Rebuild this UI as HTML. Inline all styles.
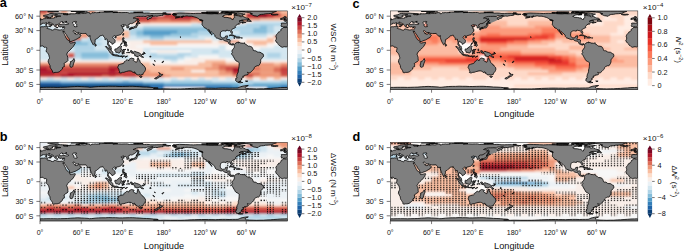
<!DOCTYPE html><html><head><meta charset="utf-8"><style>html,body{margin:0;padding:0;background:#fff;width:685px;height:251px;overflow:hidden}svg{display:block;font-family:"Liberation Sans", sans-serif;}text{fill:#111}</style></head><body>
<svg width="685" height="251" viewBox="0 0 685 251">
<defs>
<path id="land" d="M3.4 76.5L6.9 76.4L10.3 76.4L13.8 76.4L17.2 76.5L20.6 76.4L24.1 76.3L27.5 76.2L30.9 75.9L34.4 75.7L37.8 75.5L41.2 75.7L44.7 75.9L48.1 76.1L49.5 76.4L51.6 76.3L55.0 75.9L58.4 75.6L61.9 75.5L65.3 75.5L68.8 75.3L72.2 75.4L75.6 75.4L79.1 75.6L82.5 75.6L85.9 75.5L89.4 75.4L92.8 75.4L96.2 75.6L99.7 75.8L103.1 76.1L106.6 76.2L110.0 76.4L113.4 76.7L116.9 76.9L118.2 77.2L115.5 77.5L113.4 77.8L114.1 77.9L116.9 78.0L120.3 78.0L123.8 77.9L130.6 78.0L137.5 78.0L140.9 78.0L144.4 77.9L147.8 77.7L151.2 77.5L154.7 77.4L158.1 77.3L161.6 77.2L165.0 77.2L168.4 77.3L171.9 77.3L175.3 77.4L178.8 77.2L182.2 77.1L185.6 77.1L189.1 77.2L192.5 77.1L195.2 77.1L198.0 77.0L199.4 76.4L200.8 75.8L202.1 75.4L204.2 75.0L206.9 74.6L208.3 74.6L207.6 75.1L206.2 75.5L205.6 76.1L204.9 76.5L205.6 77.1L206.2 77.5L209.7 77.8L213.1 77.9L216.6 78.0L220.0 77.9L223.4 77.9L226.9 77.6L230.3 77.5L233.8 77.2L237.2 77.0L240.6 76.7L244.1 76.6L247.5 76.5L247.5 78.8L123.8 78.8L0.0 78.8L0.0 76.5ZM85.9 49.6L86.6 49.1L87.3 48.8L88.1 49.6L89.0 49.6L89.2 48.6L89.7 47.9L90.4 47.7L91.1 47.2L91.8 47.3L93.2 47.7L93.8 47.6L94.0 48.5L93.2 49.4L93.8 49.9L94.7 50.5L95.9 51.2L96.6 51.3L96.9 50.8L97.3 49.9L97.3 48.6L97.6 47.6L98.0 46.7L98.7 48.0L98.7 48.9L99.3 49.1L99.9 49.6L100.0 50.6L100.5 51.8L101.1 52.4L102.3 53.1L102.8 54.3L103.7 54.5L104.0 55.3L105.0 56.2L105.3 56.7L105.6 58.3L105.2 59.7L104.8 60.5L104.0 61.4L103.3 62.4L103.1 63.4L101.4 63.7L100.7 64.2L100.4 64.1L99.6 63.6L98.7 64.1L97.6 63.9L96.6 63.6L95.9 62.4L94.9 62.3L95.2 61.9L94.7 62.0L94.5 60.9L93.5 61.4L93.2 61.9L92.3 60.7L91.4 60.3L90.1 60.0L88.7 60.0L86.6 60.5L85.2 60.9L83.9 61.4L82.5 61.4L81.1 62.0L80.1 62.0L79.1 61.6L79.5 61.1L79.5 60.3L79.1 59.7L79.0 58.8L78.4 57.6L77.8 56.7L78.0 55.7L78.5 54.8L78.4 54.0L79.4 53.6L80.4 53.3L81.8 52.9L83.2 52.6L84.1 51.9L84.0 51.2L84.6 50.6L85.2 50.5ZM30.2 52.9L30.5 51.6L30.2 50.9L32.0 50.1L32.9 49.3L33.5 48.3L33.9 47.6L34.7 49.9L34.2 50.9L33.5 52.9L32.7 55.7L32.3 56.1L31.1 56.4L30.2 56.0L29.8 54.2ZM83.0 46.2L82.5 46.4L81.7 46.0L81.8 45.8ZM85.2 46.3L85.0 46.4L86.0 45.6L87.5 45.2L85.9 46.0ZM80.2 45.1L80.1 45.5L79.8 45.4L79.8 45.1ZM80.4 45.6L80.3 45.2L81.1 45.0L82.0 45.2L81.5 45.4ZM82.8 45.4L82.4 45.2L83.5 45.2L84.6 45.0L84.4 45.4ZM79.5 45.2L79.2 45.4L78.7 45.2L78.8 45.0ZM75.6 45.0L74.2 44.7L73.2 44.5L72.3 44.1L72.9 43.5L74.5 43.7L75.9 44.1L76.7 43.9L77.4 44.1L78.6 44.7L78.7 45.4L77.0 45.1ZM101.4 43.5L101.1 44.1L101.8 44.9L102.8 45.9L103.7 46.4L102.4 46.4L101.4 46.2L100.4 45.0L99.0 44.7L98.3 45.6L96.9 45.6L95.6 45.0L94.9 45.2L94.7 43.2L93.2 42.4L91.4 42.1L90.8 41.3L91.4 41.1L90.3 40.4L90.1 40.1L91.1 39.7L92.1 40.0L92.8 41.7L94.5 40.4L96.2 41.0L98.0 41.6L99.3 42.1L100.2 42.8ZM87.5 41.5L87.3 42.0L86.6 41.9L86.6 41.6ZM89.4 41.4L89.9 41.8L88.3 41.8L88.0 41.4ZM83.2 39.1L82.7 39.8L83.5 40.0L84.8 40.0L84.2 40.6L83.4 40.7L84.4 42.4L83.7 42.8L83.2 41.3L82.8 41.5L82.8 43.2L82.1 43.2L82.2 41.8L81.7 41.3L82.0 40.1L82.4 39.1L83.0 38.5L84.2 38.7L85.9 38.4L84.6 39.1ZM72.7 43.4L71.9 43.5L70.3 42.1L69.4 40.8L68.6 39.7L67.9 38.3L67.0 37.5L66.2 36.7L65.4 35.8L65.5 35.6L67.0 35.8L67.9 36.9L69.1 38.0L69.8 38.2L71.3 39.4L71.8 40.1L72.8 41.3L72.9 42.5ZM88.5 38.7L88.0 39.1L88.5 39.6L87.8 40.0L87.7 39.1L87.7 38.2L88.0 37.9ZM81.0 35.3L82.0 35.8L81.3 36.3L80.9 36.6L81.1 38.2L81.8 38.7L80.8 39.4L80.8 40.0L80.1 41.1L79.8 41.9L78.7 42.1L77.7 41.6L76.8 41.5L75.8 41.4L75.6 40.5L74.9 39.7L74.9 38.7L74.9 38.1L75.3 38.0L76.3 38.3L76.6 37.7L77.7 37.2L78.4 36.2L79.3 35.9L79.8 35.3L80.4 34.6ZM84.9 34.1L83.8 34.6L84.2 34.1L84.9 33.4L85.7 33.3L86.3 32.7L87.0 34.4L86.8 35.1L86.2 35.6L85.4 35.1ZM56.3 34.4L55.9 35.1L55.1 35.3L54.9 33.9L54.9 32.8L55.5 33.0ZM82.0 31.6L82.4 31.9L81.1 33.8L80.6 33.6ZM83.9 32.2L83.9 31.3L84.6 31.5L84.5 32.0L84.8 32.0L84.8 31.7L85.3 31.9L84.8 32.9L84.8 32.7L84.8 33.2L84.5 33.2L84.3 32.2ZM85.5 31.9L85.4 30.9L86.4 31.1L86.3 32.4L85.8 32.6ZM83.5 30.4L83.3 31.1L82.8 30.9L82.7 30.2ZM84.2 30.3L83.5 30.1L82.9 29.7L82.5 29.4L82.4 28.5L82.9 26.9L84.0 26.9L84.0 27.9L83.6 28.7L83.9 29.9L85.2 30.5L85.3 30.9L84.8 30.5ZM76.3 26.1L76.0 26.8L75.3 27.1L74.7 26.4L75.1 25.9L75.8 25.9ZM7.6 15.6L7.3 16.0L7.6 16.5L7.4 16.9L6.9 17.4L7.9 17.8L9.1 18.0L10.5 18.3L11.0 18.9L12.4 19.2L13.1 19.5L13.6 19.1L13.8 18.5L14.8 18.0L15.8 18.2L16.5 18.5L17.3 18.8L19.2 19.1L20.6 19.0L21.3 18.8L22.2 18.9L22.7 19.0L23.2 19.0L23.6 18.8L23.9 18.5L24.1 18.1L24.2 17.9L24.4 17.4L24.7 16.9L24.6 16.5L24.6 16.1L24.9 15.9L24.4 15.9L23.8 15.8L23.1 16.1L22.3 16.2L21.7 15.9L21.1 15.7L21.0 16.0L20.1 16.1L19.6 15.9L19.2 15.8L18.8 15.7L18.7 15.2L18.1 15.0L18.6 14.9L18.4 14.8L18.4 14.4L18.1 14.2L18.0 13.9L17.9 13.7L17.2 13.6L16.5 13.7L16.3 14.0L15.7 13.8L15.8 14.1L15.7 14.5L15.9 14.7L16.6 15.0L16.3 15.2L15.9 15.5L15.8 16.0L15.4 16.0L14.9 15.8L14.7 15.4L14.5 14.9L14.2 14.6L13.8 14.2L13.3 13.8L13.4 13.6L13.3 13.1L12.9 12.9L12.4 12.7L12.0 12.5L11.3 12.3L10.7 12.0L10.3 11.7L10.0 11.4L9.6 11.6L9.3 11.5L9.5 11.2L8.9 11.2L8.5 11.3L8.6 11.9L9.3 12.2L9.5 12.4L10.0 12.8L10.5 13.0L11.0 13.3L11.7 13.6L12.4 13.7L12.7 14.0L12.4 13.8L11.8 13.8L11.3 14.2L11.8 14.3L11.8 14.6L11.4 14.9L11.1 15.2L10.8 15.1L10.9 14.6L10.7 14.0L10.2 13.8L9.6 13.7L8.9 13.4L8.5 13.2L7.7 12.8L7.3 12.6L7.1 12.3L6.7 12.0L6.1 11.8L5.6 12.1L5.0 12.2L4.3 12.5L3.7 12.4L3.1 12.3L2.4 12.4L2.1 12.5L2.2 12.8L2.2 13.1L1.5 13.3L1.0 13.4L0.6 13.7L0.0 14.1L0.0 9.5L0.1 9.5L0.1 9.4L0.7 9.3L1.1 9.1L1.1 8.8L1.7 8.7L2.3 8.6L2.8 8.4L3.0 8.3L3.2 8.0L3.4 7.9L4.1 7.8L4.8 7.7L5.5 7.7L5.9 7.6L6.1 7.4L6.0 7.2L5.9 7.0L5.6 6.7L5.6 6.5L6.2 6.3L6.7 6.2L7.3 6.1L7.3 6.2L7.1 6.6L6.9 6.9L6.9 7.0L7.1 6.9L7.4 7.0L7.2 7.1L7.1 7.1L6.9 7.3L7.5 7.4L7.6 7.5L8.5 7.4L9.3 7.4L10.0 7.6L11.0 7.4L11.7 7.2L12.6 7.2L12.9 7.4L13.5 7.3L14.1 7.2L14.6 7.0L14.5 6.7L14.4 6.4L14.9 6.2L15.5 6.1L16.1 6.4L16.6 6.4L16.8 6.3L16.7 5.9L16.2 5.8L16.2 5.6L16.8 5.5L18.2 5.5L19.2 5.5L19.9 5.3L20.8 5.3L20.3 5.2L19.6 5.1L18.2 5.1L17.2 5.2L16.2 5.3L15.3 5.2L14.8 5.1L14.7 4.9L14.7 4.6L14.9 4.3L15.8 4.1L16.8 4.0L17.5 3.8L17.4 3.7L16.6 3.5L15.5 3.5L14.8 3.6L14.6 3.9L13.8 4.1L12.7 4.3L12.0 4.5L11.9 4.8L12.2 5.1L13.0 5.3L12.4 5.6L11.4 5.8L11.3 6.3L11.0 6.6L10.0 6.7L9.8 7.0L8.9 6.9L8.6 6.5L8.2 6.1L7.9 5.8L7.6 5.6L7.4 5.3L7.2 5.5L6.5 5.6L5.7 5.9L4.8 6.0L4.5 6.0L3.9 5.7L3.6 5.5L3.4 5.1L3.4 4.9L3.6 4.5L4.8 4.4L5.8 4.1L6.9 4.0L7.7 3.7L8.6 3.4L8.9 3.1L9.6 2.8L11.0 2.6L13.1 2.4L14.8 2.3L16.2 2.2L17.7 2.1L19.2 2.2L20.6 2.4L22.7 2.5L24.8 2.6L26.8 2.8L28.3 3.0L28.2 3.2L25.4 3.4L23.9 3.3L23.0 3.3L23.7 3.5L24.1 3.8L25.1 3.7L26.1 3.9L27.8 3.8L26.8 3.6L27.5 3.4L28.9 3.3L30.2 3.4L29.8 2.7L30.4 2.8L32.0 2.9L34.4 2.9L36.8 2.6L37.8 2.8L40.6 2.7L41.6 2.4L44.3 2.6L45.9 2.5L46.1 2.3L47.1 1.8L48.1 1.6L49.2 1.8L50.0 2.0L49.8 2.6L50.5 2.9L51.2 2.7L51.9 1.8L53.6 1.9L55.3 1.6L56.4 1.8L59.8 1.6L59.1 1.4L61.2 1.3L64.6 1.2L67.4 1.2L68.8 1.1L71.7 0.9L76.3 1.1L77.7 1.3L74.9 1.4L72.9 1.7L75.6 1.6L77.0 1.6L78.4 1.6L81.8 1.7L85.2 1.6L87.3 1.6L88.0 1.8L89.4 2.2L90.8 2.0L93.5 2.0L96.2 1.8L99.0 1.8L101.8 1.9L104.5 2.2L106.6 2.1L109.3 2.2L110.7 2.5L114.1 2.5L116.9 2.4L121.0 2.4L123.8 2.6L125.8 2.7L127.9 3.1L130.8 3.4L129.2 3.5L128.9 3.8L127.2 3.8L125.1 3.5L124.4 3.7L122.7 3.8L122.7 4.1L123.1 4.4L121.7 4.5L120.0 4.7L118.6 4.9L117.1 5.3L115.5 5.1L113.8 5.3L112.4 5.6L112.3 6.1L111.4 6.7L111.2 7.3L110.0 7.5L109.0 7.9L108.3 8.6L107.7 8.8L107.4 8.1L107.0 7.5L107.1 6.9L107.6 6.4L108.6 6.0L110.3 5.5L111.4 5.1L112.1 4.9L113.1 4.5L112.1 4.5L110.3 4.7L109.3 4.7L107.6 4.8L106.6 5.1L106.2 5.5L104.8 5.6L103.7 5.4L101.8 5.5L100.4 5.5L98.4 5.5L96.2 6.0L94.5 6.5L93.2 7.2L94.2 7.3L95.2 7.5L96.6 7.7L97.1 8.1L96.9 8.6L96.6 9.2L96.2 9.9L95.2 10.6L94.5 11.3L93.8 11.6L92.8 12.3L91.5 12.7L90.7 12.5L89.9 12.8L89.2 13.1L89.2 13.7L88.2 14.1L87.7 14.5L88.3 14.9L88.8 15.3L89.0 16.0L88.9 16.6L88.3 16.8L87.7 17.0L86.8 17.0L86.9 16.5L87.0 15.7L86.7 15.3L86.1 14.9L85.9 14.3L85.5 14.1L84.9 14.2L84.2 14.4L83.6 14.7L84.0 13.8L83.2 13.7L82.2 14.1L81.5 14.5L80.9 14.6L81.1 14.9L81.7 15.1L81.8 15.6L82.8 15.4L83.5 15.3L84.3 15.5L83.5 15.8L82.8 16.2L82.5 16.5L82.0 17.0L82.7 17.2L83.0 18.2L83.7 18.7L83.8 19.1L83.2 19.5L83.8 19.8L83.5 20.3L82.8 20.9L82.4 21.5L82.2 22.1L81.7 22.7L81.2 23.1L80.8 23.6L80.1 24.0L79.4 24.1L78.5 24.4L77.7 24.5L76.8 24.9L76.0 25.2L75.8 25.7L75.6 25.1L75.0 25.0L74.6 24.8L73.9 25.0L73.4 25.4L72.7 26.1L72.7 26.7L73.2 27.4L73.8 28.0L74.4 28.5L74.8 28.9L75.1 29.5L75.1 30.5L75.1 31.4L74.6 31.9L73.6 32.3L73.3 32.9L72.5 33.2L72.0 33.5L72.0 32.6L71.5 32.2L70.8 31.9L70.5 31.2L69.4 30.7L69.4 30.3L68.9 30.3L68.7 30.7L68.5 31.4L68.2 32.2L68.3 32.9L68.8 33.5L69.0 34.3L69.7 34.7L70.3 35.1L70.9 35.7L71.1 36.7L71.4 37.6L71.6 38.4L71.4 38.5L71.1 38.5L70.3 37.9L69.8 37.6L69.4 37.3L69.2 36.5L69.0 35.7L68.4 34.7L67.9 34.1L67.6 33.7L67.6 32.6L67.7 31.9L67.8 31.1L67.5 30.2L67.2 29.2L67.1 28.2L66.7 27.9L66.2 28.2L65.9 28.6L65.3 28.7L64.8 28.5L65.0 27.9L64.8 27.2L64.4 26.4L63.9 25.9L63.5 25.5L63.2 25.1L63.1 24.4L62.9 24.2L62.2 24.4L61.7 24.6L61.0 24.8L60.5 24.8L59.8 25.0L59.7 25.5L59.0 26.1L58.1 26.8L57.3 27.4L56.6 28.1L55.8 28.4L55.2 28.7L55.1 29.2L55.2 30.3L55.1 30.9L54.9 31.7L54.5 32.4L54.3 33.0L53.8 33.4L53.3 33.8L52.7 33.4L52.5 32.6L52.2 32.2L51.8 31.3L51.4 30.6L51.2 30.0L50.7 28.9L50.4 27.9L50.0 26.6L50.1 25.9L50.0 25.3L49.9 24.6L49.8 25.2L48.8 25.5L47.9 24.9L47.3 24.3L46.9 23.7L46.4 23.4L46.1 22.9L45.9 22.5L44.7 22.6L43.7 22.6L42.3 22.7L40.9 22.5L39.7 22.4L39.4 22.1L38.7 21.4L37.7 21.8L36.4 21.5L35.4 21.0L34.9 20.3L34.0 19.7L33.3 19.7L33.0 20.1L33.3 20.7L34.0 21.4L34.4 21.9L34.5 22.4L34.9 22.9L35.2 22.1L35.5 22.3L35.5 23.2L36.4 23.3L37.5 23.2L38.2 22.4L38.7 21.9L38.7 22.4L39.0 23.1L39.5 23.5L40.3 23.6L41.1 24.3L40.2 25.6L39.7 26.6L38.8 26.9L37.8 27.6L36.8 28.1L35.9 28.7L35.1 29.1L33.8 29.5L32.3 30.1L30.9 30.7L29.9 30.7L29.6 29.9L29.4 28.7L29.1 27.9L28.3 26.9L27.5 25.9L27.0 25.0L26.5 24.0L25.8 23.2L25.2 22.3L24.5 21.4L24.1 20.9L24.0 20.0L23.6 21.1L22.8 20.6L23.2 21.4L23.9 22.4L24.4 23.5L24.8 24.5L25.4 25.3L25.6 26.2L26.1 27.1L26.7 27.9L27.2 28.8L27.8 29.0L28.5 29.5L29.2 30.2L29.8 30.8L29.7 31.5L30.2 32.2L30.9 32.3L31.6 32.1L33.3 31.7L34.4 31.5L35.1 31.3L35.3 32.3L34.9 32.9L34.2 34.1L33.3 35.6L32.3 36.7L31.1 38.0L29.9 39.1L28.6 40.5L27.6 41.3L27.3 42.1L26.7 43.2L27.0 44.1L27.3 44.9L27.8 46.6L27.8 47.9L28.0 49.6L27.2 50.6L25.8 51.2L24.9 52.1L23.9 52.7L24.4 53.8L24.3 54.8L24.4 55.7L23.0 56.2L22.4 56.7L22.6 57.0L22.3 58.2L21.3 59.0L20.6 59.7L19.6 60.6L18.6 61.1L17.6 61.4L16.5 61.5L15.1 61.5L13.8 61.9L13.4 61.8L12.6 61.4L12.5 60.2L12.0 59.4L11.3 58.3L10.9 57.8L10.4 57.0L10.2 56.4L10.0 54.8L10.0 54.5L9.2 53.2L8.6 51.9L8.1 51.1L8.3 49.7L8.6 48.6L9.3 47.8L9.5 46.7L9.1 45.4L8.9 44.5L8.5 43.5L8.1 42.7L7.4 41.8L6.5 41.1L6.0 39.9L6.4 39.4L6.5 38.7L6.7 37.7L6.7 36.8L6.2 36.7L5.7 36.2L4.8 36.4L4.1 36.4L3.9 36.0L3.1 35.1L2.3 35.0L1.7 35.1L0.8 35.2L0.0 35.6L0.0 16.2L0.7 16.0L2.1 15.8L3.4 15.9L4.3 15.6L5.4 15.7L5.9 15.7L6.8 15.5ZM26.1 11.8L25.4 11.4L26.5 10.7L27.0 10.5L25.8 10.6L24.4 11.3L23.0 11.8L22.3 11.3L23.0 11.1L21.7 10.8L21.1 10.8L20.4 11.4L19.7 12.0L19.2 12.5L19.2 13.2L19.2 13.4L19.9 13.4L21.3 13.5L22.7 13.1L24.1 13.0L25.1 13.4L26.1 13.6L27.5 13.6L28.5 13.3L28.7 12.8L27.5 12.3ZM36.5 14.4L37.0 13.8L36.3 13.3L36.1 13.0L35.4 12.4L35.2 11.8L36.4 11.4L36.5 10.7L35.4 10.5L34.0 10.9L33.3 10.9L32.7 11.3L32.7 12.5L33.4 13.1L34.0 13.8L33.8 14.6L33.6 15.0L34.0 15.4L35.1 15.9L37.1 15.7L37.1 15.1ZM0.1 14.7L0.0 14.8L0.0 14.6ZM83.9 22.7L83.5 24.1L83.0 24.6L82.6 24.0L82.6 23.5L83.2 22.7ZM90.5 17.8L90.3 18.9L89.9 19.1L89.5 18.9L89.2 18.1L89.2 17.7L90.0 17.4ZM92.6 17.5L92.1 17.8L91.4 18.1L91.1 17.9L91.4 17.4L92.5 17.3ZM18.1 16.6L17.9 16.8L16.5 16.8L16.2 16.6ZM22.7 17.0L22.2 17.0L22.7 16.6L23.8 16.4L23.3 16.8ZM10.7 15.0L10.4 15.5L10.4 15.9L9.8 15.7L8.5 15.4L8.5 15.3L9.3 15.0ZM96.2 14.1L96.2 13.8L96.5 13.4L97.3 13.3L97.3 13.8L97.6 14.3L97.3 15.0L96.9 15.4L96.8 16.2L96.2 16.7L95.7 16.7L95.4 17.0L94.3 17.0L94.0 17.2L93.4 17.7L92.9 17.1L91.8 17.1L91.1 17.3L90.1 17.4L90.0 17.4L90.7 16.9L91.4 16.5L92.8 16.4L93.5 16.3L94.0 15.6L94.4 15.8L95.3 15.3L96.0 14.8ZM6.7 13.8L6.6 14.5L6.2 14.7L5.8 14.6L5.8 13.6L6.3 13.4ZM6.3 13.3L5.9 13.3L5.9 12.8L6.5 12.5L6.5 13.0ZM0.1 7.7L0.2 7.9L1.2 8.1L0.6 8.4L1.0 8.6L0.7 8.8L0.0 8.8L0.0 7.6ZM8.1 7.1L7.6 7.0L7.8 6.7L8.7 6.7L8.5 7.0ZM38.5 2.0L39.5 2.2L37.8 2.2L35.8 2.1L36.4 1.8L38.5 1.5L40.6 1.2L45.4 1.0L47.4 1.0L44.0 1.3L41.2 1.5L39.2 1.8ZM11.0 0.6L13.8 0.5L18.6 0.6L15.1 0.8L13.1 1.0L11.0 1.1L9.6 0.9L7.6 0.8ZM72.9 0.7L70.1 0.8L67.4 0.9L63.9 0.7L66.7 0.5L68.8 0.5ZM37.8 0.4L44.7 0.5L39.9 0.6L30.9 0.6ZM201.8 71.5L202.7 71.6L201.4 71.7L200.4 71.9L199.4 71.8L198.3 71.5L199.0 71.1L200.3 70.7ZM207.8 70.2L207.3 70.5L205.9 70.5L205.4 70.1ZM115.8 66.8L117.2 66.3L117.9 65.6L118.3 65.1L118.7 65.0L119.8 65.5L119.4 66.2L118.7 66.7L117.7 67.0L117.2 67.7L116.2 68.1L114.5 67.7L115.2 67.1ZM100.7 65.3L102.0 65.2L102.0 65.9L101.1 66.6L100.4 66.6L99.8 65.9L99.4 65.1ZM120.3 65.5L120.0 64.7L119.5 64.3L120.0 63.7L119.8 63.0L118.9 62.2L118.7 61.7L119.3 62.0L120.0 62.4L120.7 63.1L121.3 63.5L122.7 63.5L122.3 64.3L121.6 64.6L121.0 65.5ZM113.0 53.4L112.8 53.0L113.8 53.5L114.8 54.4L114.4 54.4ZM122.7 51.1L122.8 51.6L122.0 51.7L121.9 51.2ZM123.8 50.3L123.4 50.8L122.9 50.8L122.9 50.4ZM115.0 49.7L115.2 50.6L114.8 50.4L114.5 49.6ZM110.3 45.8L110.6 46.2L109.8 46.1L109.7 45.8ZM110.8 45.3L111.0 46.0L110.6 45.6L110.3 45.1ZM104.7 42.4L104.2 43.2L103.1 43.7L102.1 43.5L102.0 43.2L103.1 42.8L104.2 42.4L104.6 42.4L104.2 42.0L103.5 41.2L104.5 41.7L105.2 42.6L105.0 42.8ZM158.1 2.4L161.6 2.5L165.0 2.6L168.4 2.9L171.9 2.9L174.6 2.7L178.1 2.9L180.1 2.7L181.8 2.9L182.5 2.0L183.6 2.5L186.3 2.7L188.4 3.0L190.4 2.5L191.5 2.7L191.5 3.1L188.7 3.3L188.4 3.4L191.8 3.7L190.4 4.0L187.7 4.1L187.7 3.8L185.6 4.0L183.2 4.8L182.5 5.6L183.6 5.7L183.9 6.4L187.0 6.5L189.1 7.0L190.9 7.1L191.1 7.9L192.2 8.6L193.2 8.6L193.3 7.5L194.7 6.5L194.2 6.0L194.6 5.3L193.9 4.5L195.9 4.5L198.3 4.9L199.4 4.9L199.7 5.6L201.1 5.9L202.8 5.2L203.2 5.7L204.9 6.4L205.2 6.7L206.2 7.1L208.0 7.3L209.0 7.9L209.1 8.4L208.3 8.6L206.2 9.1L203.5 9.1L201.8 9.2L200.4 9.7L199.0 10.5L199.7 10.1L200.8 9.8L202.8 9.6L203.3 9.8L202.8 10.1L202.9 10.4L203.5 11.0L205.6 11.2L206.2 11.0L205.7 11.5L204.2 11.8L202.3 12.3L202.0 11.8L203.2 11.4L201.4 11.5L201.1 11.8L200.1 12.0L199.2 12.2L198.8 12.6L199.0 13.1L199.4 13.2L199.0 13.3L198.3 13.3L197.7 13.4L196.7 13.8L196.6 14.1L196.0 14.7L195.6 15.1L195.2 15.7L195.6 16.5L194.9 17.0L193.9 17.4L193.1 17.8L192.2 18.3L191.7 18.8L191.5 19.4L191.6 19.8L192.2 20.6L192.5 21.6L192.4 22.3L192.2 22.6L191.7 22.6L191.3 22.1L190.7 21.2L190.6 20.6L190.1 19.9L189.5 19.7L188.8 19.9L188.0 19.5L187.0 19.3L186.1 19.5L186.1 20.2L185.3 20.2L184.2 19.9L183.0 19.9L182.2 20.2L181.2 20.8L180.6 21.2L180.5 22.3L180.3 23.2L180.3 24.3L180.5 25.3L181.3 26.4L182.2 26.8L182.7 27.1L183.7 26.9L184.6 26.9L185.3 26.1L185.4 25.3L186.7 25.0L187.7 25.0L187.3 25.9L187.2 26.9L186.8 27.6L186.7 28.5L187.0 28.7L188.0 28.7L189.4 28.6L190.2 29.2L190.0 30.2L190.1 31.2L189.9 31.9L190.4 32.6L191.3 33.2L192.2 33.1L192.8 32.8L193.9 33.1L194.4 33.5L195.2 33.0L195.6 32.2L196.1 31.9L197.0 31.7L197.8 31.3L198.5 31.0L198.3 31.9L198.7 32.2L199.2 31.5L199.4 31.1L200.4 32.2L201.8 32.2L203.2 32.4L204.2 32.1L205.0 32.1L204.5 32.4L205.6 33.2L205.9 33.6L206.6 33.9L207.4 34.7L208.3 35.3L209.7 35.3L210.7 35.6L211.8 36.1L212.1 36.5L212.4 37.0L212.8 38.0L213.1 38.7L213.2 39.4L214.2 39.8L215.2 39.8L216.6 40.4L217.1 41.1L218.6 41.3L220.0 41.3L221.0 41.9L222.1 42.7L223.1 43.0L223.4 43.9L223.6 44.9L223.3 45.9L222.4 46.6L221.7 47.6L221.0 48.3L220.7 49.3L220.7 50.9L220.2 52.6L219.7 53.2L219.3 54.2L218.6 54.8L217.2 54.8L216.2 55.3L215.2 55.8L214.2 56.7L214.0 57.9L213.3 58.7L212.4 59.7L211.7 60.4L210.7 61.3L210.0 61.9L209.2 61.9L208.4 61.7L207.4 61.4L207.4 61.8L208.0 62.3L208.5 62.8L208.0 63.7L206.9 64.0L205.6 64.2L204.7 64.2L204.9 64.7L203.8 65.2L202.8 65.2L202.8 65.8L203.6 66.0L203.2 66.3L202.6 67.0L201.4 67.6L201.1 68.0L202.1 68.4L201.1 69.1L200.4 69.8L199.9 70.3L200.5 70.6L199.4 70.7L198.7 71.2L197.3 71.1L196.3 70.4L195.6 69.6L195.6 68.7L196.3 68.0L195.6 67.7L196.6 67.3L197.0 66.3L196.6 65.8L196.8 65.0L197.0 63.9L197.2 63.1L197.7 62.3L198.2 61.1L198.3 60.3L198.3 59.1L198.5 58.2L198.8 57.3L199.0 55.7L199.1 54.2L199.2 52.9L199.2 51.8L198.4 51.2L197.3 50.6L195.8 49.8L195.1 48.9L194.7 47.9L194.0 46.9L193.3 45.6L192.6 44.3L191.8 43.5L191.6 42.6L192.3 41.7L192.6 41.2L191.9 40.4L192.2 39.4L192.5 38.8L193.2 38.4L193.5 37.7L194.2 36.8L194.4 35.6L194.2 34.6L193.9 34.3L193.6 33.7L192.8 33.3L192.5 34.3L191.8 34.1L190.8 33.8L190.0 33.6L188.6 32.6L188.5 31.9L187.7 30.9L187.3 30.4L186.0 30.2L184.9 29.9L184.0 29.5L183.2 28.7L182.5 28.4L181.2 28.7L179.8 28.3L178.8 27.9L177.7 27.4L176.3 27.0L175.7 26.4L175.0 25.6L175.1 25.0L174.6 24.0L173.6 23.1L172.6 22.1L171.2 21.0L169.9 19.7L168.6 18.6L169.1 19.7L169.9 20.9L170.8 22.1L171.5 23.2L172.2 23.9L171.9 24.1L170.8 23.1L170.4 22.7L170.5 21.8L169.1 21.2L168.8 20.6L168.0 19.7L167.3 18.7L166.9 18.1L166.0 17.4L164.6 17.1L163.7 15.9L163.3 15.3L162.5 14.6L162.0 13.9L162.1 13.0L162.2 12.0L162.2 10.9L161.8 9.9L162.9 10.0L163.1 9.7L162.2 9.2L161.2 9.0L159.8 8.8L159.5 8.4L158.1 7.5L157.4 7.1L156.1 6.5L154.3 6.0L153.3 5.7L151.6 5.3L149.9 5.3L148.5 5.3L147.1 5.0L145.8 5.1L144.4 5.5L143.1 5.6L143.7 5.0L142.7 5.3L141.6 5.6L140.2 6.2L138.5 6.7L136.8 7.0L135.1 7.1L136.1 6.8L137.5 6.5L138.9 6.2L139.6 5.7L138.2 5.8L136.1 5.8L136.1 5.3L134.4 5.1L133.7 4.8L133.4 4.5L134.4 4.2L136.8 4.0L136.8 3.8L135.4 3.8L133.0 3.8L132.0 3.5L133.4 3.3L134.8 3.3L136.1 3.4L135.1 3.0L134.1 2.9L133.2 2.6L135.4 2.4L139.7 2.1L143.0 2.2L145.8 2.3L149.2 2.4L150.6 2.5L153.3 2.6L155.4 2.5ZM195.0 27.2L194.7 27.3L193.7 27.1L193.7 27.0ZM202.4 27.0L202.3 27.2L201.3 27.2L201.3 26.9ZM197.4 26.0L199.4 26.1L200.5 26.8L200.1 27.0L198.7 27.2L197.7 27.1L196.4 27.0L196.4 26.9ZM140.9 26.1L140.5 26.6L140.2 26.2L140.3 25.8ZM194.4 25.5L193.5 25.0L192.2 24.8L191.3 24.6L190.4 24.6L189.5 24.9L189.1 24.7L189.8 24.2L191.1 23.9L192.5 23.9L194.2 24.8L195.5 25.2L196.5 25.8L195.6 26.0L194.1 26.0ZM99.0 12.6L98.5 13.0L97.3 12.7L96.9 13.1L96.2 13.3L96.3 12.8L96.1 12.7L97.2 12.4L97.4 11.3L98.0 11.5L98.7 11.9L99.9 11.9L100.2 12.3ZM211.1 10.8L210.4 10.6L209.3 10.6L209.0 10.3L206.7 10.3L206.9 9.9L208.0 9.0L208.7 8.6L209.3 8.5L209.1 9.2L210.7 9.5L211.1 10.1L211.3 10.4ZM159.8 9.2L159.3 8.9L160.2 9.0L161.6 9.2L162.2 9.6L162.6 10.0L161.6 9.8ZM98.3 10.4L98.7 11.1L98.1 10.7L97.6 11.1L97.8 10.4L97.6 9.7L97.8 8.8L97.4 7.9L98.0 7.4L98.5 8.1L98.4 8.8L99.3 9.7ZM241.7 7.4L241.7 7.2L242.5 7.0L243.4 7.0L243.7 7.3L243.4 7.5L243.2 7.9L243.4 8.3L243.0 8.3L242.0 8.4L241.0 8.6L240.4 8.4L240.7 8.3L241.3 7.9L240.8 7.8L240.6 7.4ZM245.5 7.8L245.3 7.5L245.2 7.2L244.2 7.2L243.9 7.0L243.6 6.6L243.6 6.2L244.1 5.8L245.4 5.8L244.8 6.1L245.4 6.1L246.3 6.2L245.7 6.6L246.1 6.7L246.5 6.9L247.2 7.3L247.5 7.6L247.5 8.8L246.8 8.9L245.4 8.9L244.6 9.0L243.6 9.2L243.9 8.8L244.6 8.7L245.4 8.6L244.8 8.5L243.9 8.4L244.6 8.3L244.7 8.0L244.3 7.8ZM247.4 35.6L246.1 36.1L244.8 35.8L243.5 36.0L242.3 36.4L241.0 35.8L240.1 35.1L239.7 34.7L238.9 34.3L238.4 33.7L238.4 33.2L237.9 32.6L237.2 32.0L236.8 31.5L236.0 31.0L235.9 30.3L235.5 29.4L235.7 29.3L236.2 28.5L236.4 27.2L236.2 26.2L235.8 25.3L236.3 24.3L236.6 23.6L237.5 22.7L238.2 21.8L238.6 21.0L239.6 20.8L240.5 20.1L240.9 19.5L240.8 18.9L241.1 18.2L241.7 17.8L242.3 17.6L242.8 17.4L243.4 16.4L243.9 16.3L245.0 16.7L246.0 16.7L247.1 16.4L247.5 16.2L247.5 35.6ZM247.3 14.3L247.5 14.6L247.5 14.8L247.2 15.0L247.0 15.4L246.4 15.5L246.1 15.8L245.4 15.9L244.5 15.9L244.1 16.0L243.6 16.2L243.4 16.1L243.2 15.9L242.4 15.6L242.1 15.7L241.3 15.7L241.4 15.2L241.4 14.9L241.0 14.7L241.0 14.4L241.3 14.1L241.5 13.5L241.4 13.0L241.3 12.8L241.1 12.5L242.0 12.2L242.7 12.2L243.7 12.2L244.9 12.3L245.8 12.3L246.5 12.3L246.7 11.7L246.7 11.2L246.5 11.0L246.1 10.6L245.6 10.4L245.1 10.3L244.5 10.2L244.3 9.9L245.1 9.8L245.8 9.9L246.4 9.8L246.2 9.4L246.6 9.4L246.7 9.5L247.2 9.5L247.5 9.5L247.5 14.1ZM142.7 6.2L141.3 6.4L141.3 6.2L142.0 6.0L143.0 5.9ZM232.4 4.0L231.9 3.7L231.0 3.5L232.4 3.3L235.1 3.4L236.5 3.3L237.5 3.4L238.2 3.6L237.5 3.9L236.2 4.0L234.6 4.2ZM193.5 2.4L192.5 2.4L189.1 2.4L187.0 2.1L185.6 1.8L187.0 1.6L192.5 1.6L195.2 1.8L198.0 2.0L200.1 2.3L201.4 2.6L203.5 3.0L205.2 3.2L204.5 3.4L203.2 3.7L202.5 3.8L202.8 4.3L202.8 4.6L201.4 4.3L200.4 4.5L198.7 4.1L196.6 3.8L194.0 3.8L193.9 3.5L196.6 3.0L197.0 2.7ZM166.4 2.1L166.4 1.8L170.5 1.7L175.3 1.7L178.1 2.3L178.1 2.6L171.9 2.7L166.4 2.5ZM124.8 2.0L126.2 2.1L123.8 2.2L122.7 2.1ZM234.4 1.2L233.8 1.5L232.4 1.8L232.4 2.3L231.0 2.5L228.2 2.8L225.5 2.9L223.4 3.4L221.4 3.5L220.0 3.8L218.6 4.5L217.9 5.3L216.9 5.3L215.9 5.0L214.2 4.8L213.1 4.4L212.4 4.0L211.4 3.5L210.7 3.3L210.7 2.9L212.4 2.7L211.8 2.5L210.0 2.3L210.4 2.0L209.3 1.8L208.3 1.5L206.9 1.3L204.9 1.2L202.1 1.1L200.1 1.0L198.0 0.9L197.3 0.8L202.1 0.5L206.2 0.4L213.1 0.3L220.0 0.3L226.9 0.3L233.8 0.4L236.5 0.5L235.1 0.9ZM167.8 1.6L166.4 1.8L165.0 2.0L161.6 2.0L161.6 1.6L165.0 1.5ZM180.8 1.5L183.6 1.5L183.6 1.9L180.8 1.9ZM103.1 1.3L99.7 1.4L96.2 1.6L93.5 1.4L96.2 1.2L99.7 1.2ZM181.5 0.7L184.2 0.5L189.1 0.3L199.4 0.3L204.9 0.4L199.4 0.6L195.2 0.9L192.5 1.1L191.3 1.1L192.5 1.4L184.2 1.4L184.2 1.1L188.4 1.1L185.6 1.1L184.2 0.9ZM178.8 1.4L168.4 1.4L166.4 1.1L171.9 1.0L178.8 1.1Z"/>
<path id="nansea" d="M88.3 17.1L89.0 16.5L89.0 15.4L88.3 14.9L89.2 13.7L90.7 12.5L92.8 12.3L95.2 10.6L96.6 9.2L96.9 8.1L94.5 7.5L93.2 7.2L94.5 6.5L98.4 5.5L103.7 5.4L106.2 5.5L107.6 6.4L107.7 8.8L105.2 10.1L101.8 11.5L100.0 12.4L97.3 13.4L96.2 14.1L96.0 14.8L95.3 15.3L94.0 15.6L91.4 16.5L90.1 17.4Z"/>
<clipPath id="mapclip"><rect x="0" y="0" width="247.5" height="78.8"/></clipPath>
<filter id="bl" x="-5%" y="-10%" width="110%" height="120%"><feGaussianBlur stdDeviation="1.0"/></filter>
<pattern id="dots" width="3.05" height="2.2" patternUnits="userSpaceOnUse"><rect x="1" y="0.6" width="1.25" height="1.2" fill="#000"/></pattern>
</defs>
<g transform="translate(40.0,10.9)">
<g clip-path="url(#mapclip)">
<rect x="0" y="0" width="247.5" height="78.8" fill="#f7f7f7"/>
<g filter="url(#bl)">
<rect x="-3.0" y="-3.0" width="10.2" height="5.76" fill="#c6403e"/>
<rect x="6.9" y="-3.0" width="7.2" height="5.76" fill="#dc6d57"/>
<rect x="13.8" y="-3.0" width="7.2" height="5.76" fill="#f9eee8"/>
<rect x="20.6" y="-3.0" width="7.2" height="5.76" fill="#ee9878"/>
<rect x="27.5" y="-3.0" width="14.1" height="5.76" fill="#f9eee8"/>
<rect x="41.2" y="-3.0" width="7.2" height="5.76" fill="#f7f7f7"/>
<rect x="48.1" y="-3.0" width="7.2" height="5.76" fill="#ee9878"/>
<rect x="55.0" y="-3.0" width="27.8" height="5.76" fill="#f9eee8"/>
<rect x="82.5" y="-3.0" width="7.2" height="5.76" fill="#f7f7f7"/>
<rect x="89.4" y="-3.0" width="7.2" height="5.76" fill="#d3e6f0"/>
<rect x="96.2" y="-3.0" width="7.2" height="5.76" fill="#f7f7f7"/>
<rect x="103.1" y="-3.0" width="7.2" height="5.76" fill="#d3e6f0"/>
<rect x="110.0" y="-3.0" width="14.1" height="5.76" fill="#f7f7f7"/>
<rect x="123.8" y="-3.0" width="7.2" height="5.76" fill="#d3e6f0"/>
<rect x="130.6" y="-3.0" width="7.2" height="5.76" fill="#f7f7f7"/>
<rect x="137.5" y="-3.0" width="7.2" height="5.76" fill="#d3e6f0"/>
<rect x="144.4" y="-3.0" width="62.2" height="5.76" fill="#f7f7f7"/>
<rect x="206.2" y="-3.0" width="14.1" height="5.76" fill="#f8bda0"/>
<rect x="220.0" y="-3.0" width="20.9" height="5.76" fill="#ee9878"/>
<rect x="240.6" y="-3.0" width="10.2" height="5.76" fill="#f8bda0"/>
<rect x="-3.0" y="2.5" width="10.2" height="2.76" fill="#ee9878"/>
<rect x="6.9" y="2.5" width="117.2" height="2.76" fill="#f9eee8"/>
<rect x="123.8" y="2.5" width="55.3" height="2.76" fill="#c6403e"/>
<rect x="178.8" y="2.5" width="27.8" height="2.76" fill="#f8bda0"/>
<rect x="206.2" y="2.5" width="7.2" height="2.76" fill="#ad162a"/>
<rect x="213.1" y="2.5" width="14.1" height="2.76" fill="#7e0823"/>
<rect x="226.9" y="2.5" width="7.2" height="2.76" fill="#ad162a"/>
<rect x="233.8" y="2.5" width="7.2" height="2.76" fill="#c6403e"/>
<rect x="240.6" y="2.5" width="10.2" height="2.76" fill="#ee9878"/>
<rect x="-3.0" y="4.9" width="99.5" height="2.76" fill="#f8bda0"/>
<rect x="96.2" y="4.9" width="20.9" height="2.76" fill="#ad162a"/>
<rect x="116.9" y="4.9" width="20.9" height="2.76" fill="#c6403e"/>
<rect x="137.5" y="4.9" width="41.5" height="2.76" fill="#ad162a"/>
<rect x="178.8" y="4.9" width="27.8" height="2.76" fill="#f8bda0"/>
<rect x="206.2" y="4.9" width="7.2" height="2.76" fill="#c6403e"/>
<rect x="213.1" y="4.9" width="14.1" height="2.76" fill="#ad162a"/>
<rect x="226.9" y="4.9" width="7.2" height="2.76" fill="#c6403e"/>
<rect x="233.8" y="4.9" width="7.2" height="2.76" fill="#dc6d57"/>
<rect x="240.6" y="4.9" width="10.2" height="2.76" fill="#ee9878"/>
<rect x="-3.0" y="7.4" width="92.7" height="2.76" fill="#f8bda0"/>
<rect x="89.4" y="7.4" width="7.2" height="2.76" fill="#ee9878"/>
<rect x="96.2" y="7.4" width="20.9" height="2.76" fill="#c6403e"/>
<rect x="116.9" y="7.4" width="14.1" height="2.76" fill="#dc6d57"/>
<rect x="130.6" y="7.4" width="20.9" height="2.76" fill="#c6403e"/>
<rect x="151.2" y="7.4" width="7.2" height="2.76" fill="#dc6d57"/>
<rect x="158.1" y="7.4" width="62.2" height="2.76" fill="#ee9878"/>
<rect x="220.0" y="7.4" width="30.8" height="2.76" fill="#f8bda0"/>
<rect x="-3.0" y="9.8" width="17.1" height="2.76" fill="#f9eee8"/>
<rect x="13.8" y="9.8" width="75.9" height="2.76" fill="#f7f7f7"/>
<rect x="89.4" y="9.8" width="7.2" height="2.76" fill="#f8bda0"/>
<rect x="96.2" y="9.8" width="14.1" height="2.76" fill="#dc6d57"/>
<rect x="110.0" y="9.8" width="41.5" height="2.76" fill="#ee9878"/>
<rect x="151.2" y="9.8" width="7.2" height="2.76" fill="#f8bda0"/>
<rect x="158.1" y="9.8" width="41.5" height="2.76" fill="#ee9878"/>
<rect x="199.4" y="9.8" width="7.2" height="2.76" fill="#f8bda0"/>
<rect x="206.2" y="9.8" width="7.2" height="2.76" fill="#f9eee8"/>
<rect x="213.1" y="9.8" width="37.7" height="2.76" fill="#d3e6f0"/>
<rect x="-3.0" y="12.3" width="10.2" height="2.76" fill="#d3e6f0"/>
<rect x="6.9" y="12.3" width="7.2" height="2.76" fill="#f9eee8"/>
<rect x="13.8" y="12.3" width="7.2" height="2.76" fill="#f8bda0"/>
<rect x="20.6" y="12.3" width="69.0" height="2.76" fill="#f7f7f7"/>
<rect x="89.4" y="12.3" width="62.2" height="2.76" fill="#f9eee8"/>
<rect x="151.2" y="12.3" width="34.7" height="2.76" fill="#d3e6f0"/>
<rect x="185.6" y="12.3" width="7.2" height="2.76" fill="#ee9878"/>
<rect x="192.5" y="12.3" width="7.2" height="2.76" fill="#f9eee8"/>
<rect x="199.4" y="12.3" width="7.2" height="2.76" fill="#d3e6f0"/>
<rect x="206.2" y="12.3" width="44.5" height="2.76" fill="#aed3e6"/>
<rect x="-3.0" y="14.8" width="10.2" height="2.76" fill="#aed3e6"/>
<rect x="6.9" y="14.8" width="7.2" height="2.76" fill="#d3e6f0"/>
<rect x="13.8" y="14.8" width="75.9" height="2.76" fill="#f7f7f7"/>
<rect x="89.4" y="14.8" width="14.1" height="2.76" fill="#d3e6f0"/>
<rect x="103.1" y="14.8" width="75.9" height="2.76" fill="#aed3e6"/>
<rect x="178.8" y="14.8" width="7.2" height="2.76" fill="#f8bda0"/>
<rect x="185.6" y="14.8" width="7.2" height="2.76" fill="#d3e6f0"/>
<rect x="192.5" y="14.8" width="27.8" height="2.76" fill="#aed3e6"/>
<rect x="220.0" y="14.8" width="7.2" height="2.76" fill="#83bcd9"/>
<rect x="226.9" y="14.8" width="7.2" height="2.76" fill="#aed3e6"/>
<rect x="233.8" y="14.8" width="17.1" height="2.76" fill="#d3e6f0"/>
<rect x="-3.0" y="17.2" width="30.8" height="2.76" fill="#d3e6f0"/>
<rect x="27.5" y="17.2" width="55.3" height="2.76" fill="#f9eee8"/>
<rect x="82.5" y="17.2" width="7.2" height="2.76" fill="#d3e6f0"/>
<rect x="89.4" y="17.2" width="14.1" height="2.76" fill="#aed3e6"/>
<rect x="103.1" y="17.2" width="75.9" height="2.76" fill="#83bcd9"/>
<rect x="178.8" y="17.2" width="14.1" height="2.76" fill="#d3e6f0"/>
<rect x="192.5" y="17.2" width="20.9" height="2.76" fill="#aed3e6"/>
<rect x="213.1" y="17.2" width="14.1" height="2.76" fill="#83bcd9"/>
<rect x="226.9" y="17.2" width="7.2" height="2.76" fill="#aed3e6"/>
<rect x="233.8" y="17.2" width="17.1" height="2.76" fill="#d3e6f0"/>
<rect x="-3.0" y="19.7" width="85.8" height="2.76" fill="#f9eee8"/>
<rect x="82.5" y="19.7" width="7.2" height="2.76" fill="#f8bda0"/>
<rect x="89.4" y="19.7" width="7.2" height="2.76" fill="#aed3e6"/>
<rect x="96.2" y="19.7" width="7.2" height="2.76" fill="#83bcd9"/>
<rect x="103.1" y="19.7" width="34.7" height="2.76" fill="#529cc8"/>
<rect x="137.5" y="19.7" width="20.9" height="2.76" fill="#83bcd9"/>
<rect x="158.1" y="19.7" width="20.9" height="2.76" fill="#aed3e6"/>
<rect x="178.8" y="19.7" width="20.9" height="2.76" fill="#d3e6f0"/>
<rect x="199.4" y="19.7" width="14.1" height="2.76" fill="#aed3e6"/>
<rect x="213.1" y="19.7" width="14.1" height="2.76" fill="#83bcd9"/>
<rect x="226.9" y="19.7" width="7.2" height="2.76" fill="#aed3e6"/>
<rect x="233.8" y="19.7" width="17.1" height="2.76" fill="#d3e6f0"/>
<rect x="-3.0" y="22.2" width="44.5" height="2.76" fill="#f9eee8"/>
<rect x="41.2" y="22.2" width="7.2" height="2.76" fill="#ee9878"/>
<rect x="48.1" y="22.2" width="14.1" height="2.76" fill="#d3e6f0"/>
<rect x="61.9" y="22.2" width="20.9" height="2.76" fill="#f9eee8"/>
<rect x="82.5" y="22.2" width="7.2" height="2.76" fill="#f8bda0"/>
<rect x="89.4" y="22.2" width="7.2" height="2.76" fill="#aed3e6"/>
<rect x="96.2" y="22.2" width="7.2" height="2.76" fill="#83bcd9"/>
<rect x="103.1" y="22.2" width="27.8" height="2.76" fill="#529cc8"/>
<rect x="130.6" y="22.2" width="20.9" height="2.76" fill="#83bcd9"/>
<rect x="151.2" y="22.2" width="27.8" height="2.76" fill="#aed3e6"/>
<rect x="178.8" y="22.2" width="20.9" height="2.76" fill="#d3e6f0"/>
<rect x="199.4" y="22.2" width="27.8" height="2.76" fill="#aed3e6"/>
<rect x="226.9" y="22.2" width="23.9" height="2.76" fill="#d3e6f0"/>
<rect x="-3.0" y="24.6" width="51.4" height="2.76" fill="#ee9878"/>
<rect x="48.1" y="24.6" width="27.8" height="2.76" fill="#d3e6f0"/>
<rect x="75.6" y="24.6" width="14.1" height="2.76" fill="#f8bda0"/>
<rect x="89.4" y="24.6" width="7.2" height="2.76" fill="#d3e6f0"/>
<rect x="96.2" y="24.6" width="14.1" height="2.76" fill="#aed3e6"/>
<rect x="110.0" y="24.6" width="14.1" height="2.76" fill="#83bcd9"/>
<rect x="123.8" y="24.6" width="34.7" height="2.76" fill="#aed3e6"/>
<rect x="158.1" y="24.6" width="27.8" height="2.76" fill="#d3e6f0"/>
<rect x="185.6" y="24.6" width="7.2" height="2.76" fill="#aed3e6"/>
<rect x="192.5" y="24.6" width="7.2" height="2.76" fill="#83bcd9"/>
<rect x="199.4" y="24.6" width="27.8" height="2.76" fill="#d3e6f0"/>
<rect x="226.9" y="24.6" width="7.2" height="2.76" fill="#f9eee8"/>
<rect x="233.8" y="24.6" width="17.1" height="2.76" fill="#ee9878"/>
<rect x="-3.0" y="27.1" width="44.5" height="2.76" fill="#dc6d57"/>
<rect x="41.2" y="27.1" width="7.2" height="2.76" fill="#d3e6f0"/>
<rect x="48.1" y="27.1" width="14.1" height="2.76" fill="#aed3e6"/>
<rect x="61.9" y="27.1" width="14.1" height="2.76" fill="#d3e6f0"/>
<rect x="75.6" y="27.1" width="7.2" height="2.76" fill="#ee9878"/>
<rect x="82.5" y="27.1" width="27.8" height="2.76" fill="#d3e6f0"/>
<rect x="110.0" y="27.1" width="14.1" height="2.76" fill="#aed3e6"/>
<rect x="123.8" y="27.1" width="41.5" height="2.76" fill="#d3e6f0"/>
<rect x="165.0" y="27.1" width="7.2" height="2.76" fill="#f9eee8"/>
<rect x="171.9" y="27.1" width="7.2" height="2.76" fill="#d3e6f0"/>
<rect x="178.8" y="27.1" width="14.1" height="2.76" fill="#aed3e6"/>
<rect x="192.5" y="27.1" width="7.2" height="2.76" fill="#f9eee8"/>
<rect x="199.4" y="27.1" width="7.2" height="2.76" fill="#f7f7f7"/>
<rect x="206.2" y="27.1" width="20.9" height="2.76" fill="#f9eee8"/>
<rect x="226.9" y="27.1" width="7.2" height="2.76" fill="#f8bda0"/>
<rect x="233.8" y="27.1" width="17.1" height="2.76" fill="#f9eee8"/>
<rect x="-3.0" y="29.5" width="37.7" height="2.76" fill="#dc6d57"/>
<rect x="34.4" y="29.5" width="7.2" height="2.76" fill="#83bcd9"/>
<rect x="41.2" y="29.5" width="14.1" height="2.76" fill="#aed3e6"/>
<rect x="55.0" y="29.5" width="14.1" height="2.76" fill="#d3e6f0"/>
<rect x="68.8" y="29.5" width="7.2" height="2.76" fill="#ffffff"/>
<rect x="75.6" y="29.5" width="27.8" height="2.76" fill="#f9eee8"/>
<rect x="103.1" y="29.5" width="69.0" height="2.76" fill="#f8bda0"/>
<rect x="171.9" y="29.5" width="7.2" height="2.76" fill="#f9eee8"/>
<rect x="178.8" y="29.5" width="7.2" height="2.76" fill="#f8bda0"/>
<rect x="185.6" y="29.5" width="14.1" height="2.76" fill="#ee9878"/>
<rect x="199.4" y="29.5" width="7.2" height="2.76" fill="#f9eee8"/>
<rect x="206.2" y="29.5" width="27.8" height="2.76" fill="#f8bda0"/>
<rect x="233.8" y="29.5" width="17.1" height="2.76" fill="#f9eee8"/>
<rect x="-3.0" y="32.0" width="51.4" height="2.76" fill="#83bcd9"/>
<rect x="48.1" y="32.0" width="14.1" height="2.76" fill="#aed3e6"/>
<rect x="61.9" y="32.0" width="7.2" height="2.76" fill="#d3e6f0"/>
<rect x="68.8" y="32.0" width="20.9" height="2.76" fill="#ffffff"/>
<rect x="89.4" y="32.0" width="20.9" height="2.76" fill="#f9eee8"/>
<rect x="110.0" y="32.0" width="27.8" height="2.76" fill="#f8bda0"/>
<rect x="137.5" y="32.0" width="75.9" height="2.76" fill="#f9eee8"/>
<rect x="213.1" y="32.0" width="14.1" height="2.76" fill="#f8bda0"/>
<rect x="226.9" y="32.0" width="7.2" height="2.76" fill="#f9eee8"/>
<rect x="233.8" y="32.0" width="17.1" height="2.76" fill="#f7f7f7"/>
<rect x="-3.0" y="34.5" width="30.8" height="2.76" fill="#d3e6f0"/>
<rect x="27.5" y="34.5" width="27.8" height="2.76" fill="#aed3e6"/>
<rect x="55.0" y="34.5" width="14.1" height="2.76" fill="#d3e6f0"/>
<rect x="68.8" y="34.5" width="14.1" height="2.76" fill="#ffffff"/>
<rect x="82.5" y="34.5" width="14.1" height="2.76" fill="#f9eee8"/>
<rect x="96.2" y="34.5" width="82.8" height="2.76" fill="#f7f7f7"/>
<rect x="178.8" y="34.5" width="7.2" height="2.76" fill="#d3e6f0"/>
<rect x="185.6" y="34.5" width="27.8" height="2.76" fill="#f7f7f7"/>
<rect x="213.1" y="34.5" width="14.1" height="2.76" fill="#f9eee8"/>
<rect x="226.9" y="34.5" width="7.2" height="2.76" fill="#f7f7f7"/>
<rect x="233.8" y="34.5" width="17.1" height="2.76" fill="#d3e6f0"/>
<rect x="-3.0" y="36.9" width="37.7" height="2.76" fill="#d3e6f0"/>
<rect x="34.4" y="36.9" width="20.9" height="2.76" fill="#aed3e6"/>
<rect x="55.0" y="36.9" width="14.1" height="2.76" fill="#d3e6f0"/>
<rect x="68.8" y="36.9" width="20.9" height="2.76" fill="#ffffff"/>
<rect x="89.4" y="36.9" width="14.1" height="2.76" fill="#f9eee8"/>
<rect x="103.1" y="36.9" width="82.8" height="2.76" fill="#d3e6f0"/>
<rect x="185.6" y="36.9" width="34.7" height="2.76" fill="#f7f7f7"/>
<rect x="220.0" y="36.9" width="30.8" height="2.76" fill="#d3e6f0"/>
<rect x="-3.0" y="39.4" width="37.7" height="2.76" fill="#d3e6f0"/>
<rect x="34.4" y="39.4" width="34.7" height="2.76" fill="#aed3e6"/>
<rect x="68.8" y="39.4" width="27.8" height="2.76" fill="#ffffff"/>
<rect x="96.2" y="39.4" width="7.2" height="2.76" fill="#f9eee8"/>
<rect x="103.1" y="39.4" width="7.2" height="2.76" fill="#d3e6f0"/>
<rect x="110.0" y="39.4" width="7.2" height="2.76" fill="#f7f7f7"/>
<rect x="116.9" y="39.4" width="20.9" height="2.76" fill="#f9eee8"/>
<rect x="137.5" y="39.4" width="14.1" height="2.76" fill="#f7f7f7"/>
<rect x="151.2" y="39.4" width="20.9" height="2.76" fill="#d3e6f0"/>
<rect x="171.9" y="39.4" width="7.2" height="2.76" fill="#aed3e6"/>
<rect x="178.8" y="39.4" width="72.0" height="2.76" fill="#d3e6f0"/>
<rect x="-3.0" y="41.9" width="30.8" height="2.76" fill="#d3e6f0"/>
<rect x="27.5" y="41.9" width="7.2" height="2.76" fill="#dc6d57"/>
<rect x="34.4" y="41.9" width="7.2" height="2.76" fill="#aed3e6"/>
<rect x="41.2" y="41.9" width="27.8" height="2.76" fill="#83bcd9"/>
<rect x="68.8" y="41.9" width="14.1" height="2.76" fill="#aed3e6"/>
<rect x="82.5" y="41.9" width="20.9" height="2.76" fill="#f9eee8"/>
<rect x="103.1" y="41.9" width="7.2" height="2.76" fill="#d3e6f0"/>
<rect x="110.0" y="41.9" width="7.2" height="2.76" fill="#aed3e6"/>
<rect x="116.9" y="41.9" width="20.9" height="2.76" fill="#d3e6f0"/>
<rect x="137.5" y="41.9" width="14.1" height="2.76" fill="#aed3e6"/>
<rect x="151.2" y="41.9" width="75.9" height="2.76" fill="#d3e6f0"/>
<rect x="226.9" y="41.9" width="14.1" height="2.76" fill="#aed3e6"/>
<rect x="240.6" y="41.9" width="10.2" height="2.76" fill="#d3e6f0"/>
<rect x="-3.0" y="44.3" width="30.8" height="2.76" fill="#d3e6f0"/>
<rect x="27.5" y="44.3" width="7.2" height="2.76" fill="#c6403e"/>
<rect x="34.4" y="44.3" width="7.2" height="2.76" fill="#aed3e6"/>
<rect x="41.2" y="44.3" width="27.8" height="2.76" fill="#83bcd9"/>
<rect x="68.8" y="44.3" width="20.9" height="2.76" fill="#aed3e6"/>
<rect x="89.4" y="44.3" width="7.2" height="2.76" fill="#ffffff"/>
<rect x="96.2" y="44.3" width="7.2" height="2.76" fill="#f7f7f7"/>
<rect x="103.1" y="44.3" width="7.2" height="2.76" fill="#d3e6f0"/>
<rect x="110.0" y="44.3" width="34.7" height="2.76" fill="#aed3e6"/>
<rect x="144.4" y="44.3" width="14.1" height="2.76" fill="#d3e6f0"/>
<rect x="158.1" y="44.3" width="20.9" height="2.76" fill="#f7f7f7"/>
<rect x="178.8" y="44.3" width="48.4" height="2.76" fill="#d3e6f0"/>
<rect x="226.9" y="44.3" width="14.1" height="2.76" fill="#aed3e6"/>
<rect x="240.6" y="44.3" width="10.2" height="2.76" fill="#d3e6f0"/>
<rect x="-3.0" y="46.8" width="44.5" height="2.76" fill="#d3e6f0"/>
<rect x="41.2" y="46.8" width="27.8" height="2.76" fill="#aed3e6"/>
<rect x="68.8" y="46.8" width="20.9" height="2.76" fill="#d3e6f0"/>
<rect x="89.4" y="46.8" width="7.2" height="2.76" fill="#ffffff"/>
<rect x="96.2" y="46.8" width="7.2" height="2.76" fill="#f9eee8"/>
<rect x="103.1" y="46.8" width="7.2" height="2.76" fill="#f7f7f7"/>
<rect x="110.0" y="46.8" width="14.1" height="2.76" fill="#d3e6f0"/>
<rect x="123.8" y="46.8" width="14.1" height="2.76" fill="#aed3e6"/>
<rect x="137.5" y="46.8" width="7.2" height="2.76" fill="#d3e6f0"/>
<rect x="144.4" y="46.8" width="7.2" height="2.76" fill="#f7f7f7"/>
<rect x="151.2" y="46.8" width="34.7" height="2.76" fill="#f9eee8"/>
<rect x="185.6" y="46.8" width="7.2" height="2.76" fill="#f7f7f7"/>
<rect x="192.5" y="46.8" width="58.3" height="2.76" fill="#d3e6f0"/>
<rect x="-3.0" y="49.2" width="23.9" height="2.76" fill="#f9eee8"/>
<rect x="20.6" y="49.2" width="14.1" height="2.76" fill="#f7f7f7"/>
<rect x="34.4" y="49.2" width="75.9" height="2.76" fill="#f9eee8"/>
<rect x="110.0" y="49.2" width="20.9" height="2.76" fill="#f7f7f7"/>
<rect x="130.6" y="49.2" width="7.2" height="2.76" fill="#d3e6f0"/>
<rect x="137.5" y="49.2" width="7.2" height="2.76" fill="#f7f7f7"/>
<rect x="144.4" y="49.2" width="20.9" height="2.76" fill="#f9eee8"/>
<rect x="165.0" y="49.2" width="20.9" height="2.76" fill="#f8bda0"/>
<rect x="185.6" y="49.2" width="65.2" height="2.76" fill="#f9eee8"/>
<rect x="-3.0" y="51.7" width="23.9" height="2.76" fill="#ee9878"/>
<rect x="20.6" y="51.7" width="14.1" height="2.76" fill="#f8bda0"/>
<rect x="34.4" y="51.7" width="62.2" height="2.76" fill="#ee9878"/>
<rect x="96.2" y="51.7" width="14.1" height="2.76" fill="#f8bda0"/>
<rect x="110.0" y="51.7" width="48.4" height="2.76" fill="#f9eee8"/>
<rect x="158.1" y="51.7" width="14.1" height="2.76" fill="#f8bda0"/>
<rect x="171.9" y="51.7" width="14.1" height="2.76" fill="#ee9878"/>
<rect x="185.6" y="51.7" width="27.8" height="2.76" fill="#f8bda0"/>
<rect x="213.1" y="51.7" width="20.9" height="2.76" fill="#ee9878"/>
<rect x="233.8" y="51.7" width="7.2" height="2.76" fill="#f8bda0"/>
<rect x="240.6" y="51.7" width="10.2" height="2.76" fill="#ee9878"/>
<rect x="-3.0" y="54.2" width="23.9" height="2.76" fill="#c6403e"/>
<rect x="20.6" y="54.2" width="48.4" height="2.76" fill="#dc6d57"/>
<rect x="68.8" y="54.2" width="27.8" height="2.76" fill="#c6403e"/>
<rect x="96.2" y="54.2" width="75.9" height="2.76" fill="#f8bda0"/>
<rect x="171.9" y="54.2" width="7.2" height="2.76" fill="#ee9878"/>
<rect x="178.8" y="54.2" width="27.8" height="2.76" fill="#dc6d57"/>
<rect x="206.2" y="54.2" width="34.7" height="2.76" fill="#ee9878"/>
<rect x="240.6" y="54.2" width="10.2" height="2.76" fill="#dc6d57"/>
<rect x="-3.0" y="56.6" width="10.2" height="2.76" fill="#ad162a"/>
<rect x="6.9" y="56.6" width="62.2" height="2.76" fill="#c6403e"/>
<rect x="68.8" y="56.6" width="27.8" height="2.76" fill="#ad162a"/>
<rect x="96.2" y="56.6" width="7.2" height="2.76" fill="#ee9878"/>
<rect x="103.1" y="56.6" width="27.8" height="2.76" fill="#f8bda0"/>
<rect x="130.6" y="56.6" width="14.1" height="2.76" fill="#ee9878"/>
<rect x="144.4" y="56.6" width="20.9" height="2.76" fill="#f8bda0"/>
<rect x="165.0" y="56.6" width="14.1" height="2.76" fill="#ee9878"/>
<rect x="178.8" y="56.6" width="7.2" height="2.76" fill="#dc6d57"/>
<rect x="185.6" y="56.6" width="7.2" height="2.76" fill="#c6403e"/>
<rect x="192.5" y="56.6" width="14.1" height="2.76" fill="#ad162a"/>
<rect x="206.2" y="56.6" width="14.1" height="2.76" fill="#dc6d57"/>
<rect x="220.0" y="56.6" width="14.1" height="2.76" fill="#ee9878"/>
<rect x="233.8" y="56.6" width="7.2" height="2.76" fill="#dc6d57"/>
<rect x="240.6" y="56.6" width="10.2" height="2.76" fill="#c6403e"/>
<rect x="-3.0" y="59.1" width="23.9" height="2.76" fill="#ad162a"/>
<rect x="20.6" y="59.1" width="48.4" height="2.76" fill="#c6403e"/>
<rect x="68.8" y="59.1" width="7.2" height="2.76" fill="#ad162a"/>
<rect x="75.6" y="59.1" width="20.9" height="2.76" fill="#c6403e"/>
<rect x="96.2" y="59.1" width="14.1" height="2.76" fill="#ee9878"/>
<rect x="110.0" y="59.1" width="41.5" height="2.76" fill="#f8bda0"/>
<rect x="151.2" y="59.1" width="14.1" height="2.76" fill="#f9eee8"/>
<rect x="165.0" y="59.1" width="14.1" height="2.76" fill="#f8bda0"/>
<rect x="178.8" y="59.1" width="7.2" height="2.76" fill="#ee9878"/>
<rect x="185.6" y="59.1" width="7.2" height="2.76" fill="#dc6d57"/>
<rect x="192.5" y="59.1" width="14.1" height="2.76" fill="#ad162a"/>
<rect x="206.2" y="59.1" width="27.8" height="2.76" fill="#ee9878"/>
<rect x="233.8" y="59.1" width="7.2" height="2.76" fill="#dc6d57"/>
<rect x="240.6" y="59.1" width="10.2" height="2.76" fill="#c6403e"/>
<rect x="-3.0" y="61.6" width="17.1" height="2.76" fill="#ad162a"/>
<rect x="13.8" y="61.6" width="14.1" height="2.76" fill="#c6403e"/>
<rect x="27.5" y="61.6" width="55.3" height="2.76" fill="#ad162a"/>
<rect x="82.5" y="61.6" width="14.1" height="2.76" fill="#c6403e"/>
<rect x="96.2" y="61.6" width="7.2" height="2.76" fill="#dc6d57"/>
<rect x="103.1" y="61.6" width="20.9" height="2.76" fill="#ee9878"/>
<rect x="123.8" y="61.6" width="55.3" height="2.76" fill="#f8bda0"/>
<rect x="178.8" y="61.6" width="14.1" height="2.76" fill="#ee9878"/>
<rect x="192.5" y="61.6" width="14.1" height="2.76" fill="#c6403e"/>
<rect x="206.2" y="61.6" width="14.1" height="2.76" fill="#dc6d57"/>
<rect x="220.0" y="61.6" width="20.9" height="2.76" fill="#ee9878"/>
<rect x="240.6" y="61.6" width="10.2" height="2.76" fill="#c6403e"/>
<rect x="-3.0" y="64.0" width="23.9" height="2.76" fill="#c6403e"/>
<rect x="20.6" y="64.0" width="14.1" height="2.76" fill="#ad162a"/>
<rect x="34.4" y="64.0" width="27.8" height="2.76" fill="#c6403e"/>
<rect x="61.9" y="64.0" width="7.2" height="2.76" fill="#dc6d57"/>
<rect x="68.8" y="64.0" width="7.2" height="2.76" fill="#c6403e"/>
<rect x="75.6" y="64.0" width="7.2" height="2.76" fill="#dc6d57"/>
<rect x="82.5" y="64.0" width="14.1" height="2.76" fill="#c6403e"/>
<rect x="96.2" y="64.0" width="7.2" height="2.76" fill="#dc6d57"/>
<rect x="103.1" y="64.0" width="14.1" height="2.76" fill="#ee9878"/>
<rect x="116.9" y="64.0" width="7.2" height="2.76" fill="#dc6d57"/>
<rect x="123.8" y="64.0" width="7.2" height="2.76" fill="#ee9878"/>
<rect x="130.6" y="64.0" width="62.2" height="2.76" fill="#f8bda0"/>
<rect x="192.5" y="64.0" width="14.1" height="2.76" fill="#ee9878"/>
<rect x="206.2" y="64.0" width="7.2" height="2.76" fill="#c6403e"/>
<rect x="213.1" y="64.0" width="27.8" height="2.76" fill="#ee9878"/>
<rect x="240.6" y="64.0" width="10.2" height="2.76" fill="#dc6d57"/>
<rect x="-3.0" y="66.5" width="10.2" height="2.76" fill="#f9eee8"/>
<rect x="6.9" y="66.5" width="7.2" height="2.76" fill="#d3e6f0"/>
<rect x="13.8" y="66.5" width="7.2" height="2.76" fill="#f9eee8"/>
<rect x="20.6" y="66.5" width="7.2" height="2.76" fill="#d3e6f0"/>
<rect x="27.5" y="66.5" width="7.2" height="2.76" fill="#f9eee8"/>
<rect x="34.4" y="66.5" width="7.2" height="2.76" fill="#d3e6f0"/>
<rect x="41.2" y="66.5" width="7.2" height="2.76" fill="#f9eee8"/>
<rect x="48.1" y="66.5" width="7.2" height="2.76" fill="#d3e6f0"/>
<rect x="55.0" y="66.5" width="7.2" height="2.76" fill="#f9eee8"/>
<rect x="61.9" y="66.5" width="7.2" height="2.76" fill="#d3e6f0"/>
<rect x="68.8" y="66.5" width="7.2" height="2.76" fill="#f9eee8"/>
<rect x="75.6" y="66.5" width="7.2" height="2.76" fill="#d3e6f0"/>
<rect x="82.5" y="66.5" width="7.2" height="2.76" fill="#f9eee8"/>
<rect x="89.4" y="66.5" width="7.2" height="2.76" fill="#d3e6f0"/>
<rect x="96.2" y="66.5" width="7.2" height="2.76" fill="#f9eee8"/>
<rect x="103.1" y="66.5" width="7.2" height="2.76" fill="#d3e6f0"/>
<rect x="110.0" y="66.5" width="7.2" height="2.76" fill="#f9eee8"/>
<rect x="116.9" y="66.5" width="7.2" height="2.76" fill="#d3e6f0"/>
<rect x="123.8" y="66.5" width="7.2" height="2.76" fill="#f9eee8"/>
<rect x="130.6" y="66.5" width="7.2" height="2.76" fill="#d3e6f0"/>
<rect x="137.5" y="66.5" width="7.2" height="2.76" fill="#f9eee8"/>
<rect x="144.4" y="66.5" width="7.2" height="2.76" fill="#d3e6f0"/>
<rect x="151.2" y="66.5" width="7.2" height="2.76" fill="#f9eee8"/>
<rect x="158.1" y="66.5" width="7.2" height="2.76" fill="#d3e6f0"/>
<rect x="165.0" y="66.5" width="7.2" height="2.76" fill="#f9eee8"/>
<rect x="171.9" y="66.5" width="7.2" height="2.76" fill="#d3e6f0"/>
<rect x="178.8" y="66.5" width="7.2" height="2.76" fill="#f9eee8"/>
<rect x="185.6" y="66.5" width="7.2" height="2.76" fill="#d3e6f0"/>
<rect x="192.5" y="66.5" width="14.1" height="2.76" fill="#f9eee8"/>
<rect x="206.2" y="66.5" width="7.2" height="2.76" fill="#f8bda0"/>
<rect x="213.1" y="66.5" width="7.2" height="2.76" fill="#f9eee8"/>
<rect x="220.0" y="66.5" width="7.2" height="2.76" fill="#f8bda0"/>
<rect x="226.9" y="66.5" width="7.2" height="2.76" fill="#f9eee8"/>
<rect x="233.8" y="66.5" width="7.2" height="2.76" fill="#f8bda0"/>
<rect x="240.6" y="66.5" width="10.2" height="2.76" fill="#f9eee8"/>
<rect x="-3.0" y="69.0" width="23.9" height="2.76" fill="#83bcd9"/>
<rect x="20.6" y="69.0" width="62.2" height="2.76" fill="#aed3e6"/>
<rect x="82.5" y="69.0" width="7.2" height="2.76" fill="#83bcd9"/>
<rect x="89.4" y="69.0" width="14.1" height="2.76" fill="#aed3e6"/>
<rect x="103.1" y="69.0" width="27.8" height="2.76" fill="#d3e6f0"/>
<rect x="130.6" y="69.0" width="41.5" height="2.76" fill="#aed3e6"/>
<rect x="171.9" y="69.0" width="34.7" height="2.76" fill="#d3e6f0"/>
<rect x="206.2" y="69.0" width="7.2" height="2.76" fill="#aed3e6"/>
<rect x="213.1" y="69.0" width="27.8" height="2.76" fill="#d3e6f0"/>
<rect x="240.6" y="69.0" width="10.2" height="2.76" fill="#aed3e6"/>
<rect x="-3.0" y="71.4" width="23.9" height="2.76" fill="#1f63a7"/>
<rect x="20.6" y="71.4" width="82.8" height="2.76" fill="#347fb9"/>
<rect x="103.1" y="71.4" width="20.9" height="2.76" fill="#529cc8"/>
<rect x="123.8" y="71.4" width="75.9" height="2.76" fill="#83bcd9"/>
<rect x="199.4" y="71.4" width="14.1" height="2.76" fill="#aed3e6"/>
<rect x="213.1" y="71.4" width="37.7" height="2.76" fill="#83bcd9"/>
<rect x="-3.0" y="73.9" width="113.3" height="2.76" fill="#0e4178"/>
<rect x="110.0" y="73.9" width="14.1" height="2.76" fill="#1f63a7"/>
<rect x="123.8" y="73.9" width="69.0" height="2.76" fill="#347fb9"/>
<rect x="192.5" y="73.9" width="7.2" height="2.76" fill="#529cc8"/>
<rect x="199.4" y="73.9" width="7.2" height="2.76" fill="#83bcd9"/>
<rect x="206.2" y="73.9" width="34.7" height="2.76" fill="#529cc8"/>
<rect x="240.6" y="73.9" width="10.2" height="2.76" fill="#347fb9"/>
<rect x="-3.0" y="76.3" width="113.3" height="5.76" fill="#0e4178"/>
<rect x="110.0" y="76.3" width="14.1" height="5.76" fill="#347fb9"/>
<rect x="123.8" y="76.3" width="7.2" height="5.76" fill="#f9eee8"/>
<rect x="130.6" y="76.3" width="34.7" height="5.76" fill="#f7f7f7"/>
<rect x="165.0" y="76.3" width="34.7" height="5.76" fill="#347fb9"/>
<rect x="199.4" y="76.3" width="7.2" height="5.76" fill="#f8bda0"/>
<rect x="206.2" y="76.3" width="7.2" height="5.76" fill="#f9eee8"/>
<rect x="213.1" y="76.3" width="14.1" height="5.76" fill="#f7f7f7"/>
<rect x="226.9" y="76.3" width="23.9" height="5.76" fill="#347fb9"/>
</g>
<use href="#land" fill="#7f7f7f" stroke="none"/>
<use href="#land" fill="none" stroke="#000" stroke-width="0.8" stroke-linejoin="round"/>
</g>
<rect x="0" y="0" width="247.5" height="78.8" fill="none" stroke="#333" stroke-width="0.6"/>
</g>
<line x1="36.40" y1="16.18" x2="40.00" y2="16.18" stroke="#231f20" stroke-width="0.6"/>
<text x="33.40" y="18.88" font-size="7.3" text-anchor="end" font-weight="normal" >60° N</text>
<line x1="36.40" y1="30.60" x2="40.00" y2="30.60" stroke="#231f20" stroke-width="0.6"/>
<text x="33.40" y="33.30" font-size="7.3" text-anchor="end" font-weight="normal" >30° N</text>
<line x1="36.40" y1="50.30" x2="40.00" y2="50.30" stroke="#231f20" stroke-width="0.6"/>
<text x="33.40" y="53.00" font-size="7.3" text-anchor="end" font-weight="normal" >0°</text>
<line x1="36.40" y1="70.00" x2="40.00" y2="70.00" stroke="#231f20" stroke-width="0.6"/>
<text x="33.40" y="72.70" font-size="7.3" text-anchor="end" font-weight="normal" >30° S</text>
<line x1="36.40" y1="84.42" x2="40.00" y2="84.42" stroke="#231f20" stroke-width="0.6"/>
<text x="33.40" y="87.12" font-size="7.3" text-anchor="end" font-weight="normal" >60° S</text>
<line x1="40.00" y1="89.70" x2="40.00" y2="92.70" stroke="#231f20" stroke-width="0.6"/>
<text x="40.00" y="103.60" font-size="7.0" text-anchor="middle" font-weight="normal" >0°</text>
<line x1="81.25" y1="89.70" x2="81.25" y2="92.70" stroke="#231f20" stroke-width="0.6"/>
<text x="81.25" y="103.60" font-size="7.0" text-anchor="middle" font-weight="normal" >60° E</text>
<line x1="122.50" y1="89.70" x2="122.50" y2="92.70" stroke="#231f20" stroke-width="0.6"/>
<text x="122.50" y="103.60" font-size="7.0" text-anchor="middle" font-weight="normal" >120° E</text>
<line x1="163.75" y1="89.70" x2="163.75" y2="92.70" stroke="#231f20" stroke-width="0.6"/>
<text x="163.75" y="103.60" font-size="7.0" text-anchor="middle" font-weight="normal" >180°</text>
<line x1="205.00" y1="89.70" x2="205.00" y2="92.70" stroke="#231f20" stroke-width="0.6"/>
<text x="205.00" y="103.60" font-size="7.0" text-anchor="middle" font-weight="normal" >120° W</text>
<line x1="246.25" y1="89.70" x2="246.25" y2="92.70" stroke="#231f20" stroke-width="0.6"/>
<text x="246.25" y="103.60" font-size="7.0" text-anchor="middle" font-weight="normal" >60° W</text>
<text x="163.95" y="116.50" font-size="9.2" text-anchor="middle" font-weight="normal" >Longitude</text>
<text x="0" y="0" font-size="8.9" text-anchor="middle" transform="translate(7.60,49.90) rotate(-90)">Latitude</text>
<rect x="297.40" y="78.26" width="4.4" height="4.09" fill="#0e4178"/>
<rect x="297.40" y="74.22" width="4.4" height="4.09" fill="#1f63a7"/>
<rect x="297.40" y="70.19" width="4.4" height="4.09" fill="#347fb9"/>
<rect x="297.40" y="66.15" width="4.4" height="4.09" fill="#529cc8"/>
<rect x="297.40" y="62.11" width="4.4" height="4.09" fill="#83bcd9"/>
<rect x="297.40" y="58.08" width="4.4" height="4.09" fill="#aed3e6"/>
<rect x="297.40" y="54.04" width="4.4" height="4.09" fill="#d3e6f0"/>
<rect x="297.40" y="50.00" width="4.4" height="4.09" fill="#ebf1f5"/>
<rect x="297.40" y="45.96" width="4.4" height="4.09" fill="#f9eee8"/>
<rect x="297.40" y="41.92" width="4.4" height="4.09" fill="#fdddca"/>
<rect x="297.40" y="37.89" width="4.4" height="4.09" fill="#f8bda0"/>
<rect x="297.40" y="33.85" width="4.4" height="4.09" fill="#ee9878"/>
<rect x="297.40" y="29.81" width="4.4" height="4.09" fill="#dc6d57"/>
<rect x="297.40" y="25.78" width="4.4" height="4.09" fill="#c6403e"/>
<rect x="297.40" y="21.74" width="4.4" height="4.09" fill="#ad162a"/>
<rect x="297.40" y="17.70" width="4.4" height="4.09" fill="#7e0823"/>
<path d="M297.40 17.70L299.60 14.10L301.80 17.70Z" fill="#67001f"/>
<path d="M297.40 82.30L299.60 86.50L301.80 82.30Z" fill="#053061"/>
<line x1="301.80" y1="17.70" x2="304.40" y2="17.70" stroke="#231f20" stroke-width="0.6"/>
<text x="307.20" y="20.20" font-size="7.3" text-anchor="start" font-weight="normal" >2.0</text>
<line x1="301.80" y1="25.77" x2="304.40" y2="25.77" stroke="#231f20" stroke-width="0.6"/>
<text x="307.20" y="28.27" font-size="7.3" text-anchor="start" font-weight="normal" >1.5</text>
<line x1="301.80" y1="33.85" x2="304.40" y2="33.85" stroke="#231f20" stroke-width="0.6"/>
<text x="307.20" y="36.35" font-size="7.3" text-anchor="start" font-weight="normal" >1.0</text>
<line x1="301.80" y1="41.92" x2="304.40" y2="41.92" stroke="#231f20" stroke-width="0.6"/>
<text x="307.20" y="44.42" font-size="7.3" text-anchor="start" font-weight="normal" >0.5</text>
<line x1="301.80" y1="50.00" x2="304.40" y2="50.00" stroke="#231f20" stroke-width="0.6"/>
<text x="307.20" y="52.50" font-size="7.3" text-anchor="start" font-weight="normal" >0</text>
<line x1="301.80" y1="58.08" x2="304.40" y2="58.08" stroke="#231f20" stroke-width="0.6"/>
<text x="307.20" y="60.58" font-size="7.3" text-anchor="start" font-weight="normal" >−0.5</text>
<line x1="301.80" y1="66.15" x2="304.40" y2="66.15" stroke="#231f20" stroke-width="0.6"/>
<text x="307.20" y="68.65" font-size="7.3" text-anchor="start" font-weight="normal" >−1.0</text>
<line x1="301.80" y1="74.22" x2="304.40" y2="74.22" stroke="#231f20" stroke-width="0.6"/>
<text x="307.20" y="76.72" font-size="7.3" text-anchor="start" font-weight="normal" >−1.5</text>
<line x1="301.80" y1="82.30" x2="304.40" y2="82.30" stroke="#231f20" stroke-width="0.6"/>
<text x="307.20" y="84.80" font-size="7.3" text-anchor="start" font-weight="normal" >−2.0</text>
<g transform="translate(40.0,142.3)">
<g clip-path="url(#mapclip)">
<rect x="0" y="0" width="247.5" height="78.8" fill="#f7f7f7"/>
<g filter="url(#bl)">
<rect x="-3.0" y="-3.0" width="10.2" height="5.76" fill="#ebf1f5"/>
<rect x="6.9" y="-3.0" width="7.2" height="5.76" fill="#f7f7f7"/>
<rect x="13.8" y="-3.0" width="7.2" height="5.76" fill="#ebf1f5"/>
<rect x="20.6" y="-3.0" width="7.2" height="5.76" fill="#f9eee8"/>
<rect x="27.5" y="-3.0" width="7.2" height="5.76" fill="#ebf1f5"/>
<rect x="34.4" y="-3.0" width="7.2" height="5.76" fill="#f7f7f7"/>
<rect x="41.2" y="-3.0" width="7.2" height="5.76" fill="#ebf1f5"/>
<rect x="48.1" y="-3.0" width="7.2" height="5.76" fill="#f7f7f7"/>
<rect x="55.0" y="-3.0" width="7.2" height="5.76" fill="#ebf1f5"/>
<rect x="61.9" y="-3.0" width="7.2" height="5.76" fill="#f7f7f7"/>
<rect x="68.8" y="-3.0" width="7.2" height="5.76" fill="#ebf1f5"/>
<rect x="75.6" y="-3.0" width="14.1" height="5.76" fill="#f7f7f7"/>
<rect x="89.4" y="-3.0" width="7.2" height="5.76" fill="#ebf1f5"/>
<rect x="96.2" y="-3.0" width="7.2" height="5.76" fill="#f7f7f7"/>
<rect x="103.1" y="-3.0" width="7.2" height="5.76" fill="#f9eee8"/>
<rect x="110.0" y="-3.0" width="7.2" height="5.76" fill="#f7f7f7"/>
<rect x="116.9" y="-3.0" width="7.2" height="5.76" fill="#f9eee8"/>
<rect x="123.8" y="-3.0" width="7.2" height="5.76" fill="#ebf1f5"/>
<rect x="130.6" y="-3.0" width="7.2" height="5.76" fill="#f7f7f7"/>
<rect x="137.5" y="-3.0" width="7.2" height="5.76" fill="#ebf1f5"/>
<rect x="144.4" y="-3.0" width="7.2" height="5.76" fill="#f7f7f7"/>
<rect x="151.2" y="-3.0" width="7.2" height="5.76" fill="#f9eee8"/>
<rect x="158.1" y="-3.0" width="14.1" height="5.76" fill="#f7f7f7"/>
<rect x="171.9" y="-3.0" width="7.2" height="5.76" fill="#ebf1f5"/>
<rect x="178.8" y="-3.0" width="7.2" height="5.76" fill="#f7f7f7"/>
<rect x="185.6" y="-3.0" width="7.2" height="5.76" fill="#ebf1f5"/>
<rect x="192.5" y="-3.0" width="7.2" height="5.76" fill="#f7f7f7"/>
<rect x="199.4" y="-3.0" width="7.2" height="5.76" fill="#ebf1f5"/>
<rect x="206.2" y="-3.0" width="7.2" height="5.76" fill="#f7f7f7"/>
<rect x="213.1" y="-3.0" width="7.2" height="5.76" fill="#ebf1f5"/>
<rect x="220.0" y="-3.0" width="7.2" height="5.76" fill="#f7f7f7"/>
<rect x="226.9" y="-3.0" width="23.9" height="5.76" fill="#ee9878"/>
<rect x="-3.0" y="2.5" width="10.2" height="2.76" fill="#ebf1f5"/>
<rect x="6.9" y="2.5" width="172.2" height="2.76" fill="#f7f7f7"/>
<rect x="178.8" y="2.5" width="27.8" height="2.76" fill="#f8bda0"/>
<rect x="206.2" y="2.5" width="7.2" height="2.76" fill="#dc6d57"/>
<rect x="213.1" y="2.5" width="14.1" height="2.76" fill="#d3e6f0"/>
<rect x="226.9" y="2.5" width="7.2" height="2.76" fill="#f9eee8"/>
<rect x="233.8" y="2.5" width="7.2" height="2.76" fill="#f8bda0"/>
<rect x="240.6" y="2.5" width="10.2" height="2.76" fill="#ee9878"/>
<rect x="-3.0" y="4.9" width="99.5" height="2.76" fill="#f9eee8"/>
<rect x="96.2" y="4.9" width="7.2" height="2.76" fill="#f8bda0"/>
<rect x="103.1" y="4.9" width="7.2" height="2.76" fill="#ebf1f5"/>
<rect x="110.0" y="4.9" width="7.2" height="2.76" fill="#f7f7f7"/>
<rect x="116.9" y="4.9" width="14.1" height="2.76" fill="#ee9878"/>
<rect x="130.6" y="4.9" width="7.2" height="2.76" fill="#f9eee8"/>
<rect x="137.5" y="4.9" width="69.0" height="2.76" fill="#ebf1f5"/>
<rect x="206.2" y="4.9" width="14.1" height="2.76" fill="#aed3e6"/>
<rect x="220.0" y="4.9" width="7.2" height="2.76" fill="#d3e6f0"/>
<rect x="226.9" y="4.9" width="7.2" height="2.76" fill="#ebf1f5"/>
<rect x="233.8" y="4.9" width="7.2" height="2.76" fill="#f9eee8"/>
<rect x="240.6" y="4.9" width="10.2" height="2.76" fill="#f8bda0"/>
<rect x="-3.0" y="7.4" width="92.7" height="2.76" fill="#ebf1f5"/>
<rect x="89.4" y="7.4" width="7.2" height="2.76" fill="#ee9878"/>
<rect x="96.2" y="7.4" width="14.1" height="2.76" fill="#d3e6f0"/>
<rect x="110.0" y="7.4" width="7.2" height="2.76" fill="#aed3e6"/>
<rect x="116.9" y="7.4" width="20.9" height="2.76" fill="#d3e6f0"/>
<rect x="137.5" y="7.4" width="14.1" height="2.76" fill="#ebf1f5"/>
<rect x="151.2" y="7.4" width="7.2" height="2.76" fill="#d3e6f0"/>
<rect x="158.1" y="7.4" width="48.4" height="2.76" fill="#ebf1f5"/>
<rect x="206.2" y="7.4" width="7.2" height="2.76" fill="#83bcd9"/>
<rect x="213.1" y="7.4" width="7.2" height="2.76" fill="#aed3e6"/>
<rect x="220.0" y="7.4" width="7.2" height="2.76" fill="#d3e6f0"/>
<rect x="226.9" y="7.4" width="23.9" height="2.76" fill="#ebf1f5"/>
<rect x="-3.0" y="9.8" width="99.5" height="2.76" fill="#ebf1f5"/>
<rect x="96.2" y="9.8" width="14.1" height="2.76" fill="#aed3e6"/>
<rect x="110.0" y="9.8" width="7.2" height="2.76" fill="#d3e6f0"/>
<rect x="116.9" y="9.8" width="7.2" height="2.76" fill="#ebf1f5"/>
<rect x="123.8" y="9.8" width="7.2" height="2.76" fill="#d3e6f0"/>
<rect x="130.6" y="9.8" width="7.2" height="2.76" fill="#aed3e6"/>
<rect x="137.5" y="9.8" width="7.2" height="2.76" fill="#83bcd9"/>
<rect x="144.4" y="9.8" width="7.2" height="2.76" fill="#aed3e6"/>
<rect x="151.2" y="9.8" width="41.5" height="2.76" fill="#d3e6f0"/>
<rect x="192.5" y="9.8" width="7.2" height="2.76" fill="#f8bda0"/>
<rect x="199.4" y="9.8" width="7.2" height="2.76" fill="#aed3e6"/>
<rect x="206.2" y="9.8" width="7.2" height="2.76" fill="#d3e6f0"/>
<rect x="213.1" y="9.8" width="37.7" height="2.76" fill="#ebf1f5"/>
<rect x="-3.0" y="12.3" width="10.2" height="2.76" fill="#d3e6f0"/>
<rect x="6.9" y="12.3" width="7.2" height="2.76" fill="#ebf1f5"/>
<rect x="13.8" y="12.3" width="75.9" height="2.76" fill="#f7f7f7"/>
<rect x="89.4" y="12.3" width="7.2" height="2.76" fill="#ebf1f5"/>
<rect x="96.2" y="12.3" width="14.1" height="2.76" fill="#d3e6f0"/>
<rect x="110.0" y="12.3" width="7.2" height="2.76" fill="#ebf1f5"/>
<rect x="116.9" y="12.3" width="7.2" height="2.76" fill="#d3e6f0"/>
<rect x="123.8" y="12.3" width="7.2" height="2.76" fill="#aed3e6"/>
<rect x="130.6" y="12.3" width="14.1" height="2.76" fill="#83bcd9"/>
<rect x="144.4" y="12.3" width="7.2" height="2.76" fill="#aed3e6"/>
<rect x="151.2" y="12.3" width="7.2" height="2.76" fill="#d3e6f0"/>
<rect x="158.1" y="12.3" width="27.8" height="2.76" fill="#ebf1f5"/>
<rect x="185.6" y="12.3" width="7.2" height="2.76" fill="#f9eee8"/>
<rect x="192.5" y="12.3" width="7.2" height="2.76" fill="#83bcd9"/>
<rect x="199.4" y="12.3" width="7.2" height="2.76" fill="#aed3e6"/>
<rect x="206.2" y="12.3" width="7.2" height="2.76" fill="#d3e6f0"/>
<rect x="213.1" y="12.3" width="14.1" height="2.76" fill="#ebf1f5"/>
<rect x="226.9" y="12.3" width="7.2" height="2.76" fill="#f7f7f7"/>
<rect x="233.8" y="12.3" width="17.1" height="2.76" fill="#ebf1f5"/>
<rect x="-3.0" y="14.8" width="10.2" height="2.76" fill="#d3e6f0"/>
<rect x="6.9" y="14.8" width="96.5" height="2.76" fill="#ebf1f5"/>
<rect x="103.1" y="14.8" width="7.2" height="2.76" fill="#f7f7f7"/>
<rect x="110.0" y="14.8" width="7.2" height="2.76" fill="#ebf1f5"/>
<rect x="116.9" y="14.8" width="14.1" height="2.76" fill="#f7f7f7"/>
<rect x="130.6" y="14.8" width="7.2" height="2.76" fill="#ebf1f5"/>
<rect x="137.5" y="14.8" width="20.9" height="2.76" fill="#f7f7f7"/>
<rect x="158.1" y="14.8" width="20.9" height="2.76" fill="#f9eee8"/>
<rect x="178.8" y="14.8" width="7.2" height="2.76" fill="#f7f7f7"/>
<rect x="185.6" y="14.8" width="7.2" height="2.76" fill="#ebf1f5"/>
<rect x="192.5" y="14.8" width="14.1" height="2.76" fill="#d3e6f0"/>
<rect x="206.2" y="14.8" width="14.1" height="2.76" fill="#ebf1f5"/>
<rect x="220.0" y="14.8" width="30.8" height="2.76" fill="#f7f7f7"/>
<rect x="-3.0" y="17.2" width="30.8" height="2.76" fill="#ebf1f5"/>
<rect x="27.5" y="17.2" width="55.3" height="2.76" fill="#f7f7f7"/>
<rect x="82.5" y="17.2" width="62.2" height="2.76" fill="#f9eee8"/>
<rect x="144.4" y="17.2" width="7.2" height="2.76" fill="#f7f7f7"/>
<rect x="151.2" y="17.2" width="14.1" height="2.76" fill="#f9eee8"/>
<rect x="165.0" y="17.2" width="14.1" height="2.76" fill="#ebf1f5"/>
<rect x="178.8" y="17.2" width="7.2" height="2.76" fill="#f7f7f7"/>
<rect x="185.6" y="17.2" width="65.2" height="2.76" fill="#f9eee8"/>
<rect x="-3.0" y="19.7" width="85.8" height="2.76" fill="#f7f7f7"/>
<rect x="82.5" y="19.7" width="7.2" height="2.76" fill="#f9eee8"/>
<rect x="89.4" y="19.7" width="7.2" height="2.76" fill="#ebf1f5"/>
<rect x="96.2" y="19.7" width="14.1" height="2.76" fill="#f9eee8"/>
<rect x="110.0" y="19.7" width="20.9" height="2.76" fill="#f8bda0"/>
<rect x="130.6" y="19.7" width="20.9" height="2.76" fill="#f9eee8"/>
<rect x="151.2" y="19.7" width="14.1" height="2.76" fill="#f8bda0"/>
<rect x="165.0" y="19.7" width="27.8" height="2.76" fill="#ebf1f5"/>
<rect x="192.5" y="19.7" width="58.3" height="2.76" fill="#f9eee8"/>
<rect x="-3.0" y="22.2" width="85.8" height="2.76" fill="#f9eee8"/>
<rect x="82.5" y="22.2" width="14.1" height="2.76" fill="#ebf1f5"/>
<rect x="96.2" y="22.2" width="14.1" height="2.76" fill="#f9eee8"/>
<rect x="110.0" y="22.2" width="20.9" height="2.76" fill="#f8bda0"/>
<rect x="130.6" y="22.2" width="20.9" height="2.76" fill="#f9eee8"/>
<rect x="151.2" y="22.2" width="14.1" height="2.76" fill="#f8bda0"/>
<rect x="165.0" y="22.2" width="27.8" height="2.76" fill="#ebf1f5"/>
<rect x="192.5" y="22.2" width="7.2" height="2.76" fill="#f7f7f7"/>
<rect x="199.4" y="22.2" width="51.4" height="2.76" fill="#f9eee8"/>
<rect x="-3.0" y="24.6" width="51.4" height="2.76" fill="#d3e6f0"/>
<rect x="48.1" y="24.6" width="48.4" height="2.76" fill="#ebf1f5"/>
<rect x="96.2" y="24.6" width="69.0" height="2.76" fill="#f9eee8"/>
<rect x="165.0" y="24.6" width="34.7" height="2.76" fill="#ebf1f5"/>
<rect x="199.4" y="24.6" width="27.8" height="2.76" fill="#f9eee8"/>
<rect x="226.9" y="24.6" width="23.9" height="2.76" fill="#f7f7f7"/>
<rect x="-3.0" y="27.1" width="44.5" height="2.76" fill="#aed3e6"/>
<rect x="41.2" y="27.1" width="20.9" height="2.76" fill="#ebf1f5"/>
<rect x="61.9" y="27.1" width="20.9" height="2.76" fill="#d3e6f0"/>
<rect x="82.5" y="27.1" width="14.1" height="2.76" fill="#ebf1f5"/>
<rect x="96.2" y="27.1" width="69.0" height="2.76" fill="#f7f7f7"/>
<rect x="165.0" y="27.1" width="7.2" height="2.76" fill="#ebf1f5"/>
<rect x="171.9" y="27.1" width="7.2" height="2.76" fill="#f7f7f7"/>
<rect x="178.8" y="27.1" width="27.8" height="2.76" fill="#ebf1f5"/>
<rect x="206.2" y="27.1" width="14.1" height="2.76" fill="#f9eee8"/>
<rect x="220.0" y="27.1" width="30.8" height="2.76" fill="#f7f7f7"/>
<rect x="-3.0" y="29.5" width="44.5" height="2.76" fill="#d3e6f0"/>
<rect x="41.2" y="29.5" width="14.1" height="2.76" fill="#f7f7f7"/>
<rect x="55.0" y="29.5" width="7.2" height="2.76" fill="#ebf1f5"/>
<rect x="61.9" y="29.5" width="7.2" height="2.76" fill="#d3e6f0"/>
<rect x="68.8" y="29.5" width="7.2" height="2.76" fill="#ffffff"/>
<rect x="75.6" y="29.5" width="75.9" height="2.76" fill="#ebf1f5"/>
<rect x="151.2" y="29.5" width="14.1" height="2.76" fill="#d3e6f0"/>
<rect x="165.0" y="29.5" width="7.2" height="2.76" fill="#ebf1f5"/>
<rect x="171.9" y="29.5" width="27.8" height="2.76" fill="#f7f7f7"/>
<rect x="199.4" y="29.5" width="14.1" height="2.76" fill="#ebf1f5"/>
<rect x="213.1" y="29.5" width="37.7" height="2.76" fill="#f7f7f7"/>
<rect x="-3.0" y="32.0" width="44.5" height="2.76" fill="#f9eee8"/>
<rect x="41.2" y="32.0" width="7.2" height="2.76" fill="#f7f7f7"/>
<rect x="48.1" y="32.0" width="7.2" height="2.76" fill="#f9eee8"/>
<rect x="55.0" y="32.0" width="14.1" height="2.76" fill="#ebf1f5"/>
<rect x="68.8" y="32.0" width="20.9" height="2.76" fill="#ffffff"/>
<rect x="89.4" y="32.0" width="27.8" height="2.76" fill="#ebf1f5"/>
<rect x="116.9" y="32.0" width="48.4" height="2.76" fill="#d3e6f0"/>
<rect x="165.0" y="32.0" width="7.2" height="2.76" fill="#f7f7f7"/>
<rect x="171.9" y="32.0" width="7.2" height="2.76" fill="#f9eee8"/>
<rect x="178.8" y="32.0" width="34.7" height="2.76" fill="#f7f7f7"/>
<rect x="213.1" y="32.0" width="7.2" height="2.76" fill="#ebf1f5"/>
<rect x="220.0" y="32.0" width="14.1" height="2.76" fill="#f7f7f7"/>
<rect x="233.8" y="32.0" width="17.1" height="2.76" fill="#ebf1f5"/>
<rect x="-3.0" y="34.5" width="37.7" height="2.76" fill="#f7f7f7"/>
<rect x="34.4" y="34.5" width="14.1" height="2.76" fill="#f9eee8"/>
<rect x="48.1" y="34.5" width="14.1" height="2.76" fill="#f7f7f7"/>
<rect x="61.9" y="34.5" width="7.2" height="2.76" fill="#ebf1f5"/>
<rect x="68.8" y="34.5" width="14.1" height="2.76" fill="#ffffff"/>
<rect x="82.5" y="34.5" width="7.2" height="2.76" fill="#ebf1f5"/>
<rect x="89.4" y="34.5" width="7.2" height="2.76" fill="#f7f7f7"/>
<rect x="96.2" y="34.5" width="20.9" height="2.76" fill="#ebf1f5"/>
<rect x="116.9" y="34.5" width="34.7" height="2.76" fill="#f7f7f7"/>
<rect x="151.2" y="34.5" width="34.7" height="2.76" fill="#f9eee8"/>
<rect x="185.6" y="34.5" width="27.8" height="2.76" fill="#f7f7f7"/>
<rect x="213.1" y="34.5" width="7.2" height="2.76" fill="#ebf1f5"/>
<rect x="220.0" y="34.5" width="20.9" height="2.76" fill="#f7f7f7"/>
<rect x="240.6" y="34.5" width="10.2" height="2.76" fill="#ebf1f5"/>
<rect x="-3.0" y="36.9" width="37.7" height="2.76" fill="#f7f7f7"/>
<rect x="34.4" y="36.9" width="20.9" height="2.76" fill="#f9eee8"/>
<rect x="55.0" y="36.9" width="7.2" height="2.76" fill="#f7f7f7"/>
<rect x="61.9" y="36.9" width="7.2" height="2.76" fill="#ebf1f5"/>
<rect x="68.8" y="36.9" width="14.1" height="2.76" fill="#ffffff"/>
<rect x="82.5" y="36.9" width="27.8" height="2.76" fill="#f7f7f7"/>
<rect x="110.0" y="36.9" width="41.5" height="2.76" fill="#ebf1f5"/>
<rect x="151.2" y="36.9" width="14.1" height="2.76" fill="#d3e6f0"/>
<rect x="165.0" y="36.9" width="7.2" height="2.76" fill="#f7f7f7"/>
<rect x="171.9" y="36.9" width="41.5" height="2.76" fill="#f9eee8"/>
<rect x="213.1" y="36.9" width="7.2" height="2.76" fill="#f7f7f7"/>
<rect x="220.0" y="36.9" width="20.9" height="2.76" fill="#f9eee8"/>
<rect x="240.6" y="36.9" width="10.2" height="2.76" fill="#f7f7f7"/>
<rect x="-3.0" y="39.4" width="37.7" height="2.76" fill="#ebf1f5"/>
<rect x="34.4" y="39.4" width="7.2" height="2.76" fill="#f7f7f7"/>
<rect x="41.2" y="39.4" width="14.1" height="2.76" fill="#f9eee8"/>
<rect x="55.0" y="39.4" width="14.1" height="2.76" fill="#f8bda0"/>
<rect x="68.8" y="39.4" width="27.8" height="2.76" fill="#ffffff"/>
<rect x="96.2" y="39.4" width="14.1" height="2.76" fill="#f9eee8"/>
<rect x="110.0" y="39.4" width="14.1" height="2.76" fill="#ebf1f5"/>
<rect x="123.8" y="39.4" width="7.2" height="2.76" fill="#f7f7f7"/>
<rect x="130.6" y="39.4" width="34.7" height="2.76" fill="#ebf1f5"/>
<rect x="165.0" y="39.4" width="7.2" height="2.76" fill="#d3e6f0"/>
<rect x="171.9" y="39.4" width="14.1" height="2.76" fill="#ebf1f5"/>
<rect x="185.6" y="39.4" width="34.7" height="2.76" fill="#f7f7f7"/>
<rect x="220.0" y="39.4" width="7.2" height="2.76" fill="#f9eee8"/>
<rect x="226.9" y="39.4" width="23.9" height="2.76" fill="#ebf1f5"/>
<rect x="-3.0" y="41.9" width="30.8" height="2.76" fill="#ebf1f5"/>
<rect x="27.5" y="41.9" width="7.2" height="2.76" fill="#f9eee8"/>
<rect x="34.4" y="41.9" width="7.2" height="2.76" fill="#f7f7f7"/>
<rect x="41.2" y="41.9" width="7.2" height="2.76" fill="#f9eee8"/>
<rect x="48.1" y="41.9" width="7.2" height="2.76" fill="#f8bda0"/>
<rect x="55.0" y="41.9" width="7.2" height="2.76" fill="#ee9878"/>
<rect x="61.9" y="41.9" width="7.2" height="2.76" fill="#f8bda0"/>
<rect x="68.8" y="41.9" width="7.2" height="2.76" fill="#f9eee8"/>
<rect x="75.6" y="41.9" width="14.1" height="2.76" fill="#ebf1f5"/>
<rect x="89.4" y="41.9" width="7.2" height="2.76" fill="#f7f7f7"/>
<rect x="96.2" y="41.9" width="20.9" height="2.76" fill="#ebf1f5"/>
<rect x="116.9" y="41.9" width="14.1" height="2.76" fill="#d3e6f0"/>
<rect x="130.6" y="41.9" width="7.2" height="2.76" fill="#ebf1f5"/>
<rect x="137.5" y="41.9" width="34.7" height="2.76" fill="#d3e6f0"/>
<rect x="171.9" y="41.9" width="78.9" height="2.76" fill="#ebf1f5"/>
<rect x="-3.0" y="44.3" width="30.8" height="2.76" fill="#ebf1f5"/>
<rect x="27.5" y="44.3" width="7.2" height="2.76" fill="#f8bda0"/>
<rect x="34.4" y="44.3" width="14.1" height="2.76" fill="#f9eee8"/>
<rect x="48.1" y="44.3" width="7.2" height="2.76" fill="#f8bda0"/>
<rect x="55.0" y="44.3" width="7.2" height="2.76" fill="#ee9878"/>
<rect x="61.9" y="44.3" width="7.2" height="2.76" fill="#f8bda0"/>
<rect x="68.8" y="44.3" width="7.2" height="2.76" fill="#f9eee8"/>
<rect x="75.6" y="44.3" width="14.1" height="2.76" fill="#f7f7f7"/>
<rect x="89.4" y="44.3" width="7.2" height="2.76" fill="#ffffff"/>
<rect x="96.2" y="44.3" width="89.7" height="2.76" fill="#ebf1f5"/>
<rect x="185.6" y="44.3" width="41.5" height="2.76" fill="#f7f7f7"/>
<rect x="226.9" y="44.3" width="23.9" height="2.76" fill="#ebf1f5"/>
<rect x="-3.0" y="46.8" width="23.9" height="2.76" fill="#ebf1f5"/>
<rect x="20.6" y="46.8" width="14.1" height="2.76" fill="#f7f7f7"/>
<rect x="34.4" y="46.8" width="7.2" height="2.76" fill="#f9eee8"/>
<rect x="41.2" y="46.8" width="7.2" height="2.76" fill="#f7f7f7"/>
<rect x="48.1" y="46.8" width="20.9" height="2.76" fill="#f9eee8"/>
<rect x="68.8" y="46.8" width="20.9" height="2.76" fill="#f7f7f7"/>
<rect x="89.4" y="46.8" width="7.2" height="2.76" fill="#ffffff"/>
<rect x="96.2" y="46.8" width="27.8" height="2.76" fill="#ebf1f5"/>
<rect x="123.8" y="46.8" width="7.2" height="2.76" fill="#f7f7f7"/>
<rect x="130.6" y="46.8" width="14.1" height="2.76" fill="#ebf1f5"/>
<rect x="144.4" y="46.8" width="7.2" height="2.76" fill="#f7f7f7"/>
<rect x="151.2" y="46.8" width="20.9" height="2.76" fill="#ebf1f5"/>
<rect x="171.9" y="46.8" width="14.1" height="2.76" fill="#d3e6f0"/>
<rect x="185.6" y="46.8" width="65.2" height="2.76" fill="#ebf1f5"/>
<rect x="-3.0" y="49.2" width="23.9" height="2.76" fill="#f7f7f7"/>
<rect x="20.6" y="49.2" width="34.7" height="2.76" fill="#ebf1f5"/>
<rect x="55.0" y="49.2" width="41.5" height="2.76" fill="#d3e6f0"/>
<rect x="96.2" y="49.2" width="55.3" height="2.76" fill="#ebf1f5"/>
<rect x="151.2" y="49.2" width="7.2" height="2.76" fill="#d3e6f0"/>
<rect x="158.1" y="49.2" width="14.1" height="2.76" fill="#ebf1f5"/>
<rect x="171.9" y="49.2" width="14.1" height="2.76" fill="#d3e6f0"/>
<rect x="185.6" y="49.2" width="27.8" height="2.76" fill="#ebf1f5"/>
<rect x="213.1" y="49.2" width="7.2" height="2.76" fill="#f7f7f7"/>
<rect x="220.0" y="49.2" width="30.8" height="2.76" fill="#ebf1f5"/>
<rect x="-3.0" y="51.7" width="44.5" height="2.76" fill="#ebf1f5"/>
<rect x="41.2" y="51.7" width="7.2" height="2.76" fill="#d3e6f0"/>
<rect x="48.1" y="51.7" width="20.9" height="2.76" fill="#aed3e6"/>
<rect x="68.8" y="51.7" width="27.8" height="2.76" fill="#d3e6f0"/>
<rect x="96.2" y="51.7" width="7.2" height="2.76" fill="#ebf1f5"/>
<rect x="103.1" y="51.7" width="7.2" height="2.76" fill="#d3e6f0"/>
<rect x="110.0" y="51.7" width="34.7" height="2.76" fill="#ebf1f5"/>
<rect x="144.4" y="51.7" width="7.2" height="2.76" fill="#f7f7f7"/>
<rect x="151.2" y="51.7" width="20.9" height="2.76" fill="#ebf1f5"/>
<rect x="171.9" y="51.7" width="7.2" height="2.76" fill="#d3e6f0"/>
<rect x="178.8" y="51.7" width="7.2" height="2.76" fill="#aed3e6"/>
<rect x="185.6" y="51.7" width="27.8" height="2.76" fill="#ebf1f5"/>
<rect x="213.1" y="51.7" width="7.2" height="2.76" fill="#f9eee8"/>
<rect x="220.0" y="51.7" width="30.8" height="2.76" fill="#ebf1f5"/>
<rect x="-3.0" y="54.2" width="10.2" height="2.76" fill="#ebf1f5"/>
<rect x="6.9" y="54.2" width="20.9" height="2.76" fill="#d3e6f0"/>
<rect x="27.5" y="54.2" width="14.1" height="2.76" fill="#ebf1f5"/>
<rect x="41.2" y="54.2" width="7.2" height="2.76" fill="#d3e6f0"/>
<rect x="48.1" y="54.2" width="7.2" height="2.76" fill="#aed3e6"/>
<rect x="55.0" y="54.2" width="14.1" height="2.76" fill="#83bcd9"/>
<rect x="68.8" y="54.2" width="27.8" height="2.76" fill="#aed3e6"/>
<rect x="96.2" y="54.2" width="34.7" height="2.76" fill="#ebf1f5"/>
<rect x="130.6" y="54.2" width="27.8" height="2.76" fill="#f7f7f7"/>
<rect x="158.1" y="54.2" width="7.2" height="2.76" fill="#f9eee8"/>
<rect x="165.0" y="54.2" width="7.2" height="2.76" fill="#f7f7f7"/>
<rect x="171.9" y="54.2" width="14.1" height="2.76" fill="#ebf1f5"/>
<rect x="185.6" y="54.2" width="20.9" height="2.76" fill="#f7f7f7"/>
<rect x="206.2" y="54.2" width="7.2" height="2.76" fill="#aed3e6"/>
<rect x="213.1" y="54.2" width="7.2" height="2.76" fill="#f9eee8"/>
<rect x="220.0" y="54.2" width="7.2" height="2.76" fill="#f7f7f7"/>
<rect x="226.9" y="54.2" width="23.9" height="2.76" fill="#ebf1f5"/>
<rect x="-3.0" y="56.6" width="17.1" height="2.76" fill="#d3e6f0"/>
<rect x="13.8" y="56.6" width="27.8" height="2.76" fill="#ebf1f5"/>
<rect x="41.2" y="56.6" width="7.2" height="2.76" fill="#d3e6f0"/>
<rect x="48.1" y="56.6" width="14.1" height="2.76" fill="#aed3e6"/>
<rect x="61.9" y="56.6" width="34.7" height="2.76" fill="#83bcd9"/>
<rect x="96.2" y="56.6" width="20.9" height="2.76" fill="#f9eee8"/>
<rect x="116.9" y="56.6" width="20.9" height="2.76" fill="#f7f7f7"/>
<rect x="137.5" y="56.6" width="34.7" height="2.76" fill="#f9eee8"/>
<rect x="171.9" y="56.6" width="34.7" height="2.76" fill="#f7f7f7"/>
<rect x="206.2" y="56.6" width="14.1" height="2.76" fill="#f9eee8"/>
<rect x="220.0" y="56.6" width="30.8" height="2.76" fill="#f7f7f7"/>
<rect x="-3.0" y="59.1" width="37.7" height="2.76" fill="#ebf1f5"/>
<rect x="34.4" y="59.1" width="7.2" height="2.76" fill="#d3e6f0"/>
<rect x="41.2" y="59.1" width="27.8" height="2.76" fill="#aed3e6"/>
<rect x="68.8" y="59.1" width="7.2" height="2.76" fill="#d3e6f0"/>
<rect x="75.6" y="59.1" width="20.9" height="2.76" fill="#ebf1f5"/>
<rect x="96.2" y="59.1" width="69.0" height="2.76" fill="#fdddca"/>
<rect x="165.0" y="59.1" width="27.8" height="2.76" fill="#f9eee8"/>
<rect x="192.5" y="59.1" width="14.1" height="2.76" fill="#fdddca"/>
<rect x="206.2" y="59.1" width="20.9" height="2.76" fill="#f9eee8"/>
<rect x="226.9" y="59.1" width="14.1" height="2.76" fill="#ebf1f5"/>
<rect x="240.6" y="59.1" width="10.2" height="2.76" fill="#f7f7f7"/>
<rect x="-3.0" y="61.6" width="10.2" height="2.76" fill="#f8bda0"/>
<rect x="6.9" y="61.6" width="14.1" height="2.76" fill="#ee9878"/>
<rect x="20.6" y="61.6" width="7.2" height="2.76" fill="#f8bda0"/>
<rect x="27.5" y="61.6" width="14.1" height="2.76" fill="#ee9878"/>
<rect x="41.2" y="61.6" width="7.2" height="2.76" fill="#fdddca"/>
<rect x="48.1" y="61.6" width="20.9" height="2.76" fill="#f8bda0"/>
<rect x="68.8" y="61.6" width="7.2" height="2.76" fill="#ee9878"/>
<rect x="75.6" y="61.6" width="89.7" height="2.76" fill="#f8bda0"/>
<rect x="165.0" y="61.6" width="69.0" height="2.76" fill="#fdddca"/>
<rect x="233.8" y="61.6" width="7.2" height="2.76" fill="#f9eee8"/>
<rect x="240.6" y="61.6" width="10.2" height="2.76" fill="#fdddca"/>
<rect x="-3.0" y="64.0" width="10.2" height="2.76" fill="#dc6d57"/>
<rect x="6.9" y="64.0" width="7.2" height="2.76" fill="#c6403e"/>
<rect x="13.8" y="64.0" width="7.2" height="2.76" fill="#dc6d57"/>
<rect x="20.6" y="64.0" width="7.2" height="2.76" fill="#c6403e"/>
<rect x="27.5" y="64.0" width="7.2" height="2.76" fill="#dc6d57"/>
<rect x="34.4" y="64.0" width="14.1" height="2.76" fill="#c6403e"/>
<rect x="48.1" y="64.0" width="14.1" height="2.76" fill="#dc6d57"/>
<rect x="61.9" y="64.0" width="20.9" height="2.76" fill="#c6403e"/>
<rect x="82.5" y="64.0" width="7.2" height="2.76" fill="#dc6d57"/>
<rect x="89.4" y="64.0" width="96.5" height="2.76" fill="#ee9878"/>
<rect x="185.6" y="64.0" width="65.2" height="2.76" fill="#dc6d57"/>
<rect x="-3.0" y="66.5" width="85.8" height="2.76" fill="#ad162a"/>
<rect x="82.5" y="66.5" width="7.2" height="2.76" fill="#c6403e"/>
<rect x="89.4" y="66.5" width="14.1" height="2.76" fill="#ad162a"/>
<rect x="103.1" y="66.5" width="82.8" height="2.76" fill="#c6403e"/>
<rect x="185.6" y="66.5" width="20.9" height="2.76" fill="#ad162a"/>
<rect x="206.2" y="66.5" width="44.5" height="2.76" fill="#c6403e"/>
<rect x="-3.0" y="69.0" width="85.8" height="2.76" fill="#ad162a"/>
<rect x="82.5" y="69.0" width="14.1" height="2.76" fill="#c6403e"/>
<rect x="96.2" y="69.0" width="55.3" height="2.76" fill="#ad162a"/>
<rect x="151.2" y="69.0" width="27.8" height="2.76" fill="#c6403e"/>
<rect x="178.8" y="69.0" width="20.9" height="2.76" fill="#ad162a"/>
<rect x="199.4" y="69.0" width="7.2" height="2.76" fill="#c6403e"/>
<rect x="206.2" y="69.0" width="44.5" height="2.76" fill="#ad162a"/>
<rect x="-3.0" y="71.4" width="10.2" height="2.76" fill="#aed3e6"/>
<rect x="6.9" y="71.4" width="7.2" height="2.76" fill="#d3e6f0"/>
<rect x="13.8" y="71.4" width="7.2" height="2.76" fill="#aed3e6"/>
<rect x="20.6" y="71.4" width="7.2" height="2.76" fill="#d3e6f0"/>
<rect x="27.5" y="71.4" width="7.2" height="2.76" fill="#aed3e6"/>
<rect x="34.4" y="71.4" width="7.2" height="2.76" fill="#d3e6f0"/>
<rect x="41.2" y="71.4" width="7.2" height="2.76" fill="#aed3e6"/>
<rect x="48.1" y="71.4" width="7.2" height="2.76" fill="#d3e6f0"/>
<rect x="55.0" y="71.4" width="7.2" height="2.76" fill="#aed3e6"/>
<rect x="61.9" y="71.4" width="7.2" height="2.76" fill="#d3e6f0"/>
<rect x="68.8" y="71.4" width="7.2" height="2.76" fill="#aed3e6"/>
<rect x="75.6" y="71.4" width="14.1" height="2.76" fill="#d3e6f0"/>
<rect x="89.4" y="71.4" width="7.2" height="2.76" fill="#aed3e6"/>
<rect x="96.2" y="71.4" width="7.2" height="2.76" fill="#ebf1f5"/>
<rect x="103.1" y="71.4" width="7.2" height="2.76" fill="#d3e6f0"/>
<rect x="110.0" y="71.4" width="7.2" height="2.76" fill="#aed3e6"/>
<rect x="116.9" y="71.4" width="14.1" height="2.76" fill="#d3e6f0"/>
<rect x="130.6" y="71.4" width="7.2" height="2.76" fill="#aed3e6"/>
<rect x="137.5" y="71.4" width="7.2" height="2.76" fill="#d3e6f0"/>
<rect x="144.4" y="71.4" width="7.2" height="2.76" fill="#aed3e6"/>
<rect x="151.2" y="71.4" width="7.2" height="2.76" fill="#d3e6f0"/>
<rect x="158.1" y="71.4" width="7.2" height="2.76" fill="#aed3e6"/>
<rect x="165.0" y="71.4" width="7.2" height="2.76" fill="#d3e6f0"/>
<rect x="171.9" y="71.4" width="7.2" height="2.76" fill="#aed3e6"/>
<rect x="178.8" y="71.4" width="7.2" height="2.76" fill="#d3e6f0"/>
<rect x="185.6" y="71.4" width="7.2" height="2.76" fill="#aed3e6"/>
<rect x="192.5" y="71.4" width="7.2" height="2.76" fill="#d3e6f0"/>
<rect x="199.4" y="71.4" width="7.2" height="2.76" fill="#aed3e6"/>
<rect x="206.2" y="71.4" width="7.2" height="2.76" fill="#d3e6f0"/>
<rect x="213.1" y="71.4" width="7.2" height="2.76" fill="#aed3e6"/>
<rect x="220.0" y="71.4" width="7.2" height="2.76" fill="#d3e6f0"/>
<rect x="226.9" y="71.4" width="7.2" height="2.76" fill="#aed3e6"/>
<rect x="233.8" y="71.4" width="7.2" height="2.76" fill="#d3e6f0"/>
<rect x="240.6" y="71.4" width="10.2" height="2.76" fill="#aed3e6"/>
<rect x="-3.0" y="73.9" width="99.5" height="2.76" fill="#d3e6f0"/>
<rect x="96.2" y="73.9" width="14.1" height="2.76" fill="#aed3e6"/>
<rect x="110.0" y="73.9" width="14.1" height="2.76" fill="#d3e6f0"/>
<rect x="123.8" y="73.9" width="14.1" height="2.76" fill="#ebf1f5"/>
<rect x="137.5" y="73.9" width="7.2" height="2.76" fill="#d3e6f0"/>
<rect x="144.4" y="73.9" width="14.1" height="2.76" fill="#ebf1f5"/>
<rect x="158.1" y="73.9" width="14.1" height="2.76" fill="#d3e6f0"/>
<rect x="171.9" y="73.9" width="27.8" height="2.76" fill="#ebf1f5"/>
<rect x="199.4" y="73.9" width="7.2" height="2.76" fill="#d3e6f0"/>
<rect x="206.2" y="73.9" width="34.7" height="2.76" fill="#aed3e6"/>
<rect x="240.6" y="73.9" width="10.2" height="2.76" fill="#d3e6f0"/>
<rect x="-3.0" y="76.3" width="168.3" height="5.76" fill="#ebf1f5"/>
<rect x="165.0" y="76.3" width="85.8" height="5.76" fill="#d3e6f0"/>
</g>
<path d="M130.6 7.4h20.6v2.46h-20.6ZM130.6 9.8h27.5v2.46h-27.5ZM192.5 9.8h27.5v2.46h-27.5ZM123.8 12.3h34.4v2.46h-34.4ZM192.5 12.3h27.5v2.46h-27.5ZM144.4 14.8h20.6v2.46h-20.6ZM192.5 14.8h20.6v2.46h-20.6ZM110.0 17.2h20.6v2.46h-20.6ZM144.4 17.2h27.5v2.46h-27.5ZM185.6 17.2h48.1v2.46h-48.1ZM110.0 19.7h20.6v2.46h-20.6ZM144.4 19.7h20.6v2.46h-20.6ZM185.6 19.7h41.2v2.46h-41.2ZM110.0 22.2h20.6v2.46h-20.6ZM144.4 22.2h20.6v2.46h-20.6ZM185.6 22.2h34.4v2.46h-34.4ZM41.2 24.6h13.8v2.46h-13.8ZM116.9 24.6h6.9v2.46h-6.9ZM130.6 24.6h6.9v2.46h-6.9ZM144.4 24.6h6.9v2.46h-6.9ZM158.1 24.6h6.9v2.46h-6.9ZM206.2 24.6h27.5v2.46h-27.5ZM41.2 27.1h13.8v2.46h-13.8ZM61.9 27.1h6.9v2.46h-6.9ZM137.5 27.1h6.9v2.46h-6.9ZM206.2 27.1h20.6v2.46h-20.6ZM41.2 29.5h13.8v2.46h-13.8ZM151.2 29.5h13.8v2.46h-13.8ZM206.2 29.5h6.9v2.46h-6.9ZM220.0 29.5h6.9v2.46h-6.9ZM41.2 32.0h20.6v2.46h-20.6ZM96.2 32.0h96.2v2.46h-96.2ZM199.4 32.0h34.4v2.46h-34.4ZM96.2 34.5h20.6v2.46h-20.6ZM151.2 34.5h34.4v2.46h-34.4ZM226.9 34.5h13.8v2.46h-13.8ZM103.1 36.9h6.9v2.46h-6.9ZM151.2 36.9h13.8v2.46h-13.8ZM185.6 36.9h6.9v2.46h-6.9ZM226.9 36.9h20.6v2.46h-20.6ZM0.0 39.4h6.9v2.46h-6.9ZM34.4 39.4h6.9v2.46h-6.9ZM48.1 39.4h20.6v2.46h-20.6ZM103.1 39.4h20.6v2.46h-20.6ZM151.2 39.4h41.2v2.46h-41.2ZM220.0 39.4h27.5v2.46h-27.5ZM0.0 41.9h6.9v2.46h-6.9ZM41.2 41.9h27.5v2.46h-27.5ZM110.0 41.9h20.6v2.46h-20.6ZM137.5 41.9h61.9v2.46h-61.9ZM220.0 41.9h27.5v2.46h-27.5ZM41.2 44.3h34.4v2.46h-34.4ZM165.0 44.3h20.6v2.46h-20.6ZM220.0 44.3h20.6v2.46h-20.6ZM34.4 46.8h48.1v2.46h-48.1ZM151.2 46.8h27.5v2.46h-27.5ZM226.9 46.8h20.6v2.46h-20.6ZM34.4 49.2h48.1v2.46h-48.1ZM165.0 49.2h20.6v2.46h-20.6ZM220.0 49.2h20.6v2.46h-20.6ZM34.4 51.7h48.1v2.46h-48.1ZM165.0 51.7h20.6v2.46h-20.6ZM220.0 51.7h6.9v2.46h-6.9ZM233.8 51.7h6.9v2.46h-6.9ZM34.4 54.2h48.1v2.46h-48.1ZM165.0 54.2h13.8v2.46h-13.8ZM34.4 56.6h48.1v2.46h-48.1ZM96.2 56.6h6.9v2.46h-6.9ZM110.0 56.6h6.9v2.46h-6.9ZM123.8 56.6h6.9v2.46h-6.9ZM137.5 56.6h6.9v2.46h-6.9ZM151.2 56.6h6.9v2.46h-6.9ZM165.0 56.6h6.9v2.46h-6.9ZM178.8 56.6h6.9v2.46h-6.9ZM220.0 56.6h6.9v2.46h-6.9ZM0.0 59.1h6.9v2.46h-6.9ZM13.8 59.1h6.9v2.46h-6.9ZM27.5 59.1h55.0v2.46h-55.0ZM89.4 59.1h20.6v2.46h-20.6ZM116.9 59.1h48.1v2.46h-48.1ZM171.9 59.1h6.9v2.46h-6.9ZM185.6 59.1h6.9v2.46h-6.9ZM199.4 59.1h6.9v2.46h-6.9ZM213.1 59.1h6.9v2.46h-6.9ZM226.9 59.1h6.9v2.46h-6.9ZM240.6 59.1h6.9v2.46h-6.9ZM6.9 61.6h6.9v2.46h-6.9ZM20.6 61.6h6.9v2.46h-6.9ZM34.4 61.6h6.9v2.46h-6.9ZM48.1 61.6h6.9v2.46h-6.9ZM61.9 61.6h6.9v2.46h-6.9ZM75.6 61.6h6.9v2.46h-6.9ZM89.4 61.6h6.9v2.46h-6.9ZM103.1 61.6h89.4v2.46h-89.4ZM199.4 61.6h6.9v2.46h-6.9ZM213.1 61.6h6.9v2.46h-6.9ZM226.9 61.6h6.9v2.46h-6.9ZM240.6 61.6h6.9v2.46h-6.9ZM0.0 64.0h6.9v2.46h-6.9ZM13.8 64.0h6.9v2.46h-6.9ZM27.5 64.0h6.9v2.46h-6.9ZM41.2 64.0h6.9v2.46h-6.9ZM55.0 64.0h6.9v2.46h-6.9ZM68.8 64.0h6.9v2.46h-6.9ZM82.5 64.0h6.9v2.46h-6.9ZM96.2 64.0h6.9v2.46h-6.9ZM110.0 64.0h96.2v2.46h-96.2ZM213.1 64.0h6.9v2.46h-6.9ZM226.9 64.0h6.9v2.46h-6.9ZM6.9 66.5h6.9v2.46h-6.9ZM20.6 66.5h6.9v2.46h-6.9ZM34.4 66.5h6.9v2.46h-6.9ZM48.1 66.5h6.9v2.46h-6.9ZM61.9 66.5h6.9v2.46h-6.9ZM75.6 66.5h6.9v2.46h-6.9ZM89.4 66.5h6.9v2.46h-6.9ZM103.1 66.5h103.1v2.46h-103.1ZM213.1 66.5h6.9v2.46h-6.9ZM226.9 66.5h6.9v2.46h-6.9ZM240.6 66.5h6.9v2.46h-6.9ZM0.0 69.0h6.9v2.46h-6.9ZM13.8 69.0h6.9v2.46h-6.9ZM27.5 69.0h6.9v2.46h-6.9ZM41.2 69.0h6.9v2.46h-6.9ZM55.0 69.0h6.9v2.46h-6.9ZM68.8 69.0h6.9v2.46h-6.9ZM82.5 69.0h6.9v2.46h-6.9ZM96.2 69.0h6.9v2.46h-6.9ZM110.0 69.0h6.9v2.46h-6.9ZM123.8 69.0h82.5v2.46h-82.5ZM213.1 69.0h6.9v2.46h-6.9ZM226.9 69.0h6.9v2.46h-6.9ZM240.6 69.0h6.9v2.46h-6.9Z" fill="url(#dots)"/>
<use href="#land" fill="#7f7f7f" stroke="none"/>
<use href="#land" fill="none" stroke="#000" stroke-width="0.8" stroke-linejoin="round"/>
</g>
<rect x="0" y="0" width="247.5" height="78.8" fill="none" stroke="#333" stroke-width="0.6"/>
</g>
<line x1="36.40" y1="147.58" x2="40.00" y2="147.58" stroke="#231f20" stroke-width="0.6"/>
<text x="33.40" y="150.28" font-size="7.3" text-anchor="end" font-weight="normal" >60° N</text>
<line x1="36.40" y1="162.00" x2="40.00" y2="162.00" stroke="#231f20" stroke-width="0.6"/>
<text x="33.40" y="164.70" font-size="7.3" text-anchor="end" font-weight="normal" >30° N</text>
<line x1="36.40" y1="181.70" x2="40.00" y2="181.70" stroke="#231f20" stroke-width="0.6"/>
<text x="33.40" y="184.40" font-size="7.3" text-anchor="end" font-weight="normal" >0°</text>
<line x1="36.40" y1="201.40" x2="40.00" y2="201.40" stroke="#231f20" stroke-width="0.6"/>
<text x="33.40" y="204.10" font-size="7.3" text-anchor="end" font-weight="normal" >30° S</text>
<line x1="36.40" y1="215.82" x2="40.00" y2="215.82" stroke="#231f20" stroke-width="0.6"/>
<text x="33.40" y="218.52" font-size="7.3" text-anchor="end" font-weight="normal" >60° S</text>
<line x1="40.00" y1="221.10" x2="40.00" y2="224.10" stroke="#231f20" stroke-width="0.6"/>
<text x="40.00" y="235.00" font-size="7.0" text-anchor="middle" font-weight="normal" >0°</text>
<line x1="81.25" y1="221.10" x2="81.25" y2="224.10" stroke="#231f20" stroke-width="0.6"/>
<text x="81.25" y="235.00" font-size="7.0" text-anchor="middle" font-weight="normal" >60° E</text>
<line x1="122.50" y1="221.10" x2="122.50" y2="224.10" stroke="#231f20" stroke-width="0.6"/>
<text x="122.50" y="235.00" font-size="7.0" text-anchor="middle" font-weight="normal" >120° E</text>
<line x1="163.75" y1="221.10" x2="163.75" y2="224.10" stroke="#231f20" stroke-width="0.6"/>
<text x="163.75" y="235.00" font-size="7.0" text-anchor="middle" font-weight="normal" >180°</text>
<line x1="205.00" y1="221.10" x2="205.00" y2="224.10" stroke="#231f20" stroke-width="0.6"/>
<text x="205.00" y="235.00" font-size="7.0" text-anchor="middle" font-weight="normal" >120° W</text>
<line x1="246.25" y1="221.10" x2="246.25" y2="224.10" stroke="#231f20" stroke-width="0.6"/>
<text x="246.25" y="235.00" font-size="7.0" text-anchor="middle" font-weight="normal" >60° W</text>
<text x="163.95" y="248.80" font-size="9.2" text-anchor="middle" font-weight="normal" >Longitude</text>
<text x="0" y="0" font-size="8.9" text-anchor="middle" transform="translate(7.60,181.30) rotate(-90)">Latitude</text>
<rect x="297.40" y="209.66" width="4.4" height="4.09" fill="#0e4178"/>
<rect x="297.40" y="205.62" width="4.4" height="4.09" fill="#1f63a7"/>
<rect x="297.40" y="201.59" width="4.4" height="4.09" fill="#347fb9"/>
<rect x="297.40" y="197.55" width="4.4" height="4.09" fill="#529cc8"/>
<rect x="297.40" y="193.51" width="4.4" height="4.09" fill="#83bcd9"/>
<rect x="297.40" y="189.47" width="4.4" height="4.09" fill="#aed3e6"/>
<rect x="297.40" y="185.44" width="4.4" height="4.09" fill="#d3e6f0"/>
<rect x="297.40" y="181.40" width="4.4" height="4.09" fill="#ebf1f5"/>
<rect x="297.40" y="177.36" width="4.4" height="4.09" fill="#f9eee8"/>
<rect x="297.40" y="173.32" width="4.4" height="4.09" fill="#fdddca"/>
<rect x="297.40" y="169.29" width="4.4" height="4.09" fill="#f8bda0"/>
<rect x="297.40" y="165.25" width="4.4" height="4.09" fill="#ee9878"/>
<rect x="297.40" y="161.21" width="4.4" height="4.09" fill="#dc6d57"/>
<rect x="297.40" y="157.18" width="4.4" height="4.09" fill="#c6403e"/>
<rect x="297.40" y="153.14" width="4.4" height="4.09" fill="#ad162a"/>
<rect x="297.40" y="149.10" width="4.4" height="4.09" fill="#7e0823"/>
<path d="M297.40 149.10L299.60 145.50L301.80 149.10Z" fill="#67001f"/>
<path d="M297.40 213.70L299.60 217.90L301.80 213.70Z" fill="#053061"/>
<line x1="301.80" y1="149.10" x2="304.40" y2="149.10" stroke="#231f20" stroke-width="0.6"/>
<text x="307.20" y="151.60" font-size="7.3" text-anchor="start" font-weight="normal" >2.0</text>
<line x1="301.80" y1="157.17" x2="304.40" y2="157.17" stroke="#231f20" stroke-width="0.6"/>
<text x="307.20" y="159.67" font-size="7.3" text-anchor="start" font-weight="normal" >1.5</text>
<line x1="301.80" y1="165.25" x2="304.40" y2="165.25" stroke="#231f20" stroke-width="0.6"/>
<text x="307.20" y="167.75" font-size="7.3" text-anchor="start" font-weight="normal" >1.0</text>
<line x1="301.80" y1="173.32" x2="304.40" y2="173.32" stroke="#231f20" stroke-width="0.6"/>
<text x="307.20" y="175.82" font-size="7.3" text-anchor="start" font-weight="normal" >0.5</text>
<line x1="301.80" y1="181.40" x2="304.40" y2="181.40" stroke="#231f20" stroke-width="0.6"/>
<text x="307.20" y="183.90" font-size="7.3" text-anchor="start" font-weight="normal" >0</text>
<line x1="301.80" y1="189.47" x2="304.40" y2="189.47" stroke="#231f20" stroke-width="0.6"/>
<text x="307.20" y="191.97" font-size="7.3" text-anchor="start" font-weight="normal" >−0.5</text>
<line x1="301.80" y1="197.55" x2="304.40" y2="197.55" stroke="#231f20" stroke-width="0.6"/>
<text x="307.20" y="200.05" font-size="7.3" text-anchor="start" font-weight="normal" >−1.0</text>
<line x1="301.80" y1="205.62" x2="304.40" y2="205.62" stroke="#231f20" stroke-width="0.6"/>
<text x="307.20" y="208.12" font-size="7.3" text-anchor="start" font-weight="normal" >−1.5</text>
<line x1="301.80" y1="213.70" x2="304.40" y2="213.70" stroke="#231f20" stroke-width="0.6"/>
<text x="307.20" y="216.20" font-size="7.3" text-anchor="start" font-weight="normal" >−2.0</text>
<g transform="translate(390.3,10.9)">
<g clip-path="url(#mapclip)">
<rect x="0" y="0" width="247.5" height="78.8" fill="#fed9c8"/>
<g filter="url(#bl)">
<rect x="-3.0" y="-3.0" width="85.8" height="5.76" fill="#ffede4"/>
<rect x="82.5" y="-3.0" width="34.7" height="5.76" fill="#fed9c8"/>
<rect x="116.9" y="-3.0" width="48.4" height="5.76" fill="#fcbba1"/>
<rect x="165.0" y="-3.0" width="85.8" height="5.76" fill="#fed9c8"/>
<rect x="-3.0" y="2.5" width="120.2" height="2.76" fill="#ffede4"/>
<rect x="116.9" y="2.5" width="62.2" height="2.76" fill="#fed9c8"/>
<rect x="178.8" y="2.5" width="27.8" height="2.76" fill="#ffffff"/>
<rect x="206.2" y="2.5" width="44.5" height="2.76" fill="#fed9c8"/>
<rect x="-3.0" y="4.9" width="99.5" height="2.76" fill="#ffede4"/>
<rect x="96.2" y="4.9" width="82.8" height="2.76" fill="#fed9c8"/>
<rect x="178.8" y="4.9" width="27.8" height="2.76" fill="#ffffff"/>
<rect x="206.2" y="4.9" width="7.2" height="2.76" fill="#fed9c8"/>
<rect x="213.1" y="4.9" width="7.2" height="2.76" fill="#ffede4"/>
<rect x="220.0" y="4.9" width="14.1" height="2.76" fill="#fed9c8"/>
<rect x="233.8" y="4.9" width="17.1" height="2.76" fill="#ffede4"/>
<rect x="-3.0" y="7.4" width="92.7" height="2.76" fill="#ffede4"/>
<rect x="89.4" y="7.4" width="89.7" height="2.76" fill="#fed9c8"/>
<rect x="178.8" y="7.4" width="27.8" height="2.76" fill="#ffffff"/>
<rect x="206.2" y="7.4" width="7.2" height="2.76" fill="#fed9c8"/>
<rect x="213.1" y="7.4" width="14.1" height="2.76" fill="#ffede4"/>
<rect x="226.9" y="7.4" width="7.2" height="2.76" fill="#fed9c8"/>
<rect x="233.8" y="7.4" width="17.1" height="2.76" fill="#ffede4"/>
<rect x="-3.0" y="9.8" width="92.7" height="2.76" fill="#ffede4"/>
<rect x="89.4" y="9.8" width="7.2" height="2.76" fill="#fed9c8"/>
<rect x="96.2" y="9.8" width="20.9" height="2.76" fill="#fcbba1"/>
<rect x="116.9" y="9.8" width="20.9" height="2.76" fill="#fed9c8"/>
<rect x="137.5" y="9.8" width="55.3" height="2.76" fill="#fcbba1"/>
<rect x="192.5" y="9.8" width="14.1" height="2.76" fill="#fed9c8"/>
<rect x="206.2" y="9.8" width="7.2" height="2.76" fill="#ffede4"/>
<rect x="213.1" y="9.8" width="20.9" height="2.76" fill="#fed9c8"/>
<rect x="233.8" y="9.8" width="17.1" height="2.76" fill="#ffede4"/>
<rect x="-3.0" y="12.3" width="10.2" height="2.76" fill="#fed9c8"/>
<rect x="6.9" y="12.3" width="14.1" height="2.76" fill="#fcbba1"/>
<rect x="20.6" y="12.3" width="14.1" height="2.76" fill="#ffede4"/>
<rect x="34.4" y="12.3" width="55.3" height="2.76" fill="#f6573e"/>
<rect x="89.4" y="12.3" width="27.8" height="2.76" fill="#fcbba1"/>
<rect x="116.9" y="12.3" width="20.9" height="2.76" fill="#fed9c8"/>
<rect x="137.5" y="12.3" width="55.3" height="2.76" fill="#fcbba1"/>
<rect x="192.5" y="12.3" width="7.2" height="2.76" fill="#fed9c8"/>
<rect x="199.4" y="12.3" width="14.1" height="2.76" fill="#ffede4"/>
<rect x="213.1" y="12.3" width="20.9" height="2.76" fill="#fed9c8"/>
<rect x="233.8" y="12.3" width="17.1" height="2.76" fill="#ffede4"/>
<rect x="-3.0" y="14.8" width="10.2" height="2.76" fill="#fed9c8"/>
<rect x="6.9" y="14.8" width="75.9" height="2.76" fill="#fcbba1"/>
<rect x="82.5" y="14.8" width="7.2" height="2.76" fill="#ffede4"/>
<rect x="89.4" y="14.8" width="7.2" height="2.76" fill="#fcbba1"/>
<rect x="96.2" y="14.8" width="14.1" height="2.76" fill="#fc9a7b"/>
<rect x="110.0" y="14.8" width="34.7" height="2.76" fill="#fcbba1"/>
<rect x="144.4" y="14.8" width="34.7" height="2.76" fill="#fc9a7b"/>
<rect x="178.8" y="14.8" width="14.1" height="2.76" fill="#fcbba1"/>
<rect x="192.5" y="14.8" width="34.7" height="2.76" fill="#fed9c8"/>
<rect x="226.9" y="14.8" width="23.9" height="2.76" fill="#ffede4"/>
<rect x="-3.0" y="17.2" width="23.9" height="2.76" fill="#fed9c8"/>
<rect x="20.6" y="17.2" width="62.2" height="2.76" fill="#fcbba1"/>
<rect x="82.5" y="17.2" width="7.2" height="2.76" fill="#ffede4"/>
<rect x="89.4" y="17.2" width="62.2" height="2.76" fill="#fc9a7b"/>
<rect x="151.2" y="17.2" width="20.9" height="2.76" fill="#fb7a5a"/>
<rect x="171.9" y="17.2" width="20.9" height="2.76" fill="#fcbba1"/>
<rect x="192.5" y="17.2" width="34.7" height="2.76" fill="#fed9c8"/>
<rect x="226.9" y="17.2" width="23.9" height="2.76" fill="#ffede4"/>
<rect x="-3.0" y="19.7" width="92.7" height="2.76" fill="#fcbba1"/>
<rect x="89.4" y="19.7" width="62.2" height="2.76" fill="#fc9a7b"/>
<rect x="151.2" y="19.7" width="27.8" height="2.76" fill="#fb7a5a"/>
<rect x="178.8" y="19.7" width="14.1" height="2.76" fill="#fcbba1"/>
<rect x="192.5" y="19.7" width="34.7" height="2.76" fill="#fed9c8"/>
<rect x="226.9" y="19.7" width="7.2" height="2.76" fill="#ffede4"/>
<rect x="233.8" y="19.7" width="17.1" height="2.76" fill="#fed9c8"/>
<rect x="-3.0" y="22.2" width="99.5" height="2.76" fill="#fc9a7b"/>
<rect x="96.2" y="22.2" width="14.1" height="2.76" fill="#fb7a5a"/>
<rect x="110.0" y="22.2" width="27.8" height="2.76" fill="#fc9a7b"/>
<rect x="137.5" y="22.2" width="14.1" height="2.76" fill="#fb7a5a"/>
<rect x="151.2" y="22.2" width="14.1" height="2.76" fill="#f6573e"/>
<rect x="165.0" y="22.2" width="27.8" height="2.76" fill="#fc9a7b"/>
<rect x="192.5" y="22.2" width="7.2" height="2.76" fill="#fcbba1"/>
<rect x="199.4" y="22.2" width="20.9" height="2.76" fill="#fed9c8"/>
<rect x="220.0" y="22.2" width="14.1" height="2.76" fill="#ffede4"/>
<rect x="233.8" y="22.2" width="17.1" height="2.76" fill="#fed9c8"/>
<rect x="-3.0" y="24.6" width="51.4" height="2.76" fill="#fb7a5a"/>
<rect x="48.1" y="24.6" width="41.5" height="2.76" fill="#fc9a7b"/>
<rect x="89.4" y="24.6" width="55.3" height="2.76" fill="#f6573e"/>
<rect x="144.4" y="24.6" width="14.1" height="2.76" fill="#e83429"/>
<rect x="158.1" y="24.6" width="7.2" height="2.76" fill="#f6573e"/>
<rect x="165.0" y="24.6" width="20.9" height="2.76" fill="#fc9a7b"/>
<rect x="185.6" y="24.6" width="7.2" height="2.76" fill="#fb7a5a"/>
<rect x="192.5" y="24.6" width="7.2" height="2.76" fill="#fc9a7b"/>
<rect x="199.4" y="24.6" width="20.9" height="2.76" fill="#fcbba1"/>
<rect x="220.0" y="24.6" width="30.8" height="2.76" fill="#fed9c8"/>
<rect x="-3.0" y="27.1" width="51.4" height="2.76" fill="#fb7a5a"/>
<rect x="48.1" y="27.1" width="27.8" height="2.76" fill="#fc9a7b"/>
<rect x="75.6" y="27.1" width="14.1" height="2.76" fill="#fb7a5a"/>
<rect x="89.4" y="27.1" width="48.4" height="2.76" fill="#cb181d"/>
<rect x="137.5" y="27.1" width="7.2" height="2.76" fill="#e83429"/>
<rect x="144.4" y="27.1" width="14.1" height="2.76" fill="#f6573e"/>
<rect x="158.1" y="27.1" width="7.2" height="2.76" fill="#fb7a5a"/>
<rect x="165.0" y="27.1" width="20.9" height="2.76" fill="#fcbba1"/>
<rect x="185.6" y="27.1" width="14.1" height="2.76" fill="#fc9a7b"/>
<rect x="199.4" y="27.1" width="20.9" height="2.76" fill="#fcbba1"/>
<rect x="220.0" y="27.1" width="30.8" height="2.76" fill="#fed9c8"/>
<rect x="-3.0" y="29.5" width="44.5" height="2.76" fill="#fc9a7b"/>
<rect x="41.2" y="29.5" width="7.2" height="2.76" fill="#fb7a5a"/>
<rect x="48.1" y="29.5" width="7.2" height="2.76" fill="#fc9a7b"/>
<rect x="55.0" y="29.5" width="7.2" height="2.76" fill="#fcbba1"/>
<rect x="61.9" y="29.5" width="7.2" height="2.76" fill="#fc9a7b"/>
<rect x="68.8" y="29.5" width="7.2" height="2.76" fill="#ffffff"/>
<rect x="75.6" y="29.5" width="14.1" height="2.76" fill="#fc9a7b"/>
<rect x="89.4" y="29.5" width="27.8" height="2.76" fill="#e83429"/>
<rect x="116.9" y="29.5" width="7.2" height="2.76" fill="#f6573e"/>
<rect x="123.8" y="29.5" width="14.1" height="2.76" fill="#fb7a5a"/>
<rect x="137.5" y="29.5" width="14.1" height="2.76" fill="#fc9a7b"/>
<rect x="151.2" y="29.5" width="14.1" height="2.76" fill="#fcbba1"/>
<rect x="165.0" y="29.5" width="7.2" height="2.76" fill="#fed9c8"/>
<rect x="171.9" y="29.5" width="48.4" height="2.76" fill="#fcbba1"/>
<rect x="220.0" y="29.5" width="7.2" height="2.76" fill="#fed9c8"/>
<rect x="226.9" y="29.5" width="7.2" height="2.76" fill="#ffede4"/>
<rect x="233.8" y="29.5" width="17.1" height="2.76" fill="#fed9c8"/>
<rect x="-3.0" y="32.0" width="51.4" height="2.76" fill="#fc9a7b"/>
<rect x="48.1" y="32.0" width="20.9" height="2.76" fill="#fcbba1"/>
<rect x="68.8" y="32.0" width="14.1" height="2.76" fill="#ffffff"/>
<rect x="82.5" y="32.0" width="7.2" height="2.76" fill="#fcbba1"/>
<rect x="89.4" y="32.0" width="7.2" height="2.76" fill="#fc9a7b"/>
<rect x="96.2" y="32.0" width="20.9" height="2.76" fill="#fb7a5a"/>
<rect x="116.9" y="32.0" width="20.9" height="2.76" fill="#fc9a7b"/>
<rect x="137.5" y="32.0" width="20.9" height="2.76" fill="#fcbba1"/>
<rect x="158.1" y="32.0" width="92.7" height="2.76" fill="#fed9c8"/>
<rect x="-3.0" y="34.5" width="72.0" height="2.76" fill="#fcbba1"/>
<rect x="68.8" y="34.5" width="14.1" height="2.76" fill="#ffffff"/>
<rect x="82.5" y="34.5" width="7.2" height="2.76" fill="#fcbba1"/>
<rect x="89.4" y="34.5" width="27.8" height="2.76" fill="#fc9a7b"/>
<rect x="116.9" y="34.5" width="20.9" height="2.76" fill="#fcbba1"/>
<rect x="137.5" y="34.5" width="41.5" height="2.76" fill="#fed9c8"/>
<rect x="178.8" y="34.5" width="34.7" height="2.76" fill="#fcbba1"/>
<rect x="213.1" y="34.5" width="27.8" height="2.76" fill="#fed9c8"/>
<rect x="240.6" y="34.5" width="10.2" height="2.76" fill="#fcbba1"/>
<rect x="-3.0" y="36.9" width="72.0" height="2.76" fill="#fcbba1"/>
<rect x="68.8" y="36.9" width="14.1" height="2.76" fill="#ffffff"/>
<rect x="82.5" y="36.9" width="7.2" height="2.76" fill="#fcbba1"/>
<rect x="89.4" y="36.9" width="20.9" height="2.76" fill="#fc9a7b"/>
<rect x="110.0" y="36.9" width="55.3" height="2.76" fill="#fcbba1"/>
<rect x="165.0" y="36.9" width="14.1" height="2.76" fill="#fed9c8"/>
<rect x="178.8" y="36.9" width="41.5" height="2.76" fill="#fcbba1"/>
<rect x="220.0" y="36.9" width="14.1" height="2.76" fill="#fed9c8"/>
<rect x="233.8" y="36.9" width="17.1" height="2.76" fill="#fcbba1"/>
<rect x="-3.0" y="39.4" width="72.0" height="2.76" fill="#fcbba1"/>
<rect x="68.8" y="39.4" width="14.1" height="2.76" fill="#ffffff"/>
<rect x="82.5" y="39.4" width="20.9" height="2.76" fill="#fb7a5a"/>
<rect x="103.1" y="39.4" width="27.8" height="2.76" fill="#fc9a7b"/>
<rect x="130.6" y="39.4" width="48.4" height="2.76" fill="#fcbba1"/>
<rect x="178.8" y="39.4" width="72.0" height="2.76" fill="#fed9c8"/>
<rect x="-3.0" y="41.9" width="92.7" height="2.76" fill="#fcbba1"/>
<rect x="89.4" y="41.9" width="14.1" height="2.76" fill="#f6573e"/>
<rect x="103.1" y="41.9" width="27.8" height="2.76" fill="#fb7a5a"/>
<rect x="130.6" y="41.9" width="34.7" height="2.76" fill="#fc9a7b"/>
<rect x="165.0" y="41.9" width="20.9" height="2.76" fill="#fcbba1"/>
<rect x="185.6" y="41.9" width="65.2" height="2.76" fill="#fed9c8"/>
<rect x="-3.0" y="44.3" width="30.8" height="2.76" fill="#fed9c8"/>
<rect x="27.5" y="44.3" width="48.4" height="2.76" fill="#fc9a7b"/>
<rect x="75.6" y="44.3" width="14.1" height="2.76" fill="#fb7a5a"/>
<rect x="89.4" y="44.3" width="7.2" height="2.76" fill="#ffffff"/>
<rect x="96.2" y="44.3" width="20.9" height="2.76" fill="#f6573e"/>
<rect x="116.9" y="44.3" width="41.5" height="2.76" fill="#e83429"/>
<rect x="158.1" y="44.3" width="14.1" height="2.76" fill="#f6573e"/>
<rect x="171.9" y="44.3" width="7.2" height="2.76" fill="#fb7a5a"/>
<rect x="178.8" y="44.3" width="7.2" height="2.76" fill="#fc9a7b"/>
<rect x="185.6" y="44.3" width="65.2" height="2.76" fill="#fcbba1"/>
<rect x="-3.0" y="46.8" width="30.8" height="2.76" fill="#fed9c8"/>
<rect x="27.5" y="46.8" width="7.2" height="2.76" fill="#fb7a5a"/>
<rect x="34.4" y="46.8" width="41.5" height="2.76" fill="#f6573e"/>
<rect x="75.6" y="46.8" width="14.1" height="2.76" fill="#e83429"/>
<rect x="89.4" y="46.8" width="7.2" height="2.76" fill="#ffffff"/>
<rect x="96.2" y="46.8" width="14.1" height="2.76" fill="#fb7a5a"/>
<rect x="110.0" y="46.8" width="14.1" height="2.76" fill="#f6573e"/>
<rect x="123.8" y="46.8" width="41.5" height="2.76" fill="#cb181d"/>
<rect x="165.0" y="46.8" width="7.2" height="2.76" fill="#e83429"/>
<rect x="171.9" y="46.8" width="7.2" height="2.76" fill="#f6573e"/>
<rect x="178.8" y="46.8" width="7.2" height="2.76" fill="#fb7a5a"/>
<rect x="185.6" y="46.8" width="41.5" height="2.76" fill="#fc9a7b"/>
<rect x="226.9" y="46.8" width="23.9" height="2.76" fill="#fcbba1"/>
<rect x="-3.0" y="49.2" width="23.9" height="2.76" fill="#fed9c8"/>
<rect x="20.6" y="49.2" width="14.1" height="2.76" fill="#fc9a7b"/>
<rect x="34.4" y="49.2" width="20.9" height="2.76" fill="#f6573e"/>
<rect x="55.0" y="49.2" width="41.5" height="2.76" fill="#e83429"/>
<rect x="96.2" y="49.2" width="14.1" height="2.76" fill="#fc9a7b"/>
<rect x="110.0" y="49.2" width="7.2" height="2.76" fill="#fb7a5a"/>
<rect x="116.9" y="49.2" width="7.2" height="2.76" fill="#f6573e"/>
<rect x="123.8" y="49.2" width="34.7" height="2.76" fill="#e83429"/>
<rect x="158.1" y="49.2" width="14.1" height="2.76" fill="#cb181d"/>
<rect x="171.9" y="49.2" width="7.2" height="2.76" fill="#e83429"/>
<rect x="178.8" y="49.2" width="7.2" height="2.76" fill="#fb7a5a"/>
<rect x="185.6" y="49.2" width="48.4" height="2.76" fill="#fc9a7b"/>
<rect x="233.8" y="49.2" width="17.1" height="2.76" fill="#fcbba1"/>
<rect x="-3.0" y="51.7" width="23.9" height="2.76" fill="#fcbba1"/>
<rect x="20.6" y="51.7" width="27.8" height="2.76" fill="#fc9a7b"/>
<rect x="48.1" y="51.7" width="48.4" height="2.76" fill="#fb7a5a"/>
<rect x="96.2" y="51.7" width="20.9" height="2.76" fill="#fcbba1"/>
<rect x="116.9" y="51.7" width="7.2" height="2.76" fill="#fc9a7b"/>
<rect x="123.8" y="51.7" width="20.9" height="2.76" fill="#fb7a5a"/>
<rect x="144.4" y="51.7" width="14.1" height="2.76" fill="#f6573e"/>
<rect x="158.1" y="51.7" width="20.9" height="2.76" fill="#e83429"/>
<rect x="178.8" y="51.7" width="7.2" height="2.76" fill="#f6573e"/>
<rect x="185.6" y="51.7" width="20.9" height="2.76" fill="#fc9a7b"/>
<rect x="206.2" y="51.7" width="44.5" height="2.76" fill="#fcbba1"/>
<rect x="-3.0" y="54.2" width="120.2" height="2.76" fill="#fcbba1"/>
<rect x="116.9" y="54.2" width="27.8" height="2.76" fill="#fc9a7b"/>
<rect x="144.4" y="54.2" width="20.9" height="2.76" fill="#fb7a5a"/>
<rect x="165.0" y="54.2" width="20.9" height="2.76" fill="#f6573e"/>
<rect x="185.6" y="54.2" width="20.9" height="2.76" fill="#fb7a5a"/>
<rect x="206.2" y="54.2" width="44.5" height="2.76" fill="#fcbba1"/>
<rect x="-3.0" y="56.6" width="44.5" height="2.76" fill="#fcbba1"/>
<rect x="41.2" y="56.6" width="27.8" height="2.76" fill="#fed9c8"/>
<rect x="68.8" y="56.6" width="27.8" height="2.76" fill="#fcbba1"/>
<rect x="96.2" y="56.6" width="27.8" height="2.76" fill="#fed9c8"/>
<rect x="123.8" y="56.6" width="27.8" height="2.76" fill="#fcbba1"/>
<rect x="151.2" y="56.6" width="14.1" height="2.76" fill="#fc9a7b"/>
<rect x="165.0" y="56.6" width="20.9" height="2.76" fill="#fb7a5a"/>
<rect x="185.6" y="56.6" width="7.2" height="2.76" fill="#fc9a7b"/>
<rect x="192.5" y="56.6" width="14.1" height="2.76" fill="#fcbba1"/>
<rect x="206.2" y="56.6" width="44.5" height="2.76" fill="#fed9c8"/>
<rect x="-3.0" y="59.1" width="23.9" height="2.76" fill="#fcbba1"/>
<rect x="20.6" y="59.1" width="137.8" height="2.76" fill="#fed9c8"/>
<rect x="158.1" y="59.1" width="27.8" height="2.76" fill="#fc9a7b"/>
<rect x="185.6" y="59.1" width="20.9" height="2.76" fill="#fcbba1"/>
<rect x="206.2" y="59.1" width="44.5" height="2.76" fill="#fed9c8"/>
<rect x="-3.0" y="61.6" width="23.9" height="2.76" fill="#fcbba1"/>
<rect x="20.6" y="61.6" width="117.2" height="2.76" fill="#fed9c8"/>
<rect x="137.5" y="61.6" width="34.7" height="2.76" fill="#fcbba1"/>
<rect x="171.9" y="61.6" width="78.9" height="2.76" fill="#fed9c8"/>
<rect x="-3.0" y="64.0" width="253.8" height="2.76" fill="#fed9c8"/>
<rect x="-3.0" y="66.5" width="10.2" height="2.76" fill="#fed9c8"/>
<rect x="6.9" y="66.5" width="7.2" height="2.76" fill="#ffede4"/>
<rect x="13.8" y="66.5" width="7.2" height="2.76" fill="#fed9c8"/>
<rect x="20.6" y="66.5" width="7.2" height="2.76" fill="#ffede4"/>
<rect x="27.5" y="66.5" width="7.2" height="2.76" fill="#fed9c8"/>
<rect x="34.4" y="66.5" width="7.2" height="2.76" fill="#ffede4"/>
<rect x="41.2" y="66.5" width="7.2" height="2.76" fill="#fed9c8"/>
<rect x="48.1" y="66.5" width="7.2" height="2.76" fill="#ffede4"/>
<rect x="55.0" y="66.5" width="7.2" height="2.76" fill="#fed9c8"/>
<rect x="61.9" y="66.5" width="7.2" height="2.76" fill="#ffede4"/>
<rect x="68.8" y="66.5" width="7.2" height="2.76" fill="#fed9c8"/>
<rect x="75.6" y="66.5" width="7.2" height="2.76" fill="#ffede4"/>
<rect x="82.5" y="66.5" width="14.1" height="2.76" fill="#fed9c8"/>
<rect x="96.2" y="66.5" width="7.2" height="2.76" fill="#ffede4"/>
<rect x="103.1" y="66.5" width="7.2" height="2.76" fill="#fed9c8"/>
<rect x="110.0" y="66.5" width="7.2" height="2.76" fill="#ffede4"/>
<rect x="116.9" y="66.5" width="7.2" height="2.76" fill="#fed9c8"/>
<rect x="123.8" y="66.5" width="7.2" height="2.76" fill="#ffede4"/>
<rect x="130.6" y="66.5" width="7.2" height="2.76" fill="#fed9c8"/>
<rect x="137.5" y="66.5" width="7.2" height="2.76" fill="#ffede4"/>
<rect x="144.4" y="66.5" width="7.2" height="2.76" fill="#fed9c8"/>
<rect x="151.2" y="66.5" width="7.2" height="2.76" fill="#ffede4"/>
<rect x="158.1" y="66.5" width="7.2" height="2.76" fill="#fed9c8"/>
<rect x="165.0" y="66.5" width="7.2" height="2.76" fill="#ffede4"/>
<rect x="171.9" y="66.5" width="7.2" height="2.76" fill="#fed9c8"/>
<rect x="178.8" y="66.5" width="7.2" height="2.76" fill="#ffede4"/>
<rect x="185.6" y="66.5" width="7.2" height="2.76" fill="#fed9c8"/>
<rect x="192.5" y="66.5" width="7.2" height="2.76" fill="#ffede4"/>
<rect x="199.4" y="66.5" width="7.2" height="2.76" fill="#fed9c8"/>
<rect x="206.2" y="66.5" width="7.2" height="2.76" fill="#ffede4"/>
<rect x="213.1" y="66.5" width="7.2" height="2.76" fill="#fed9c8"/>
<rect x="220.0" y="66.5" width="7.2" height="2.76" fill="#ffede4"/>
<rect x="226.9" y="66.5" width="7.2" height="2.76" fill="#fed9c8"/>
<rect x="233.8" y="66.5" width="7.2" height="2.76" fill="#ffede4"/>
<rect x="240.6" y="66.5" width="10.2" height="2.76" fill="#fed9c8"/>
<rect x="-3.0" y="69.0" width="253.8" height="2.76" fill="#ffede4"/>
<rect x="-3.0" y="71.4" width="253.8" height="2.76" fill="#ffede4"/>
<rect x="-3.0" y="73.9" width="127.0" height="2.76" fill="#ffede4"/>
<rect x="123.8" y="73.9" width="127.0" height="2.76" fill="#fed9c8"/>
<rect x="-3.0" y="76.3" width="253.8" height="5.76" fill="#ffede4"/>
</g>
<use href="#nansea" fill="#7f7f7f" stroke="none"/>
<use href="#land" fill="#7f7f7f" stroke="none"/>
<use href="#land" fill="none" stroke="#000" stroke-width="0.8" stroke-linejoin="round"/>
</g>
<rect x="0" y="0" width="247.5" height="78.8" fill="none" stroke="#333" stroke-width="0.6"/>
</g>
<line x1="386.70" y1="16.18" x2="390.30" y2="16.18" stroke="#231f20" stroke-width="0.6"/>
<text x="383.70" y="18.88" font-size="7.3" text-anchor="end" font-weight="normal" >60° N</text>
<line x1="386.70" y1="30.60" x2="390.30" y2="30.60" stroke="#231f20" stroke-width="0.6"/>
<text x="383.70" y="33.30" font-size="7.3" text-anchor="end" font-weight="normal" >30° N</text>
<line x1="386.70" y1="50.30" x2="390.30" y2="50.30" stroke="#231f20" stroke-width="0.6"/>
<text x="383.70" y="53.00" font-size="7.3" text-anchor="end" font-weight="normal" >0°</text>
<line x1="386.70" y1="70.00" x2="390.30" y2="70.00" stroke="#231f20" stroke-width="0.6"/>
<text x="383.70" y="72.70" font-size="7.3" text-anchor="end" font-weight="normal" >30° S</text>
<line x1="386.70" y1="84.42" x2="390.30" y2="84.42" stroke="#231f20" stroke-width="0.6"/>
<text x="383.70" y="87.12" font-size="7.3" text-anchor="end" font-weight="normal" >60° S</text>
<line x1="390.30" y1="89.70" x2="390.30" y2="92.70" stroke="#231f20" stroke-width="0.6"/>
<text x="390.30" y="103.60" font-size="7.0" text-anchor="middle" font-weight="normal" >0°</text>
<line x1="431.55" y1="89.70" x2="431.55" y2="92.70" stroke="#231f20" stroke-width="0.6"/>
<text x="431.55" y="103.60" font-size="7.0" text-anchor="middle" font-weight="normal" >60° E</text>
<line x1="472.80" y1="89.70" x2="472.80" y2="92.70" stroke="#231f20" stroke-width="0.6"/>
<text x="472.80" y="103.60" font-size="7.0" text-anchor="middle" font-weight="normal" >120° E</text>
<line x1="514.05" y1="89.70" x2="514.05" y2="92.70" stroke="#231f20" stroke-width="0.6"/>
<text x="514.05" y="103.60" font-size="7.0" text-anchor="middle" font-weight="normal" >180°</text>
<line x1="555.30" y1="89.70" x2="555.30" y2="92.70" stroke="#231f20" stroke-width="0.6"/>
<text x="555.30" y="103.60" font-size="7.0" text-anchor="middle" font-weight="normal" >120° W</text>
<line x1="596.55" y1="89.70" x2="596.55" y2="92.70" stroke="#231f20" stroke-width="0.6"/>
<text x="596.55" y="103.60" font-size="7.0" text-anchor="middle" font-weight="normal" >60° W</text>
<text x="514.25" y="116.50" font-size="9.2" text-anchor="middle" font-weight="normal" >Longitude</text>
<text x="0" y="0" font-size="8.9" text-anchor="middle" transform="translate(359.30,49.90) rotate(-90)">Latitude</text>
<rect x="647.70" y="78.82" width="4.4" height="6.83" fill="#ffede4"/>
<rect x="647.70" y="72.04" width="4.4" height="6.83" fill="#fed9c8"/>
<rect x="647.70" y="65.26" width="4.4" height="6.83" fill="#fcbba1"/>
<rect x="647.70" y="58.48" width="4.4" height="6.83" fill="#fc9a7b"/>
<rect x="647.70" y="51.70" width="4.4" height="6.83" fill="#fb7a5a"/>
<rect x="647.70" y="44.92" width="4.4" height="6.83" fill="#f6573e"/>
<rect x="647.70" y="38.14" width="4.4" height="6.83" fill="#e83429"/>
<rect x="647.70" y="31.36" width="4.4" height="6.83" fill="#cb181d"/>
<rect x="647.70" y="24.58" width="4.4" height="6.83" fill="#ad1117"/>
<rect x="647.70" y="17.80" width="4.4" height="6.83" fill="#800610"/>
<path d="M647.70 17.80L649.90 14.00L652.10 17.80Z" fill="#67000d"/>
<line x1="652.10" y1="17.80" x2="654.70" y2="17.80" stroke="#231f20" stroke-width="0.6"/>
<text x="657.50" y="20.30" font-size="7.3" text-anchor="start" font-weight="normal" >1.0</text>
<line x1="652.10" y1="31.36" x2="654.70" y2="31.36" stroke="#231f20" stroke-width="0.6"/>
<text x="657.50" y="33.86" font-size="7.3" text-anchor="start" font-weight="normal" >0.8</text>
<line x1="652.10" y1="44.92" x2="654.70" y2="44.92" stroke="#231f20" stroke-width="0.6"/>
<text x="657.50" y="47.42" font-size="7.3" text-anchor="start" font-weight="normal" >0.6</text>
<line x1="652.10" y1="58.48" x2="654.70" y2="58.48" stroke="#231f20" stroke-width="0.6"/>
<text x="657.50" y="60.98" font-size="7.3" text-anchor="start" font-weight="normal" >0.4</text>
<line x1="652.10" y1="72.04" x2="654.70" y2="72.04" stroke="#231f20" stroke-width="0.6"/>
<text x="657.50" y="74.54" font-size="7.3" text-anchor="start" font-weight="normal" >0.2</text>
<line x1="652.10" y1="85.60" x2="654.70" y2="85.60" stroke="#231f20" stroke-width="0.6"/>
<text x="657.50" y="88.10" font-size="7.3" text-anchor="start" font-weight="normal" >0</text>
<g transform="translate(390.3,142.3)">
<g clip-path="url(#mapclip)">
<rect x="0" y="0" width="247.5" height="78.8" fill="#f7f7f7"/>
<g filter="url(#bl)">
<rect x="-3.0" y="-3.0" width="23.9" height="5.76" fill="#ee9878"/>
<rect x="20.6" y="-3.0" width="69.0" height="5.76" fill="#f7f7f7"/>
<rect x="89.4" y="-3.0" width="7.2" height="5.76" fill="#ebf1f5"/>
<rect x="96.2" y="-3.0" width="7.2" height="5.76" fill="#f7f7f7"/>
<rect x="103.1" y="-3.0" width="7.2" height="5.76" fill="#ebf1f5"/>
<rect x="110.0" y="-3.0" width="7.2" height="5.76" fill="#f7f7f7"/>
<rect x="116.9" y="-3.0" width="7.2" height="5.76" fill="#ebf1f5"/>
<rect x="123.8" y="-3.0" width="14.1" height="5.76" fill="#f7f7f7"/>
<rect x="137.5" y="-3.0" width="27.8" height="5.76" fill="#f8bda0"/>
<rect x="165.0" y="-3.0" width="62.2" height="5.76" fill="#f7f7f7"/>
<rect x="226.9" y="-3.0" width="23.9" height="5.76" fill="#f8bda0"/>
<rect x="-3.0" y="2.5" width="182.1" height="2.76" fill="#f9eee8"/>
<rect x="178.8" y="2.5" width="27.8" height="2.76" fill="#ffffff"/>
<rect x="206.2" y="2.5" width="20.9" height="2.76" fill="#f9eee8"/>
<rect x="226.9" y="2.5" width="23.9" height="2.76" fill="#f8bda0"/>
<rect x="-3.0" y="4.9" width="182.1" height="2.76" fill="#f9eee8"/>
<rect x="178.8" y="4.9" width="27.8" height="2.76" fill="#ffffff"/>
<rect x="206.2" y="4.9" width="7.2" height="2.76" fill="#f7f7f7"/>
<rect x="213.1" y="4.9" width="14.1" height="2.76" fill="#f9eee8"/>
<rect x="226.9" y="4.9" width="23.9" height="2.76" fill="#f8bda0"/>
<rect x="-3.0" y="7.4" width="92.7" height="2.76" fill="#ebf1f5"/>
<rect x="89.4" y="7.4" width="48.4" height="2.76" fill="#f9eee8"/>
<rect x="137.5" y="7.4" width="20.9" height="2.76" fill="#f8bda0"/>
<rect x="158.1" y="7.4" width="20.9" height="2.76" fill="#f9eee8"/>
<rect x="178.8" y="7.4" width="27.8" height="2.76" fill="#ffffff"/>
<rect x="206.2" y="7.4" width="7.2" height="2.76" fill="#f7f7f7"/>
<rect x="213.1" y="7.4" width="14.1" height="2.76" fill="#ebf1f5"/>
<rect x="226.9" y="7.4" width="7.2" height="2.76" fill="#f9eee8"/>
<rect x="233.8" y="7.4" width="17.1" height="2.76" fill="#f8bda0"/>
<rect x="-3.0" y="9.8" width="23.9" height="2.76" fill="#ebf1f5"/>
<rect x="20.6" y="9.8" width="69.0" height="2.76" fill="#aed3e6"/>
<rect x="89.4" y="9.8" width="69.0" height="2.76" fill="#f8bda0"/>
<rect x="158.1" y="9.8" width="41.5" height="2.76" fill="#f9eee8"/>
<rect x="199.4" y="9.8" width="20.9" height="2.76" fill="#f7f7f7"/>
<rect x="220.0" y="9.8" width="7.2" height="2.76" fill="#f9eee8"/>
<rect x="226.9" y="9.8" width="23.9" height="2.76" fill="#f8bda0"/>
<rect x="-3.0" y="12.3" width="10.2" height="2.76" fill="#aed3e6"/>
<rect x="6.9" y="12.3" width="7.2" height="2.76" fill="#ebf1f5"/>
<rect x="13.8" y="12.3" width="27.8" height="2.76" fill="#f7f7f7"/>
<rect x="41.2" y="12.3" width="48.4" height="2.76" fill="#83bcd9"/>
<rect x="89.4" y="12.3" width="69.0" height="2.76" fill="#ee9878"/>
<rect x="158.1" y="12.3" width="27.8" height="2.76" fill="#f8bda0"/>
<rect x="185.6" y="12.3" width="7.2" height="2.76" fill="#f7f7f7"/>
<rect x="192.5" y="12.3" width="7.2" height="2.76" fill="#ebf1f5"/>
<rect x="199.4" y="12.3" width="7.2" height="2.76" fill="#f7f7f7"/>
<rect x="206.2" y="12.3" width="20.9" height="2.76" fill="#f9eee8"/>
<rect x="226.9" y="12.3" width="23.9" height="2.76" fill="#f8bda0"/>
<rect x="-3.0" y="14.8" width="10.2" height="2.76" fill="#aed3e6"/>
<rect x="6.9" y="14.8" width="75.9" height="2.76" fill="#ebf1f5"/>
<rect x="82.5" y="14.8" width="7.2" height="2.76" fill="#f7f7f7"/>
<rect x="89.4" y="14.8" width="69.0" height="2.76" fill="#ee9878"/>
<rect x="158.1" y="14.8" width="20.9" height="2.76" fill="#f8bda0"/>
<rect x="178.8" y="14.8" width="72.0" height="2.76" fill="#f9eee8"/>
<rect x="-3.0" y="17.2" width="30.8" height="2.76" fill="#ebf1f5"/>
<rect x="27.5" y="17.2" width="55.3" height="2.76" fill="#f9eee8"/>
<rect x="82.5" y="17.2" width="7.2" height="2.76" fill="#f8bda0"/>
<rect x="89.4" y="17.2" width="62.2" height="2.76" fill="#dc6d57"/>
<rect x="151.2" y="17.2" width="20.9" height="2.76" fill="#ee9878"/>
<rect x="171.9" y="17.2" width="78.9" height="2.76" fill="#f9eee8"/>
<rect x="-3.0" y="19.7" width="85.8" height="2.76" fill="#f9eee8"/>
<rect x="82.5" y="19.7" width="7.2" height="2.76" fill="#ee9878"/>
<rect x="89.4" y="19.7" width="48.4" height="2.76" fill="#c6403e"/>
<rect x="137.5" y="19.7" width="20.9" height="2.76" fill="#dc6d57"/>
<rect x="158.1" y="19.7" width="7.2" height="2.76" fill="#ee9878"/>
<rect x="165.0" y="19.7" width="85.8" height="2.76" fill="#f9eee8"/>
<rect x="-3.0" y="22.2" width="85.8" height="2.76" fill="#f8bda0"/>
<rect x="82.5" y="22.2" width="7.2" height="2.76" fill="#ee9878"/>
<rect x="89.4" y="22.2" width="34.7" height="2.76" fill="#ad162a"/>
<rect x="123.8" y="22.2" width="20.9" height="2.76" fill="#c6403e"/>
<rect x="144.4" y="22.2" width="14.1" height="2.76" fill="#dc6d57"/>
<rect x="158.1" y="22.2" width="7.2" height="2.76" fill="#ee9878"/>
<rect x="165.0" y="22.2" width="85.8" height="2.76" fill="#f9eee8"/>
<rect x="-3.0" y="24.6" width="92.7" height="2.76" fill="#f8bda0"/>
<rect x="89.4" y="24.6" width="34.7" height="2.76" fill="#7e0823"/>
<rect x="123.8" y="24.6" width="14.1" height="2.76" fill="#ad162a"/>
<rect x="137.5" y="24.6" width="14.1" height="2.76" fill="#c6403e"/>
<rect x="151.2" y="24.6" width="14.1" height="2.76" fill="#ee9878"/>
<rect x="165.0" y="24.6" width="85.8" height="2.76" fill="#f9eee8"/>
<rect x="-3.0" y="27.1" width="78.9" height="2.76" fill="#f8bda0"/>
<rect x="75.6" y="27.1" width="14.1" height="2.76" fill="#ee9878"/>
<rect x="89.4" y="27.1" width="27.8" height="2.76" fill="#c6403e"/>
<rect x="116.9" y="27.1" width="14.1" height="2.76" fill="#dc6d57"/>
<rect x="130.6" y="27.1" width="14.1" height="2.76" fill="#ee9878"/>
<rect x="144.4" y="27.1" width="27.8" height="2.76" fill="#f8bda0"/>
<rect x="171.9" y="27.1" width="20.9" height="2.76" fill="#f9eee8"/>
<rect x="192.5" y="27.1" width="34.7" height="2.76" fill="#f7f7f7"/>
<rect x="226.9" y="27.1" width="23.9" height="2.76" fill="#f9eee8"/>
<rect x="-3.0" y="29.5" width="51.4" height="2.76" fill="#f9eee8"/>
<rect x="48.1" y="29.5" width="20.9" height="2.76" fill="#f8bda0"/>
<rect x="68.8" y="29.5" width="7.2" height="2.76" fill="#ffffff"/>
<rect x="75.6" y="29.5" width="14.1" height="2.76" fill="#ee9878"/>
<rect x="89.4" y="29.5" width="20.9" height="2.76" fill="#f9eee8"/>
<rect x="110.0" y="29.5" width="41.5" height="2.76" fill="#f7f7f7"/>
<rect x="151.2" y="29.5" width="14.1" height="2.76" fill="#f9eee8"/>
<rect x="165.0" y="29.5" width="20.9" height="2.76" fill="#f8bda0"/>
<rect x="185.6" y="29.5" width="14.1" height="2.76" fill="#f9eee8"/>
<rect x="199.4" y="29.5" width="34.7" height="2.76" fill="#f7f7f7"/>
<rect x="233.8" y="29.5" width="17.1" height="2.76" fill="#f9eee8"/>
<rect x="-3.0" y="32.0" width="51.4" height="2.76" fill="#f9eee8"/>
<rect x="48.1" y="32.0" width="20.9" height="2.76" fill="#f8bda0"/>
<rect x="68.8" y="32.0" width="20.9" height="2.76" fill="#ffffff"/>
<rect x="89.4" y="32.0" width="75.9" height="2.76" fill="#f7f7f7"/>
<rect x="165.0" y="32.0" width="41.5" height="2.76" fill="#f8bda0"/>
<rect x="206.2" y="32.0" width="20.9" height="2.76" fill="#f7f7f7"/>
<rect x="226.9" y="32.0" width="23.9" height="2.76" fill="#f9eee8"/>
<rect x="-3.0" y="34.5" width="44.5" height="2.76" fill="#f9eee8"/>
<rect x="41.2" y="34.5" width="27.8" height="2.76" fill="#f8bda0"/>
<rect x="68.8" y="34.5" width="14.1" height="2.76" fill="#ffffff"/>
<rect x="82.5" y="34.5" width="7.2" height="2.76" fill="#f7f7f7"/>
<rect x="89.4" y="34.5" width="48.4" height="2.76" fill="#aed3e6"/>
<rect x="137.5" y="34.5" width="20.9" height="2.76" fill="#ebf1f5"/>
<rect x="158.1" y="34.5" width="7.2" height="2.76" fill="#f7f7f7"/>
<rect x="165.0" y="34.5" width="20.9" height="2.76" fill="#f8bda0"/>
<rect x="185.6" y="34.5" width="27.8" height="2.76" fill="#f9eee8"/>
<rect x="213.1" y="34.5" width="7.2" height="2.76" fill="#f7f7f7"/>
<rect x="220.0" y="34.5" width="30.8" height="2.76" fill="#f9eee8"/>
<rect x="-3.0" y="36.9" width="44.5" height="2.76" fill="#f9eee8"/>
<rect x="41.2" y="36.9" width="27.8" height="2.76" fill="#f8bda0"/>
<rect x="68.8" y="36.9" width="14.1" height="2.76" fill="#ffffff"/>
<rect x="82.5" y="36.9" width="14.1" height="2.76" fill="#f7f7f7"/>
<rect x="96.2" y="36.9" width="48.4" height="2.76" fill="#ebf1f5"/>
<rect x="144.4" y="36.9" width="20.9" height="2.76" fill="#f7f7f7"/>
<rect x="165.0" y="36.9" width="14.1" height="2.76" fill="#f8bda0"/>
<rect x="178.8" y="36.9" width="41.5" height="2.76" fill="#f9eee8"/>
<rect x="220.0" y="36.9" width="14.1" height="2.76" fill="#f8bda0"/>
<rect x="233.8" y="36.9" width="17.1" height="2.76" fill="#f9eee8"/>
<rect x="-3.0" y="39.4" width="37.7" height="2.76" fill="#f9eee8"/>
<rect x="34.4" y="39.4" width="34.7" height="2.76" fill="#f8bda0"/>
<rect x="68.8" y="39.4" width="20.9" height="2.76" fill="#ffffff"/>
<rect x="89.4" y="39.4" width="7.2" height="2.76" fill="#f7f7f7"/>
<rect x="96.2" y="39.4" width="7.2" height="2.76" fill="#ebf1f5"/>
<rect x="103.1" y="39.4" width="7.2" height="2.76" fill="#aed3e6"/>
<rect x="110.0" y="39.4" width="34.7" height="2.76" fill="#529cc8"/>
<rect x="144.4" y="39.4" width="7.2" height="2.76" fill="#83bcd9"/>
<rect x="151.2" y="39.4" width="7.2" height="2.76" fill="#aed3e6"/>
<rect x="158.1" y="39.4" width="14.1" height="2.76" fill="#ebf1f5"/>
<rect x="171.9" y="39.4" width="7.2" height="2.76" fill="#f7f7f7"/>
<rect x="178.8" y="39.4" width="72.0" height="2.76" fill="#f9eee8"/>
<rect x="-3.0" y="41.9" width="30.8" height="2.76" fill="#f9eee8"/>
<rect x="27.5" y="41.9" width="48.4" height="2.76" fill="#f8bda0"/>
<rect x="75.6" y="41.9" width="14.1" height="2.76" fill="#f9eee8"/>
<rect x="89.4" y="41.9" width="7.2" height="2.76" fill="#f7f7f7"/>
<rect x="96.2" y="41.9" width="7.2" height="2.76" fill="#ebf1f5"/>
<rect x="103.1" y="41.9" width="55.3" height="2.76" fill="#aed3e6"/>
<rect x="158.1" y="41.9" width="20.9" height="2.76" fill="#ebf1f5"/>
<rect x="178.8" y="41.9" width="7.2" height="2.76" fill="#f7f7f7"/>
<rect x="185.6" y="41.9" width="34.7" height="2.76" fill="#f9eee8"/>
<rect x="220.0" y="41.9" width="7.2" height="2.76" fill="#f7f7f7"/>
<rect x="226.9" y="41.9" width="7.2" height="2.76" fill="#ebf1f5"/>
<rect x="233.8" y="41.9" width="7.2" height="2.76" fill="#f7f7f7"/>
<rect x="240.6" y="41.9" width="10.2" height="2.76" fill="#f9eee8"/>
<rect x="-3.0" y="44.3" width="30.8" height="2.76" fill="#f9eee8"/>
<rect x="27.5" y="44.3" width="48.4" height="2.76" fill="#f8bda0"/>
<rect x="75.6" y="44.3" width="14.1" height="2.76" fill="#f9eee8"/>
<rect x="89.4" y="44.3" width="7.2" height="2.76" fill="#ffffff"/>
<rect x="96.2" y="44.3" width="14.1" height="2.76" fill="#f9eee8"/>
<rect x="110.0" y="44.3" width="14.1" height="2.76" fill="#f7f7f7"/>
<rect x="123.8" y="44.3" width="14.1" height="2.76" fill="#f9eee8"/>
<rect x="137.5" y="44.3" width="14.1" height="2.76" fill="#ebf1f5"/>
<rect x="151.2" y="44.3" width="34.7" height="2.76" fill="#f7f7f7"/>
<rect x="185.6" y="44.3" width="65.2" height="2.76" fill="#f9eee8"/>
<rect x="-3.0" y="46.8" width="30.8" height="2.76" fill="#f9eee8"/>
<rect x="27.5" y="46.8" width="41.5" height="2.76" fill="#f8bda0"/>
<rect x="68.8" y="46.8" width="7.2" height="2.76" fill="#f9eee8"/>
<rect x="75.6" y="46.8" width="14.1" height="2.76" fill="#f7f7f7"/>
<rect x="89.4" y="46.8" width="7.2" height="2.76" fill="#ffffff"/>
<rect x="96.2" y="46.8" width="27.8" height="2.76" fill="#f8bda0"/>
<rect x="123.8" y="46.8" width="127.0" height="2.76" fill="#f9eee8"/>
<rect x="-3.0" y="49.2" width="23.9" height="2.76" fill="#f9eee8"/>
<rect x="20.6" y="49.2" width="14.1" height="2.76" fill="#f8bda0"/>
<rect x="34.4" y="49.2" width="20.9" height="2.76" fill="#f9eee8"/>
<rect x="55.0" y="49.2" width="20.9" height="2.76" fill="#f8bda0"/>
<rect x="75.6" y="49.2" width="20.9" height="2.76" fill="#f7f7f7"/>
<rect x="96.2" y="49.2" width="34.7" height="2.76" fill="#ee9878"/>
<rect x="130.6" y="49.2" width="34.7" height="2.76" fill="#f8bda0"/>
<rect x="165.0" y="49.2" width="55.3" height="2.76" fill="#f9eee8"/>
<rect x="220.0" y="49.2" width="20.9" height="2.76" fill="#f8bda0"/>
<rect x="240.6" y="49.2" width="10.2" height="2.76" fill="#f9eee8"/>
<rect x="-3.0" y="51.7" width="23.9" height="2.76" fill="#f9eee8"/>
<rect x="20.6" y="51.7" width="14.1" height="2.76" fill="#f8bda0"/>
<rect x="34.4" y="51.7" width="20.9" height="2.76" fill="#f7f7f7"/>
<rect x="55.0" y="51.7" width="7.2" height="2.76" fill="#f9eee8"/>
<rect x="61.9" y="51.7" width="34.7" height="2.76" fill="#f8bda0"/>
<rect x="96.2" y="51.7" width="7.2" height="2.76" fill="#ee9878"/>
<rect x="103.1" y="51.7" width="14.1" height="2.76" fill="#dc6d57"/>
<rect x="116.9" y="51.7" width="41.5" height="2.76" fill="#ee9878"/>
<rect x="158.1" y="51.7" width="27.8" height="2.76" fill="#f8bda0"/>
<rect x="185.6" y="51.7" width="27.8" height="2.76" fill="#f9eee8"/>
<rect x="213.1" y="51.7" width="27.8" height="2.76" fill="#f8bda0"/>
<rect x="240.6" y="51.7" width="10.2" height="2.76" fill="#f9eee8"/>
<rect x="-3.0" y="54.2" width="23.9" height="2.76" fill="#f9eee8"/>
<rect x="20.6" y="54.2" width="75.9" height="2.76" fill="#f8bda0"/>
<rect x="96.2" y="54.2" width="7.2" height="2.76" fill="#ee9878"/>
<rect x="103.1" y="54.2" width="7.2" height="2.76" fill="#dc6d57"/>
<rect x="110.0" y="54.2" width="27.8" height="2.76" fill="#ee9878"/>
<rect x="137.5" y="54.2" width="7.2" height="2.76" fill="#dc6d57"/>
<rect x="144.4" y="54.2" width="20.9" height="2.76" fill="#ee9878"/>
<rect x="165.0" y="54.2" width="20.9" height="2.76" fill="#f8bda0"/>
<rect x="185.6" y="54.2" width="65.2" height="2.76" fill="#f9eee8"/>
<rect x="-3.0" y="56.6" width="17.1" height="2.76" fill="#f9eee8"/>
<rect x="13.8" y="56.6" width="89.7" height="2.76" fill="#f8bda0"/>
<rect x="103.1" y="56.6" width="69.0" height="2.76" fill="#ee9878"/>
<rect x="171.9" y="56.6" width="14.1" height="2.76" fill="#f8bda0"/>
<rect x="185.6" y="56.6" width="65.2" height="2.76" fill="#f9eee8"/>
<rect x="-3.0" y="59.1" width="37.7" height="2.76" fill="#f9eee8"/>
<rect x="34.4" y="59.1" width="75.9" height="2.76" fill="#f8bda0"/>
<rect x="110.0" y="59.1" width="20.9" height="2.76" fill="#ee9878"/>
<rect x="130.6" y="59.1" width="7.2" height="2.76" fill="#dc6d57"/>
<rect x="137.5" y="59.1" width="27.8" height="2.76" fill="#ee9878"/>
<rect x="165.0" y="59.1" width="27.8" height="2.76" fill="#f8bda0"/>
<rect x="192.5" y="59.1" width="58.3" height="2.76" fill="#f9eee8"/>
<rect x="-3.0" y="61.6" width="17.1" height="2.76" fill="#f9eee8"/>
<rect x="13.8" y="61.6" width="14.1" height="2.76" fill="#ebf1f5"/>
<rect x="27.5" y="61.6" width="7.2" height="2.76" fill="#f7f7f7"/>
<rect x="34.4" y="61.6" width="34.7" height="2.76" fill="#f9eee8"/>
<rect x="68.8" y="61.6" width="41.5" height="2.76" fill="#f8bda0"/>
<rect x="110.0" y="61.6" width="7.2" height="2.76" fill="#ee9878"/>
<rect x="116.9" y="61.6" width="69.0" height="2.76" fill="#f8bda0"/>
<rect x="185.6" y="61.6" width="65.2" height="2.76" fill="#f9eee8"/>
<rect x="-3.0" y="64.0" width="17.1" height="2.76" fill="#f9eee8"/>
<rect x="13.8" y="64.0" width="20.9" height="2.76" fill="#ebf1f5"/>
<rect x="34.4" y="64.0" width="199.7" height="2.76" fill="#f9eee8"/>
<rect x="233.8" y="64.0" width="17.1" height="2.76" fill="#ebf1f5"/>
<rect x="-3.0" y="66.5" width="253.8" height="2.76" fill="#f9eee8"/>
<rect x="-3.0" y="69.0" width="253.8" height="2.76" fill="#f9eee8"/>
<rect x="-3.0" y="71.4" width="10.2" height="2.76" fill="#f9eee8"/>
<rect x="6.9" y="71.4" width="7.2" height="2.76" fill="#f7f7f7"/>
<rect x="13.8" y="71.4" width="7.2" height="2.76" fill="#f9eee8"/>
<rect x="20.6" y="71.4" width="7.2" height="2.76" fill="#f7f7f7"/>
<rect x="27.5" y="71.4" width="7.2" height="2.76" fill="#f9eee8"/>
<rect x="34.4" y="71.4" width="7.2" height="2.76" fill="#f7f7f7"/>
<rect x="41.2" y="71.4" width="7.2" height="2.76" fill="#f9eee8"/>
<rect x="48.1" y="71.4" width="7.2" height="2.76" fill="#f7f7f7"/>
<rect x="55.0" y="71.4" width="7.2" height="2.76" fill="#f9eee8"/>
<rect x="61.9" y="71.4" width="7.2" height="2.76" fill="#f7f7f7"/>
<rect x="68.8" y="71.4" width="7.2" height="2.76" fill="#f9eee8"/>
<rect x="75.6" y="71.4" width="14.1" height="2.76" fill="#f7f7f7"/>
<rect x="89.4" y="71.4" width="7.2" height="2.76" fill="#f9eee8"/>
<rect x="96.2" y="71.4" width="7.2" height="2.76" fill="#f7f7f7"/>
<rect x="103.1" y="71.4" width="7.2" height="2.76" fill="#f9eee8"/>
<rect x="110.0" y="71.4" width="7.2" height="2.76" fill="#f7f7f7"/>
<rect x="116.9" y="71.4" width="7.2" height="2.76" fill="#f9eee8"/>
<rect x="123.8" y="71.4" width="7.2" height="2.76" fill="#f7f7f7"/>
<rect x="130.6" y="71.4" width="7.2" height="2.76" fill="#f9eee8"/>
<rect x="137.5" y="71.4" width="7.2" height="2.76" fill="#f7f7f7"/>
<rect x="144.4" y="71.4" width="7.2" height="2.76" fill="#f9eee8"/>
<rect x="151.2" y="71.4" width="7.2" height="2.76" fill="#f7f7f7"/>
<rect x="158.1" y="71.4" width="14.1" height="2.76" fill="#f9eee8"/>
<rect x="171.9" y="71.4" width="7.2" height="2.76" fill="#f7f7f7"/>
<rect x="178.8" y="71.4" width="7.2" height="2.76" fill="#f9eee8"/>
<rect x="185.6" y="71.4" width="7.2" height="2.76" fill="#f7f7f7"/>
<rect x="192.5" y="71.4" width="7.2" height="2.76" fill="#f9eee8"/>
<rect x="199.4" y="71.4" width="7.2" height="2.76" fill="#f7f7f7"/>
<rect x="206.2" y="71.4" width="7.2" height="2.76" fill="#f9eee8"/>
<rect x="213.1" y="71.4" width="7.2" height="2.76" fill="#f7f7f7"/>
<rect x="220.0" y="71.4" width="7.2" height="2.76" fill="#f9eee8"/>
<rect x="226.9" y="71.4" width="7.2" height="2.76" fill="#f7f7f7"/>
<rect x="233.8" y="71.4" width="7.2" height="2.76" fill="#f9eee8"/>
<rect x="240.6" y="71.4" width="10.2" height="2.76" fill="#f7f7f7"/>
<rect x="-3.0" y="73.9" width="253.8" height="2.76" fill="#f7f7f7"/>
<rect x="-3.0" y="76.3" width="253.8" height="5.76" fill="#f7f7f7"/>
</g>
<path d="M0.0 0.0h20.6v2.46h-20.6ZM226.9 0.0h20.6v2.46h-20.6ZM206.2 2.5h6.9v2.46h-6.9ZM220.0 2.5h20.6v2.46h-20.6ZM110.0 4.9h34.4v2.46h-34.4ZM206.2 4.9h13.8v2.46h-13.8ZM226.9 4.9h13.8v2.46h-13.8ZM96.2 7.4h61.9v2.46h-61.9ZM226.9 7.4h13.8v2.46h-13.8ZM96.2 9.8h61.9v2.46h-61.9ZM226.9 9.8h13.8v2.46h-13.8ZM103.1 12.3h55.0v2.46h-55.0ZM199.4 12.3h13.8v2.46h-13.8ZM220.0 12.3h20.6v2.46h-20.6ZM103.1 14.8h55.0v2.46h-55.0ZM185.6 14.8h20.6v2.46h-20.6ZM220.0 14.8h20.6v2.46h-20.6ZM103.1 17.2h55.0v2.46h-55.0ZM185.6 17.2h13.8v2.46h-13.8ZM213.1 17.2h20.6v2.46h-20.6ZM89.4 19.7h68.8v2.46h-68.8ZM192.5 19.7h41.2v2.46h-41.2ZM89.4 22.2h68.8v2.46h-68.8ZM165.0 22.2h6.9v2.46h-6.9ZM192.5 22.2h41.2v2.46h-41.2ZM41.2 24.6h13.8v2.46h-13.8ZM61.9 24.6h6.9v2.46h-6.9ZM89.4 24.6h61.9v2.46h-61.9ZM158.1 24.6h13.8v2.46h-13.8ZM192.5 24.6h6.9v2.46h-6.9ZM41.2 27.1h13.8v2.46h-13.8ZM61.9 27.1h6.9v2.46h-6.9ZM75.6 27.1h6.9v2.46h-6.9ZM158.1 27.1h20.6v2.46h-20.6ZM41.2 29.5h13.8v2.46h-13.8ZM61.9 29.5h6.9v2.46h-6.9ZM75.6 29.5h6.9v2.46h-6.9ZM151.2 29.5h27.5v2.46h-27.5ZM233.8 29.5h6.9v2.46h-6.9ZM48.1 32.0h20.6v2.46h-20.6ZM89.4 32.0h20.6v2.46h-20.6ZM0.0 34.5h6.9v2.46h-6.9ZM34.4 34.5h34.4v2.46h-34.4ZM96.2 34.5h34.4v2.46h-34.4ZM165.0 34.5h20.6v2.46h-20.6ZM226.9 34.5h13.8v2.46h-13.8ZM41.2 36.9h27.5v2.46h-27.5ZM103.1 36.9h27.5v2.46h-27.5ZM137.5 36.9h13.8v2.46h-13.8ZM165.0 36.9h20.6v2.46h-20.6ZM233.8 36.9h13.8v2.46h-13.8ZM0.0 39.4h6.9v2.46h-6.9ZM34.4 39.4h41.2v2.46h-41.2ZM103.1 39.4h34.4v2.46h-34.4ZM144.4 39.4h13.8v2.46h-13.8ZM165.0 39.4h27.5v2.46h-27.5ZM226.9 39.4h20.6v2.46h-20.6ZM0.0 41.9h6.9v2.46h-6.9ZM27.5 41.9h55.0v2.46h-55.0ZM130.6 41.9h20.6v2.46h-20.6ZM192.5 41.9h6.9v2.46h-6.9ZM0.0 44.3h6.9v2.46h-6.9ZM27.5 44.3h48.1v2.46h-48.1ZM240.6 44.3h6.9v2.46h-6.9ZM34.4 46.8h34.4v2.46h-34.4ZM96.2 46.8h27.5v2.46h-27.5ZM226.9 46.8h20.6v2.46h-20.6ZM55.0 49.2h20.6v2.46h-20.6ZM96.2 49.2h55.0v2.46h-55.0ZM165.0 49.2h20.6v2.46h-20.6ZM220.0 49.2h27.5v2.46h-27.5ZM61.9 51.7h13.8v2.46h-13.8ZM96.2 51.7h68.8v2.46h-68.8ZM171.9 51.7h27.5v2.46h-27.5ZM220.0 51.7h27.5v2.46h-27.5ZM20.6 54.2h55.0v2.46h-55.0ZM96.2 54.2h82.5v2.46h-82.5ZM185.6 54.2h13.8v2.46h-13.8ZM220.0 54.2h13.8v2.46h-13.8ZM240.6 54.2h6.9v2.46h-6.9ZM20.6 56.6h55.0v2.46h-55.0ZM96.2 56.6h96.2v2.46h-96.2ZM213.1 56.6h27.5v2.46h-27.5ZM34.4 59.1h41.2v2.46h-41.2ZM110.0 59.1h110.0v2.46h-110.0ZM41.2 61.6h185.6v2.46h-185.6ZM233.8 61.6h13.8v2.46h-13.8ZM0.0 64.0h41.2v2.46h-41.2ZM48.1 64.0h192.5v2.46h-192.5ZM0.0 66.5h247.5v2.46h-247.5ZM0.0 69.0h247.5v2.46h-247.5ZM0.0 71.4h6.9v2.46h-6.9ZM13.8 71.4h6.9v2.46h-6.9ZM27.5 71.4h6.9v2.46h-6.9ZM41.2 71.4h6.9v2.46h-6.9ZM55.0 71.4h6.9v2.46h-6.9ZM68.8 71.4h6.9v2.46h-6.9ZM82.5 71.4h6.9v2.46h-6.9ZM96.2 71.4h6.9v2.46h-6.9ZM110.0 71.4h6.9v2.46h-6.9ZM123.8 71.4h6.9v2.46h-6.9ZM137.5 71.4h6.9v2.46h-6.9ZM151.2 71.4h6.9v2.46h-6.9ZM165.0 71.4h6.9v2.46h-6.9ZM178.8 71.4h6.9v2.46h-6.9ZM192.5 71.4h6.9v2.46h-6.9ZM206.2 71.4h6.9v2.46h-6.9ZM220.0 71.4h6.9v2.46h-6.9ZM233.8 71.4h6.9v2.46h-6.9Z" fill="url(#dots)"/>
<use href="#nansea" fill="#7f7f7f" stroke="none"/>
<use href="#land" fill="#7f7f7f" stroke="none"/>
<use href="#land" fill="none" stroke="#000" stroke-width="0.8" stroke-linejoin="round"/>
</g>
<rect x="0" y="0" width="247.5" height="78.8" fill="none" stroke="#333" stroke-width="0.6"/>
</g>
<line x1="386.70" y1="147.58" x2="390.30" y2="147.58" stroke="#231f20" stroke-width="0.6"/>
<text x="383.70" y="150.28" font-size="7.3" text-anchor="end" font-weight="normal" >60° N</text>
<line x1="386.70" y1="162.00" x2="390.30" y2="162.00" stroke="#231f20" stroke-width="0.6"/>
<text x="383.70" y="164.70" font-size="7.3" text-anchor="end" font-weight="normal" >30° N</text>
<line x1="386.70" y1="181.70" x2="390.30" y2="181.70" stroke="#231f20" stroke-width="0.6"/>
<text x="383.70" y="184.40" font-size="7.3" text-anchor="end" font-weight="normal" >0°</text>
<line x1="386.70" y1="201.40" x2="390.30" y2="201.40" stroke="#231f20" stroke-width="0.6"/>
<text x="383.70" y="204.10" font-size="7.3" text-anchor="end" font-weight="normal" >30° S</text>
<line x1="386.70" y1="215.82" x2="390.30" y2="215.82" stroke="#231f20" stroke-width="0.6"/>
<text x="383.70" y="218.52" font-size="7.3" text-anchor="end" font-weight="normal" >60° S</text>
<line x1="390.30" y1="221.10" x2="390.30" y2="224.10" stroke="#231f20" stroke-width="0.6"/>
<text x="390.30" y="235.00" font-size="7.0" text-anchor="middle" font-weight="normal" >0°</text>
<line x1="431.55" y1="221.10" x2="431.55" y2="224.10" stroke="#231f20" stroke-width="0.6"/>
<text x="431.55" y="235.00" font-size="7.0" text-anchor="middle" font-weight="normal" >60° E</text>
<line x1="472.80" y1="221.10" x2="472.80" y2="224.10" stroke="#231f20" stroke-width="0.6"/>
<text x="472.80" y="235.00" font-size="7.0" text-anchor="middle" font-weight="normal" >120° E</text>
<line x1="514.05" y1="221.10" x2="514.05" y2="224.10" stroke="#231f20" stroke-width="0.6"/>
<text x="514.05" y="235.00" font-size="7.0" text-anchor="middle" font-weight="normal" >180°</text>
<line x1="555.30" y1="221.10" x2="555.30" y2="224.10" stroke="#231f20" stroke-width="0.6"/>
<text x="555.30" y="235.00" font-size="7.0" text-anchor="middle" font-weight="normal" >120° W</text>
<line x1="596.55" y1="221.10" x2="596.55" y2="224.10" stroke="#231f20" stroke-width="0.6"/>
<text x="596.55" y="235.00" font-size="7.0" text-anchor="middle" font-weight="normal" >60° W</text>
<text x="514.25" y="248.80" font-size="9.2" text-anchor="middle" font-weight="normal" >Longitude</text>
<text x="0" y="0" font-size="8.9" text-anchor="middle" transform="translate(359.30,181.30) rotate(-90)">Latitude</text>
<rect x="647.70" y="209.66" width="4.4" height="4.09" fill="#0e4178"/>
<rect x="647.70" y="205.62" width="4.4" height="4.09" fill="#1f63a7"/>
<rect x="647.70" y="201.59" width="4.4" height="4.09" fill="#347fb9"/>
<rect x="647.70" y="197.55" width="4.4" height="4.09" fill="#529cc8"/>
<rect x="647.70" y="193.51" width="4.4" height="4.09" fill="#83bcd9"/>
<rect x="647.70" y="189.47" width="4.4" height="4.09" fill="#aed3e6"/>
<rect x="647.70" y="185.44" width="4.4" height="4.09" fill="#d3e6f0"/>
<rect x="647.70" y="181.40" width="4.4" height="4.09" fill="#ebf1f5"/>
<rect x="647.70" y="177.36" width="4.4" height="4.09" fill="#f9eee8"/>
<rect x="647.70" y="173.32" width="4.4" height="4.09" fill="#fdddca"/>
<rect x="647.70" y="169.29" width="4.4" height="4.09" fill="#f8bda0"/>
<rect x="647.70" y="165.25" width="4.4" height="4.09" fill="#ee9878"/>
<rect x="647.70" y="161.21" width="4.4" height="4.09" fill="#dc6d57"/>
<rect x="647.70" y="157.18" width="4.4" height="4.09" fill="#c6403e"/>
<rect x="647.70" y="153.14" width="4.4" height="4.09" fill="#ad162a"/>
<rect x="647.70" y="149.10" width="4.4" height="4.09" fill="#7e0823"/>
<path d="M647.70 149.10L649.90 145.50L652.10 149.10Z" fill="#67001f"/>
<path d="M647.70 213.70L649.90 217.90L652.10 213.70Z" fill="#053061"/>
<line x1="652.10" y1="149.10" x2="654.70" y2="149.10" stroke="#231f20" stroke-width="0.6"/>
<text x="657.50" y="151.60" font-size="7.3" text-anchor="start" font-weight="normal" >8</text>
<line x1="652.10" y1="165.25" x2="654.70" y2="165.25" stroke="#231f20" stroke-width="0.6"/>
<text x="657.50" y="167.75" font-size="7.3" text-anchor="start" font-weight="normal" >4</text>
<line x1="652.10" y1="181.40" x2="654.70" y2="181.40" stroke="#231f20" stroke-width="0.6"/>
<text x="657.50" y="183.90" font-size="7.3" text-anchor="start" font-weight="normal" >0</text>
<line x1="652.10" y1="197.55" x2="654.70" y2="197.55" stroke="#231f20" stroke-width="0.6"/>
<text x="657.50" y="200.05" font-size="7.3" text-anchor="start" font-weight="normal" >−4</text>
<line x1="652.10" y1="213.70" x2="654.70" y2="213.70" stroke="#231f20" stroke-width="0.6"/>
<text x="657.50" y="216.20" font-size="7.3" text-anchor="start" font-weight="normal" >−8</text>
<text x="-0.30" y="6.70" font-size="12.7" text-anchor="start" font-weight="bold"  style="fill:#000">a</text>
<text x="-0.20" y="140.50" font-size="12.7" text-anchor="start" font-weight="bold"  style="fill:#000">b</text>
<text x="352.40" y="7.90" font-size="12.7" text-anchor="start" font-weight="bold"  style="fill:#000">c</text>
<text x="352.50" y="140.50" font-size="12.7" text-anchor="start" font-weight="bold"  style="fill:#000">d</text>
<text x="291.20" y="9.80" font-size="8.1">×10<tspan font-size="6" dy="-3.2">−7</tspan></text>
<text x="291.20" y="141.20" font-size="8.1">×10<tspan font-size="6" dy="-3.2">−8</tspan></text>
<text x="642.80" y="9.80" font-size="8.1">×10<tspan font-size="6" dy="-3.2">−4</tspan></text>
<text x="642.80" y="141.20" font-size="8.1">×10<tspan font-size="6" dy="-3.2">−6</tspan></text>
<text x="0" y="0" font-size="8.0" text-anchor="middle" transform="translate(331.00,47.00) rotate(90)">WSC (N m<tspan font-size="5.3" dy="-2.6">−3</tspan><tspan dy="2.6">)</tspan></text>
<text x="0" y="0" font-size="8.0" text-anchor="middle" transform="translate(331.00,179.20) rotate(90)">ΔWSC (N m<tspan font-size="5.3" dy="-2.6">−3</tspan><tspan dy="2.6">)</tspan></text>
<text x="0" y="0" font-size="8.0" text-anchor="middle" transform="translate(676.00,49.80) rotate(90)"><tspan font-style="italic">N</tspan><tspan font-size="5.3" dy="-2.6">2</tspan><tspan dy="2.6"> (s</tspan><tspan font-size="5.3" dy="-2.6">−2</tspan><tspan dy="2.6">)</tspan></text>
<text x="0" y="0" font-size="8.0" text-anchor="middle" transform="translate(672.20,181.40) rotate(90)">Δ<tspan font-style="italic">N</tspan><tspan font-size="5.3" dy="-2.6">2</tspan><tspan dy="2.6"> (s</tspan><tspan font-size="5.3" dy="-2.6">−2</tspan><tspan dy="2.6">)</tspan></text>
</svg></body></html>
